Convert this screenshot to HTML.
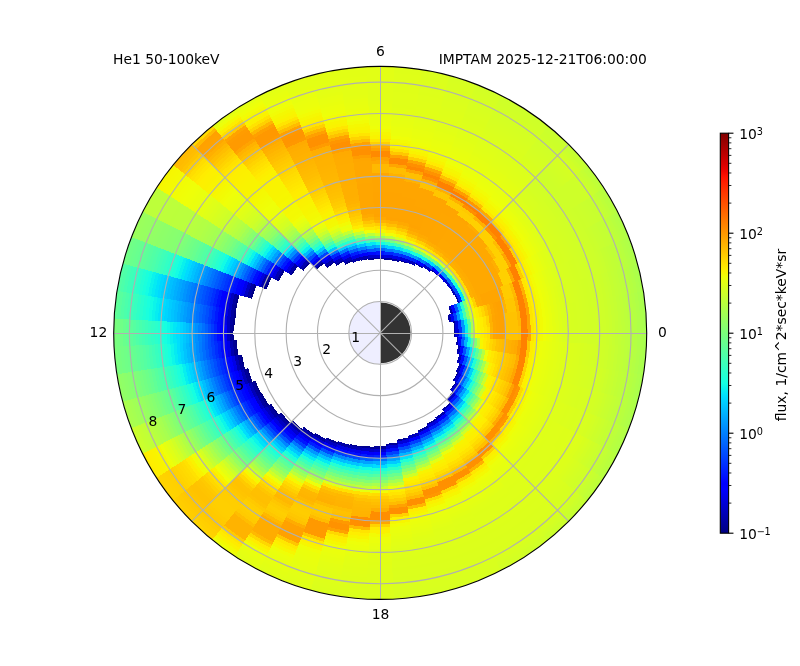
<!DOCTYPE html>
<html><head><meta charset="utf-8"><title>He1 50-100keV</title>
<style>html,body{margin:0;padding:0;background:#fff}svg{display:block}text{font-family:"DejaVu Sans","Liberation Sans",sans-serif;fill:#000}</style></head><body>
<svg width="800" height="666" viewBox="0 0 800 666">
<rect width="800" height="666" fill="#fff"/>
<defs><radialGradient id="g0" gradientUnits="userSpaceOnUse" cx="380.20" cy="332.90" r="266.50"><stop offset="0.2776" stop-color="#000094"/><stop offset="0.2824" stop-color="#000094"/><stop offset="0.2824" stop-color="#0000da"/><stop offset="0.2941" stop-color="#0000da"/><stop offset="0.2941" stop-color="#002fff"/><stop offset="0.3059" stop-color="#002fff"/><stop offset="0.3059" stop-color="#0094ff"/><stop offset="0.3176" stop-color="#0094ff"/><stop offset="0.3176" stop-color="#08efef"/><stop offset="0.3294" stop-color="#08efef"/><stop offset="0.3294" stop-color="#58ff9f"/><stop offset="0.3412" stop-color="#58ff9f"/><stop offset="0.3412" stop-color="#a7ff50"/><stop offset="0.3529" stop-color="#a7ff50"/><stop offset="0.3529" stop-color="#efff08"/><stop offset="0.3647" stop-color="#efff08"/><stop offset="0.3647" stop-color="#f6f701"/><stop offset="0.3765" stop-color="#f6f701"/><stop offset="0.3765" stop-color="#fdee00"/><stop offset="0.3882" stop-color="#fdee00"/><stop offset="0.3882" stop-color="#ffe600"/><stop offset="0.4000" stop-color="#ffe600"/><stop offset="0.4000" stop-color="#ffde00"/><stop offset="0.4118" stop-color="#ffde00"/><stop offset="0.4118" stop-color="#ffb500"/><stop offset="0.4235" stop-color="#ffb500"/><stop offset="0.4235" stop-color="#ffa500"/><stop offset="0.4353" stop-color="#ffa500"/><stop offset="0.4353" stop-color="#ffa200"/><stop offset="0.4471" stop-color="#ffa200"/><stop offset="0.4471" stop-color="#ffa100"/><stop offset="0.4706" stop-color="#ffa100"/><stop offset="0.4706" stop-color="#ffc200"/><stop offset="0.5176" stop-color="#ffc200"/><stop offset="0.5176" stop-color="#ffbe00"/><stop offset="0.5294" stop-color="#ffbe00"/><stop offset="0.5294" stop-color="#ff8000"/><stop offset="0.5529" stop-color="#ff8000"/><stop offset="0.5529" stop-color="#ffa300"/><stop offset="0.5647" stop-color="#ffa300"/><stop offset="0.5647" stop-color="#ffe500"/><stop offset="0.5765" stop-color="#ffe500"/><stop offset="0.5765" stop-color="#ffed00"/><stop offset="0.5882" stop-color="#ffed00"/><stop offset="0.5882" stop-color="#f8f400"/><stop offset="0.6000" stop-color="#f8f400"/><stop offset="0.6000" stop-color="#f2fb04"/><stop offset="0.6118" stop-color="#f2fb04"/><stop offset="0.6118" stop-color="#efff08"/><stop offset="0.6235" stop-color="#efff08"/><stop offset="0.6235" stop-color="#ebff0b"/><stop offset="0.6353" stop-color="#ebff0b"/><stop offset="0.6353" stop-color="#e8ff0f"/><stop offset="0.6471" stop-color="#e8ff0f"/><stop offset="0.6471" stop-color="#e4ff12"/><stop offset="0.6588" stop-color="#e4ff12"/><stop offset="0.6588" stop-color="#e1ff16"/><stop offset="0.6706" stop-color="#e1ff16"/><stop offset="0.6706" stop-color="#deff19"/><stop offset="0.6824" stop-color="#deff19"/><stop offset="0.6824" stop-color="#daff1d"/><stop offset="0.6941" stop-color="#daff1d"/><stop offset="0.6941" stop-color="#d8ff1f"/><stop offset="0.7059" stop-color="#d8ff1f"/><stop offset="0.7059" stop-color="#d7ff20"/><stop offset="0.7176" stop-color="#d7ff20"/><stop offset="0.7176" stop-color="#d6ff20"/><stop offset="0.7294" stop-color="#d6ff20"/><stop offset="0.7294" stop-color="#d5ff21"/><stop offset="0.7412" stop-color="#d5ff21"/><stop offset="0.7412" stop-color="#d5ff22"/><stop offset="0.7529" stop-color="#d5ff22"/><stop offset="0.7529" stop-color="#d4ff23"/><stop offset="0.7647" stop-color="#d4ff23"/><stop offset="0.7647" stop-color="#d3ff24"/><stop offset="0.7765" stop-color="#d3ff24"/><stop offset="0.7765" stop-color="#d2ff25"/><stop offset="0.7882" stop-color="#d2ff25"/><stop offset="0.7882" stop-color="#d1ff25"/><stop offset="0.8000" stop-color="#d1ff25"/><stop offset="0.8000" stop-color="#d1ff26"/><stop offset="0.8118" stop-color="#d1ff26"/><stop offset="0.8118" stop-color="#d0ff27"/><stop offset="0.8235" stop-color="#d0ff27"/><stop offset="0.8235" stop-color="#cfff28"/><stop offset="0.8353" stop-color="#cfff28"/><stop offset="0.8353" stop-color="#ceff29"/><stop offset="0.8471" stop-color="#ceff29"/><stop offset="0.8471" stop-color="#ccff2a"/><stop offset="0.8588" stop-color="#ccff2a"/><stop offset="0.8588" stop-color="#caff2d"/><stop offset="0.8706" stop-color="#caff2d"/><stop offset="0.8706" stop-color="#c7ff30"/><stop offset="0.8824" stop-color="#c7ff30"/><stop offset="0.8824" stop-color="#c4ff32"/><stop offset="0.8941" stop-color="#c4ff32"/><stop offset="0.8941" stop-color="#c2ff35"/><stop offset="0.9059" stop-color="#c2ff35"/><stop offset="0.9059" stop-color="#bfff38"/><stop offset="0.9176" stop-color="#bfff38"/><stop offset="0.9176" stop-color="#bcff3b"/><stop offset="0.9294" stop-color="#bcff3b"/><stop offset="0.9294" stop-color="#baff3d"/><stop offset="0.9412" stop-color="#baff3d"/><stop offset="0.9412" stop-color="#b6ff40"/><stop offset="0.9529" stop-color="#b6ff40"/><stop offset="0.9529" stop-color="#b3ff44"/><stop offset="0.9647" stop-color="#b3ff44"/><stop offset="0.9647" stop-color="#afff48"/><stop offset="0.9765" stop-color="#afff48"/><stop offset="0.9765" stop-color="#acff4b"/><stop offset="0.9882" stop-color="#acff4b"/><stop offset="0.9882" stop-color="#a8ff4f"/><stop offset="1.0000" stop-color="#a8ff4f"/></radialGradient>
<radialGradient id="g1" gradientUnits="userSpaceOnUse" cx="380.20" cy="332.90" r="266.50"><stop offset="0.2776" stop-color="#000094"/><stop offset="0.2824" stop-color="#000094"/><stop offset="0.2824" stop-color="#0000da"/><stop offset="0.2941" stop-color="#0000da"/><stop offset="0.2941" stop-color="#002fff"/><stop offset="0.3059" stop-color="#002fff"/><stop offset="0.3059" stop-color="#0094ff"/><stop offset="0.3176" stop-color="#0094ff"/><stop offset="0.3176" stop-color="#08efef"/><stop offset="0.3294" stop-color="#08efef"/><stop offset="0.3294" stop-color="#58ff9f"/><stop offset="0.3412" stop-color="#58ff9f"/><stop offset="0.3412" stop-color="#a7ff50"/><stop offset="0.3529" stop-color="#a7ff50"/><stop offset="0.3529" stop-color="#efff08"/><stop offset="0.3647" stop-color="#efff08"/><stop offset="0.3647" stop-color="#f6f600"/><stop offset="0.3765" stop-color="#f6f600"/><stop offset="0.3765" stop-color="#feed00"/><stop offset="0.3882" stop-color="#feed00"/><stop offset="0.3882" stop-color="#ffe400"/><stop offset="0.4000" stop-color="#ffe400"/><stop offset="0.4000" stop-color="#ffd400"/><stop offset="0.4118" stop-color="#ffd400"/><stop offset="0.4118" stop-color="#ffb200"/><stop offset="0.4235" stop-color="#ffb200"/><stop offset="0.4235" stop-color="#ffa500"/><stop offset="0.4353" stop-color="#ffa500"/><stop offset="0.4353" stop-color="#ffa200"/><stop offset="0.4471" stop-color="#ffa200"/><stop offset="0.4471" stop-color="#ffa100"/><stop offset="0.4706" stop-color="#ffa100"/><stop offset="0.4706" stop-color="#ffc200"/><stop offset="0.5176" stop-color="#ffc200"/><stop offset="0.5176" stop-color="#ffb600"/><stop offset="0.5294" stop-color="#ffb600"/><stop offset="0.5294" stop-color="#ff8000"/><stop offset="0.5529" stop-color="#ff8000"/><stop offset="0.5529" stop-color="#ffa300"/><stop offset="0.5647" stop-color="#ffa300"/><stop offset="0.5647" stop-color="#ffe500"/><stop offset="0.5765" stop-color="#ffe500"/><stop offset="0.5765" stop-color="#ffed00"/><stop offset="0.5882" stop-color="#ffed00"/><stop offset="0.5882" stop-color="#f8f400"/><stop offset="0.6000" stop-color="#f8f400"/><stop offset="0.6000" stop-color="#f2fb04"/><stop offset="0.6118" stop-color="#f2fb04"/><stop offset="0.6118" stop-color="#efff08"/><stop offset="0.6235" stop-color="#efff08"/><stop offset="0.6235" stop-color="#ebff0b"/><stop offset="0.6353" stop-color="#ebff0b"/><stop offset="0.6353" stop-color="#e8ff0f"/><stop offset="0.6471" stop-color="#e8ff0f"/><stop offset="0.6471" stop-color="#e4ff12"/><stop offset="0.6588" stop-color="#e4ff12"/><stop offset="0.6588" stop-color="#e1ff16"/><stop offset="0.6706" stop-color="#e1ff16"/><stop offset="0.6706" stop-color="#deff19"/><stop offset="0.6824" stop-color="#deff19"/><stop offset="0.6824" stop-color="#daff1d"/><stop offset="0.6941" stop-color="#daff1d"/><stop offset="0.6941" stop-color="#d8ff1f"/><stop offset="0.7059" stop-color="#d8ff1f"/><stop offset="0.7059" stop-color="#d7ff20"/><stop offset="0.7176" stop-color="#d7ff20"/><stop offset="0.7176" stop-color="#d6ff20"/><stop offset="0.7294" stop-color="#d6ff20"/><stop offset="0.7294" stop-color="#d5ff21"/><stop offset="0.7412" stop-color="#d5ff21"/><stop offset="0.7412" stop-color="#d5ff22"/><stop offset="0.7529" stop-color="#d5ff22"/><stop offset="0.7529" stop-color="#d4ff23"/><stop offset="0.7647" stop-color="#d4ff23"/><stop offset="0.7647" stop-color="#d3ff24"/><stop offset="0.7765" stop-color="#d3ff24"/><stop offset="0.7765" stop-color="#d2ff25"/><stop offset="0.7882" stop-color="#d2ff25"/><stop offset="0.7882" stop-color="#d1ff25"/><stop offset="0.8000" stop-color="#d1ff25"/><stop offset="0.8000" stop-color="#d1ff26"/><stop offset="0.8118" stop-color="#d1ff26"/><stop offset="0.8118" stop-color="#d0ff27"/><stop offset="0.8235" stop-color="#d0ff27"/><stop offset="0.8235" stop-color="#cfff28"/><stop offset="0.8353" stop-color="#cfff28"/><stop offset="0.8353" stop-color="#ceff29"/><stop offset="0.8471" stop-color="#ceff29"/><stop offset="0.8471" stop-color="#ccff2a"/><stop offset="0.8588" stop-color="#ccff2a"/><stop offset="0.8588" stop-color="#caff2d"/><stop offset="0.8706" stop-color="#caff2d"/><stop offset="0.8706" stop-color="#c7ff30"/><stop offset="0.8824" stop-color="#c7ff30"/><stop offset="0.8824" stop-color="#c5ff32"/><stop offset="0.8941" stop-color="#c5ff32"/><stop offset="0.8941" stop-color="#c2ff35"/><stop offset="0.9059" stop-color="#c2ff35"/><stop offset="0.9059" stop-color="#c0ff37"/><stop offset="0.9176" stop-color="#c0ff37"/><stop offset="0.9176" stop-color="#bdff3a"/><stop offset="0.9294" stop-color="#bdff3a"/><stop offset="0.9294" stop-color="#baff3c"/><stop offset="0.9412" stop-color="#baff3c"/><stop offset="0.9412" stop-color="#b7ff40"/><stop offset="0.9529" stop-color="#b7ff40"/><stop offset="0.9529" stop-color="#b4ff43"/><stop offset="0.9647" stop-color="#b4ff43"/><stop offset="0.9647" stop-color="#b0ff47"/><stop offset="0.9765" stop-color="#b0ff47"/><stop offset="0.9765" stop-color="#acff4a"/><stop offset="0.9882" stop-color="#acff4a"/><stop offset="0.9882" stop-color="#a9ff4e"/><stop offset="1.0000" stop-color="#a9ff4e"/></radialGradient>
<radialGradient id="g2" gradientUnits="userSpaceOnUse" cx="380.20" cy="332.90" r="266.50"><stop offset="0.2612" stop-color="#0000a3"/><stop offset="0.2706" stop-color="#0000a3"/><stop offset="0.2706" stop-color="#0000f3"/><stop offset="0.2824" stop-color="#0000f3"/><stop offset="0.2824" stop-color="#003dff"/><stop offset="0.2941" stop-color="#003dff"/><stop offset="0.2941" stop-color="#0096ff"/><stop offset="0.3059" stop-color="#0096ff"/><stop offset="0.3059" stop-color="#01e6f6"/><stop offset="0.3176" stop-color="#01e6f6"/><stop offset="0.3176" stop-color="#46ffb0"/><stop offset="0.3294" stop-color="#46ffb0"/><stop offset="0.3294" stop-color="#90ff67"/><stop offset="0.3412" stop-color="#90ff67"/><stop offset="0.3412" stop-color="#cfff28"/><stop offset="0.3529" stop-color="#cfff28"/><stop offset="0.3529" stop-color="#f3f903"/><stop offset="0.3647" stop-color="#f3f903"/><stop offset="0.3647" stop-color="#fdee00"/><stop offset="0.3765" stop-color="#fdee00"/><stop offset="0.3765" stop-color="#ffe300"/><stop offset="0.3882" stop-color="#ffe300"/><stop offset="0.3882" stop-color="#ffd600"/><stop offset="0.4000" stop-color="#ffd600"/><stop offset="0.4000" stop-color="#ffc500"/><stop offset="0.4118" stop-color="#ffc500"/><stop offset="0.4118" stop-color="#ffb400"/><stop offset="0.4235" stop-color="#ffb400"/><stop offset="0.4235" stop-color="#ffa700"/><stop offset="0.4353" stop-color="#ffa700"/><stop offset="0.4353" stop-color="#ffa300"/><stop offset="0.4471" stop-color="#ffa300"/><stop offset="0.4471" stop-color="#ffa100"/><stop offset="0.4706" stop-color="#ffa100"/><stop offset="0.4706" stop-color="#ffb300"/><stop offset="0.4824" stop-color="#ffb300"/><stop offset="0.4824" stop-color="#ffc600"/><stop offset="0.5176" stop-color="#ffc600"/><stop offset="0.5176" stop-color="#ffaf00"/><stop offset="0.5294" stop-color="#ffaf00"/><stop offset="0.5294" stop-color="#ff8000"/><stop offset="0.5529" stop-color="#ff8000"/><stop offset="0.5529" stop-color="#ffa300"/><stop offset="0.5647" stop-color="#ffa300"/><stop offset="0.5647" stop-color="#ffe500"/><stop offset="0.5765" stop-color="#ffe500"/><stop offset="0.5765" stop-color="#ffed00"/><stop offset="0.5882" stop-color="#ffed00"/><stop offset="0.5882" stop-color="#f8f400"/><stop offset="0.6000" stop-color="#f8f400"/><stop offset="0.6000" stop-color="#f2fb04"/><stop offset="0.6118" stop-color="#f2fb04"/><stop offset="0.6118" stop-color="#efff08"/><stop offset="0.6235" stop-color="#efff08"/><stop offset="0.6235" stop-color="#ebff0b"/><stop offset="0.6353" stop-color="#ebff0b"/><stop offset="0.6353" stop-color="#e8ff0f"/><stop offset="0.6471" stop-color="#e8ff0f"/><stop offset="0.6471" stop-color="#e4ff12"/><stop offset="0.6588" stop-color="#e4ff12"/><stop offset="0.6588" stop-color="#e1ff16"/><stop offset="0.6706" stop-color="#e1ff16"/><stop offset="0.6706" stop-color="#deff18"/><stop offset="0.6824" stop-color="#deff18"/><stop offset="0.6824" stop-color="#dbff1b"/><stop offset="0.6941" stop-color="#dbff1b"/><stop offset="0.6941" stop-color="#d8ff1e"/><stop offset="0.7059" stop-color="#d8ff1e"/><stop offset="0.7059" stop-color="#d7ff1f"/><stop offset="0.7176" stop-color="#d7ff1f"/><stop offset="0.7176" stop-color="#d7ff20"/><stop offset="0.7294" stop-color="#d7ff20"/><stop offset="0.7294" stop-color="#d6ff21"/><stop offset="0.7412" stop-color="#d6ff21"/><stop offset="0.7412" stop-color="#d5ff22"/><stop offset="0.7529" stop-color="#d5ff22"/><stop offset="0.7529" stop-color="#d4ff23"/><stop offset="0.7647" stop-color="#d4ff23"/><stop offset="0.7647" stop-color="#d3ff24"/><stop offset="0.7765" stop-color="#d3ff24"/><stop offset="0.7765" stop-color="#d2ff24"/><stop offset="0.7882" stop-color="#d2ff24"/><stop offset="0.7882" stop-color="#d1ff25"/><stop offset="0.8000" stop-color="#d1ff25"/><stop offset="0.8000" stop-color="#d1ff26"/><stop offset="0.8118" stop-color="#d1ff26"/><stop offset="0.8118" stop-color="#d0ff27"/><stop offset="0.8235" stop-color="#d0ff27"/><stop offset="0.8235" stop-color="#cfff28"/><stop offset="0.8353" stop-color="#cfff28"/><stop offset="0.8353" stop-color="#ceff29"/><stop offset="0.8471" stop-color="#ceff29"/><stop offset="0.8471" stop-color="#ccff2a"/><stop offset="0.8588" stop-color="#ccff2a"/><stop offset="0.8588" stop-color="#caff2d"/><stop offset="0.8706" stop-color="#caff2d"/><stop offset="0.8706" stop-color="#c8ff2f"/><stop offset="0.8824" stop-color="#c8ff2f"/><stop offset="0.8824" stop-color="#c5ff31"/><stop offset="0.8941" stop-color="#c5ff31"/><stop offset="0.8941" stop-color="#c3ff34"/><stop offset="0.9059" stop-color="#c3ff34"/><stop offset="0.9059" stop-color="#c1ff36"/><stop offset="0.9176" stop-color="#c1ff36"/><stop offset="0.9176" stop-color="#beff39"/><stop offset="0.9294" stop-color="#beff39"/><stop offset="0.9294" stop-color="#bcff3b"/><stop offset="0.9412" stop-color="#bcff3b"/><stop offset="0.9412" stop-color="#b9ff3e"/><stop offset="0.9529" stop-color="#b9ff3e"/><stop offset="0.9529" stop-color="#b5ff41"/><stop offset="0.9647" stop-color="#b5ff41"/><stop offset="0.9647" stop-color="#b2ff45"/><stop offset="0.9765" stop-color="#b2ff45"/><stop offset="0.9765" stop-color="#aeff49"/><stop offset="0.9882" stop-color="#aeff49"/><stop offset="0.9882" stop-color="#aaff4c"/><stop offset="1.0000" stop-color="#aaff4c"/></radialGradient>
<radialGradient id="g3" gradientUnits="userSpaceOnUse" cx="380.20" cy="332.90" r="266.50"><stop offset="0.2741" stop-color="#0000a4"/><stop offset="0.2824" stop-color="#0000a4"/><stop offset="0.2824" stop-color="#0000fc"/><stop offset="0.2941" stop-color="#0000fc"/><stop offset="0.2941" stop-color="#0054ff"/><stop offset="0.3059" stop-color="#0054ff"/><stop offset="0.3059" stop-color="#00b9ff"/><stop offset="0.3176" stop-color="#00b9ff"/><stop offset="0.3176" stop-color="#28ffcf"/><stop offset="0.3294" stop-color="#28ffcf"/><stop offset="0.3294" stop-color="#7eff79"/><stop offset="0.3412" stop-color="#7eff79"/><stop offset="0.3412" stop-color="#caff2d"/><stop offset="0.3529" stop-color="#caff2d"/><stop offset="0.3529" stop-color="#fbf100"/><stop offset="0.3647" stop-color="#fbf100"/><stop offset="0.3647" stop-color="#ffd300"/><stop offset="0.3765" stop-color="#ffd300"/><stop offset="0.3765" stop-color="#ffad00"/><stop offset="0.3882" stop-color="#ffad00"/><stop offset="0.3882" stop-color="#ffa900"/><stop offset="0.4000" stop-color="#ffa900"/><stop offset="0.4000" stop-color="#ffa500"/><stop offset="0.4824" stop-color="#ffa500"/><stop offset="0.4824" stop-color="#ffcb00"/><stop offset="0.5176" stop-color="#ffcb00"/><stop offset="0.5176" stop-color="#ffba00"/><stop offset="0.5294" stop-color="#ffba00"/><stop offset="0.5294" stop-color="#ff8000"/><stop offset="0.5529" stop-color="#ff8000"/><stop offset="0.5529" stop-color="#ffaf00"/><stop offset="0.5647" stop-color="#ffaf00"/><stop offset="0.5647" stop-color="#ffe600"/><stop offset="0.5765" stop-color="#ffe600"/><stop offset="0.5765" stop-color="#feed00"/><stop offset="0.5882" stop-color="#feed00"/><stop offset="0.5882" stop-color="#f8f400"/><stop offset="0.6000" stop-color="#f8f400"/><stop offset="0.6000" stop-color="#f2fb05"/><stop offset="0.6118" stop-color="#f2fb05"/><stop offset="0.6118" stop-color="#eeff08"/><stop offset="0.6235" stop-color="#eeff08"/><stop offset="0.6235" stop-color="#ebff0c"/><stop offset="0.6353" stop-color="#ebff0c"/><stop offset="0.6353" stop-color="#e8ff0f"/><stop offset="0.6471" stop-color="#e8ff0f"/><stop offset="0.6471" stop-color="#e4ff13"/><stop offset="0.6588" stop-color="#e4ff13"/><stop offset="0.6588" stop-color="#e1ff16"/><stop offset="0.6706" stop-color="#e1ff16"/><stop offset="0.6706" stop-color="#dfff18"/><stop offset="0.6824" stop-color="#dfff18"/><stop offset="0.6824" stop-color="#dcff1b"/><stop offset="0.6941" stop-color="#dcff1b"/><stop offset="0.6941" stop-color="#daff1d"/><stop offset="0.7059" stop-color="#daff1d"/><stop offset="0.7059" stop-color="#d8ff1f"/><stop offset="0.7176" stop-color="#d8ff1f"/><stop offset="0.7176" stop-color="#d7ff20"/><stop offset="0.7294" stop-color="#d7ff20"/><stop offset="0.7294" stop-color="#d6ff21"/><stop offset="0.7412" stop-color="#d6ff21"/><stop offset="0.7412" stop-color="#d5ff22"/><stop offset="0.7529" stop-color="#d5ff22"/><stop offset="0.7529" stop-color="#d4ff22"/><stop offset="0.7647" stop-color="#d4ff22"/><stop offset="0.7647" stop-color="#d3ff23"/><stop offset="0.7765" stop-color="#d3ff23"/><stop offset="0.7765" stop-color="#d3ff24"/><stop offset="0.7882" stop-color="#d3ff24"/><stop offset="0.7882" stop-color="#d2ff25"/><stop offset="0.8000" stop-color="#d2ff25"/><stop offset="0.8000" stop-color="#d1ff26"/><stop offset="0.8118" stop-color="#d1ff26"/><stop offset="0.8118" stop-color="#d0ff27"/><stop offset="0.8235" stop-color="#d0ff27"/><stop offset="0.8235" stop-color="#cfff28"/><stop offset="0.8353" stop-color="#cfff28"/><stop offset="0.8353" stop-color="#ceff29"/><stop offset="0.8471" stop-color="#ceff29"/><stop offset="0.8471" stop-color="#cdff2a"/><stop offset="0.8588" stop-color="#cdff2a"/><stop offset="0.8588" stop-color="#cbff2c"/><stop offset="0.8706" stop-color="#cbff2c"/><stop offset="0.8706" stop-color="#c9ff2e"/><stop offset="0.8824" stop-color="#c9ff2e"/><stop offset="0.8824" stop-color="#c6ff30"/><stop offset="0.8941" stop-color="#c6ff30"/><stop offset="0.8941" stop-color="#c4ff32"/><stop offset="0.9059" stop-color="#c4ff32"/><stop offset="0.9059" stop-color="#c2ff34"/><stop offset="0.9176" stop-color="#c2ff34"/><stop offset="0.9176" stop-color="#c0ff36"/><stop offset="0.9294" stop-color="#c0ff36"/><stop offset="0.9294" stop-color="#beff39"/><stop offset="0.9412" stop-color="#beff39"/><stop offset="0.9412" stop-color="#bbff3b"/><stop offset="0.9529" stop-color="#bbff3b"/><stop offset="0.9529" stop-color="#b8ff3f"/><stop offset="0.9647" stop-color="#b8ff3f"/><stop offset="0.9647" stop-color="#b4ff43"/><stop offset="0.9765" stop-color="#b4ff43"/><stop offset="0.9765" stop-color="#b1ff46"/><stop offset="0.9882" stop-color="#b1ff46"/><stop offset="0.9882" stop-color="#adff4a"/><stop offset="1.0000" stop-color="#adff4a"/></radialGradient>
<radialGradient id="g4" gradientUnits="userSpaceOnUse" cx="380.20" cy="332.90" r="266.50"><stop offset="0.3129" stop-color="#0000a7"/><stop offset="0.3176" stop-color="#0000a7"/><stop offset="0.3176" stop-color="#0023ff"/><stop offset="0.3294" stop-color="#0023ff"/><stop offset="0.3294" stop-color="#00e1fa"/><stop offset="0.3412" stop-color="#00e1fa"/><stop offset="0.3412" stop-color="#9aff5d"/><stop offset="0.3529" stop-color="#9aff5d"/><stop offset="0.3529" stop-color="#ffe500"/><stop offset="0.3647" stop-color="#ffe500"/><stop offset="0.3647" stop-color="#ffb000"/><stop offset="0.3765" stop-color="#ffb000"/><stop offset="0.3765" stop-color="#ffac00"/><stop offset="0.3882" stop-color="#ffac00"/><stop offset="0.3882" stop-color="#ffa800"/><stop offset="0.4941" stop-color="#ffa800"/><stop offset="0.4941" stop-color="#ffd000"/><stop offset="0.5294" stop-color="#ffd000"/><stop offset="0.5294" stop-color="#ffa800"/><stop offset="0.5412" stop-color="#ffa800"/><stop offset="0.5412" stop-color="#ff8000"/><stop offset="0.5647" stop-color="#ff8000"/><stop offset="0.5647" stop-color="#ffcb00"/><stop offset="0.5765" stop-color="#ffcb00"/><stop offset="0.5765" stop-color="#ffe800"/><stop offset="0.5882" stop-color="#ffe800"/><stop offset="0.5882" stop-color="#fcef00"/><stop offset="0.6000" stop-color="#fcef00"/><stop offset="0.6000" stop-color="#f6f701"/><stop offset="0.6118" stop-color="#f6f701"/><stop offset="0.6118" stop-color="#f1fc06"/><stop offset="0.6235" stop-color="#f1fc06"/><stop offset="0.6235" stop-color="#edff09"/><stop offset="0.6353" stop-color="#edff09"/><stop offset="0.6353" stop-color="#eaff0d"/><stop offset="0.6471" stop-color="#eaff0d"/><stop offset="0.6471" stop-color="#e7ff10"/><stop offset="0.6588" stop-color="#e7ff10"/><stop offset="0.6588" stop-color="#e3ff14"/><stop offset="0.6706" stop-color="#e3ff14"/><stop offset="0.6706" stop-color="#e0ff16"/><stop offset="0.6824" stop-color="#e0ff16"/><stop offset="0.6824" stop-color="#deff19"/><stop offset="0.6941" stop-color="#deff19"/><stop offset="0.6941" stop-color="#dbff1c"/><stop offset="0.7059" stop-color="#dbff1c"/><stop offset="0.7059" stop-color="#d8ff1e"/><stop offset="0.7176" stop-color="#d8ff1e"/><stop offset="0.7176" stop-color="#d7ff1f"/><stop offset="0.7294" stop-color="#d7ff1f"/><stop offset="0.7294" stop-color="#d6ff20"/><stop offset="0.7412" stop-color="#d6ff20"/><stop offset="0.7412" stop-color="#d6ff21"/><stop offset="0.7529" stop-color="#d6ff21"/><stop offset="0.7529" stop-color="#d5ff22"/><stop offset="0.7647" stop-color="#d5ff22"/><stop offset="0.7647" stop-color="#d4ff23"/><stop offset="0.7765" stop-color="#d4ff23"/><stop offset="0.7765" stop-color="#d3ff24"/><stop offset="0.7882" stop-color="#d3ff24"/><stop offset="0.7882" stop-color="#d2ff25"/><stop offset="0.8000" stop-color="#d2ff25"/><stop offset="0.8000" stop-color="#d1ff26"/><stop offset="0.8118" stop-color="#d1ff26"/><stop offset="0.8118" stop-color="#d0ff27"/><stop offset="0.8235" stop-color="#d0ff27"/><stop offset="0.8235" stop-color="#cfff28"/><stop offset="0.8353" stop-color="#cfff28"/><stop offset="0.8353" stop-color="#ceff29"/><stop offset="0.8471" stop-color="#ceff29"/><stop offset="0.8471" stop-color="#cdff2a"/><stop offset="0.8588" stop-color="#cdff2a"/><stop offset="0.8588" stop-color="#cbff2b"/><stop offset="0.8706" stop-color="#cbff2b"/><stop offset="0.8706" stop-color="#caff2d"/><stop offset="0.8824" stop-color="#caff2d"/><stop offset="0.8824" stop-color="#c8ff2f"/><stop offset="0.8941" stop-color="#c8ff2f"/><stop offset="0.8941" stop-color="#c7ff30"/><stop offset="0.9059" stop-color="#c7ff30"/><stop offset="0.9059" stop-color="#c5ff32"/><stop offset="0.9176" stop-color="#c5ff32"/><stop offset="0.9176" stop-color="#c4ff33"/><stop offset="0.9294" stop-color="#c4ff33"/><stop offset="0.9294" stop-color="#c2ff35"/><stop offset="0.9412" stop-color="#c2ff35"/><stop offset="0.9412" stop-color="#bfff37"/><stop offset="0.9529" stop-color="#bfff37"/><stop offset="0.9529" stop-color="#bcff3b"/><stop offset="0.9647" stop-color="#bcff3b"/><stop offset="0.9647" stop-color="#b8ff3f"/><stop offset="0.9765" stop-color="#b8ff3f"/><stop offset="0.9765" stop-color="#b5ff42"/><stop offset="0.9882" stop-color="#b5ff42"/><stop offset="0.9882" stop-color="#b1ff46"/><stop offset="1.0000" stop-color="#b1ff46"/></radialGradient>
<radialGradient id="g5" gradientUnits="userSpaceOnUse" cx="380.20" cy="332.90" r="266.50"><stop offset="0.3106" stop-color="#0000b9"/><stop offset="0.3176" stop-color="#0000b9"/><stop offset="0.3176" stop-color="#0044ff"/><stop offset="0.3294" stop-color="#0044ff"/><stop offset="0.3294" stop-color="#10fae6"/><stop offset="0.3412" stop-color="#10fae6"/><stop offset="0.3412" stop-color="#aaff4d"/><stop offset="0.3529" stop-color="#aaff4d"/><stop offset="0.3529" stop-color="#ffde00"/><stop offset="0.3647" stop-color="#ffde00"/><stop offset="0.3647" stop-color="#ffb000"/><stop offset="0.3765" stop-color="#ffb000"/><stop offset="0.3765" stop-color="#ffac00"/><stop offset="0.3882" stop-color="#ffac00"/><stop offset="0.3882" stop-color="#ffa800"/><stop offset="0.4941" stop-color="#ffa800"/><stop offset="0.4941" stop-color="#ffaf00"/><stop offset="0.5059" stop-color="#ffaf00"/><stop offset="0.5059" stop-color="#ffd000"/><stop offset="0.5412" stop-color="#ffd000"/><stop offset="0.5412" stop-color="#ffa500"/><stop offset="0.5529" stop-color="#ffa500"/><stop offset="0.5529" stop-color="#ff8000"/><stop offset="0.5765" stop-color="#ff8000"/><stop offset="0.5765" stop-color="#ffd000"/><stop offset="0.5882" stop-color="#ffd000"/><stop offset="0.5882" stop-color="#ffe900"/><stop offset="0.6000" stop-color="#ffe900"/><stop offset="0.6000" stop-color="#fbf000"/><stop offset="0.6118" stop-color="#fbf000"/><stop offset="0.6118" stop-color="#f5f702"/><stop offset="0.6235" stop-color="#f5f702"/><stop offset="0.6235" stop-color="#f1fd06"/><stop offset="0.6353" stop-color="#f1fd06"/><stop offset="0.6353" stop-color="#edff0a"/><stop offset="0.6471" stop-color="#edff0a"/><stop offset="0.6471" stop-color="#eaff0d"/><stop offset="0.6588" stop-color="#eaff0d"/><stop offset="0.6588" stop-color="#e6ff11"/><stop offset="0.6706" stop-color="#e6ff11"/><stop offset="0.6706" stop-color="#e3ff14"/><stop offset="0.6824" stop-color="#e3ff14"/><stop offset="0.6824" stop-color="#e0ff17"/><stop offset="0.6941" stop-color="#e0ff17"/><stop offset="0.6941" stop-color="#ddff1a"/><stop offset="0.7059" stop-color="#ddff1a"/><stop offset="0.7059" stop-color="#daff1d"/><stop offset="0.7176" stop-color="#daff1d"/><stop offset="0.7176" stop-color="#d8ff1f"/><stop offset="0.7294" stop-color="#d8ff1f"/><stop offset="0.7294" stop-color="#d7ff20"/><stop offset="0.7412" stop-color="#d7ff20"/><stop offset="0.7412" stop-color="#d6ff21"/><stop offset="0.7529" stop-color="#d6ff21"/><stop offset="0.7529" stop-color="#d5ff22"/><stop offset="0.7647" stop-color="#d5ff22"/><stop offset="0.7647" stop-color="#d4ff23"/><stop offset="0.7765" stop-color="#d4ff23"/><stop offset="0.7765" stop-color="#d3ff24"/><stop offset="0.7882" stop-color="#d3ff24"/><stop offset="0.7882" stop-color="#d2ff25"/><stop offset="0.8000" stop-color="#d2ff25"/><stop offset="0.8000" stop-color="#d1ff26"/><stop offset="0.8118" stop-color="#d1ff26"/><stop offset="0.8118" stop-color="#d0ff27"/><stop offset="0.8235" stop-color="#d0ff27"/><stop offset="0.8235" stop-color="#cfff28"/><stop offset="0.8353" stop-color="#cfff28"/><stop offset="0.8353" stop-color="#ceff29"/><stop offset="0.8471" stop-color="#ceff29"/><stop offset="0.8471" stop-color="#cdff2a"/><stop offset="0.8588" stop-color="#cdff2a"/><stop offset="0.8588" stop-color="#ccff2a"/><stop offset="0.8706" stop-color="#ccff2a"/><stop offset="0.8706" stop-color="#ccff2b"/><stop offset="0.8824" stop-color="#ccff2b"/><stop offset="0.8824" stop-color="#cbff2c"/><stop offset="0.8941" stop-color="#cbff2c"/><stop offset="0.8941" stop-color="#caff2d"/><stop offset="0.9059" stop-color="#caff2d"/><stop offset="0.9059" stop-color="#c9ff2e"/><stop offset="0.9176" stop-color="#c9ff2e"/><stop offset="0.9176" stop-color="#c8ff2e"/><stop offset="0.9294" stop-color="#c8ff2e"/><stop offset="0.9294" stop-color="#c7ff2f"/><stop offset="0.9412" stop-color="#c7ff2f"/><stop offset="0.9412" stop-color="#c5ff32"/><stop offset="0.9529" stop-color="#c5ff32"/><stop offset="0.9529" stop-color="#c2ff35"/><stop offset="0.9647" stop-color="#c2ff35"/><stop offset="0.9647" stop-color="#beff39"/><stop offset="0.9765" stop-color="#beff39"/><stop offset="0.9765" stop-color="#baff3c"/><stop offset="0.9882" stop-color="#baff3c"/><stop offset="0.9882" stop-color="#b7ff40"/><stop offset="1.0000" stop-color="#b7ff40"/></radialGradient>
<radialGradient id="g6" gradientUnits="userSpaceOnUse" cx="380.20" cy="332.90" r="266.50"><stop offset="0.3082" stop-color="#0000cb"/><stop offset="0.3176" stop-color="#0000cb"/><stop offset="0.3176" stop-color="#0064ff"/><stop offset="0.3294" stop-color="#0064ff"/><stop offset="0.3294" stop-color="#25ffd2"/><stop offset="0.3412" stop-color="#25ffd2"/><stop offset="0.3412" stop-color="#b9ff3e"/><stop offset="0.3529" stop-color="#b9ff3e"/><stop offset="0.3529" stop-color="#ffde00"/><stop offset="0.3647" stop-color="#ffde00"/><stop offset="0.3647" stop-color="#ffb000"/><stop offset="0.3765" stop-color="#ffb000"/><stop offset="0.3765" stop-color="#ffac00"/><stop offset="0.3882" stop-color="#ffac00"/><stop offset="0.3882" stop-color="#ffa800"/><stop offset="0.5059" stop-color="#ffa800"/><stop offset="0.5059" stop-color="#ffbc00"/><stop offset="0.5176" stop-color="#ffbc00"/><stop offset="0.5176" stop-color="#ffd000"/><stop offset="0.5412" stop-color="#ffd000"/><stop offset="0.5412" stop-color="#ffbc00"/><stop offset="0.5529" stop-color="#ffbc00"/><stop offset="0.5529" stop-color="#ff8000"/><stop offset="0.5765" stop-color="#ff8000"/><stop offset="0.5765" stop-color="#ffa300"/><stop offset="0.5882" stop-color="#ffa300"/><stop offset="0.5882" stop-color="#ffe500"/><stop offset="0.6000" stop-color="#ffe500"/><stop offset="0.6000" stop-color="#ffed00"/><stop offset="0.6118" stop-color="#ffed00"/><stop offset="0.6118" stop-color="#f8f400"/><stop offset="0.6235" stop-color="#f8f400"/><stop offset="0.6235" stop-color="#f2fb04"/><stop offset="0.6353" stop-color="#f2fb04"/><stop offset="0.6353" stop-color="#efff08"/><stop offset="0.6471" stop-color="#efff08"/><stop offset="0.6471" stop-color="#ebff0b"/><stop offset="0.6588" stop-color="#ebff0b"/><stop offset="0.6588" stop-color="#e8ff0f"/><stop offset="0.6706" stop-color="#e8ff0f"/><stop offset="0.6706" stop-color="#e4ff12"/><stop offset="0.6824" stop-color="#e4ff12"/><stop offset="0.6824" stop-color="#e1ff15"/><stop offset="0.6941" stop-color="#e1ff15"/><stop offset="0.6941" stop-color="#dfff18"/><stop offset="0.7059" stop-color="#dfff18"/><stop offset="0.7059" stop-color="#dcff1b"/><stop offset="0.7176" stop-color="#dcff1b"/><stop offset="0.7176" stop-color="#daff1d"/><stop offset="0.7294" stop-color="#daff1d"/><stop offset="0.7294" stop-color="#d8ff1f"/><stop offset="0.7412" stop-color="#d8ff1f"/><stop offset="0.7412" stop-color="#d7ff20"/><stop offset="0.7529" stop-color="#d7ff20"/><stop offset="0.7529" stop-color="#d6ff21"/><stop offset="0.7647" stop-color="#d6ff21"/><stop offset="0.7647" stop-color="#d5ff22"/><stop offset="0.7765" stop-color="#d5ff22"/><stop offset="0.7765" stop-color="#d4ff23"/><stop offset="0.7882" stop-color="#d4ff23"/><stop offset="0.7882" stop-color="#d2ff24"/><stop offset="0.8000" stop-color="#d2ff24"/><stop offset="0.8000" stop-color="#d1ff25"/><stop offset="0.8118" stop-color="#d1ff25"/><stop offset="0.8118" stop-color="#d0ff26"/><stop offset="0.8235" stop-color="#d0ff26"/><stop offset="0.8235" stop-color="#cfff28"/><stop offset="0.8353" stop-color="#cfff28"/><stop offset="0.8353" stop-color="#ceff29"/><stop offset="0.9412" stop-color="#ceff29"/><stop offset="0.9412" stop-color="#ccff2b"/><stop offset="0.9529" stop-color="#ccff2b"/><stop offset="0.9529" stop-color="#c8ff2f"/><stop offset="0.9647" stop-color="#c8ff2f"/><stop offset="0.9647" stop-color="#c5ff32"/><stop offset="0.9765" stop-color="#c5ff32"/><stop offset="0.9765" stop-color="#c1ff36"/><stop offset="0.9882" stop-color="#c1ff36"/><stop offset="0.9882" stop-color="#bdff39"/><stop offset="1.0000" stop-color="#bdff39"/></radialGradient>
<radialGradient id="g7" gradientUnits="userSpaceOnUse" cx="380.20" cy="332.90" r="266.50"><stop offset="0.3059" stop-color="#0000ed"/><stop offset="0.3176" stop-color="#0000ed"/><stop offset="0.3176" stop-color="#0094ff"/><stop offset="0.3294" stop-color="#0094ff"/><stop offset="0.3294" stop-color="#49ffae"/><stop offset="0.3412" stop-color="#49ffae"/><stop offset="0.3412" stop-color="#d5ff22"/><stop offset="0.3529" stop-color="#d5ff22"/><stop offset="0.3529" stop-color="#ffde00"/><stop offset="0.3647" stop-color="#ffde00"/><stop offset="0.3647" stop-color="#ffb000"/><stop offset="0.3765" stop-color="#ffb000"/><stop offset="0.3765" stop-color="#ffac00"/><stop offset="0.3882" stop-color="#ffac00"/><stop offset="0.3882" stop-color="#ffa800"/><stop offset="0.5176" stop-color="#ffa800"/><stop offset="0.5176" stop-color="#ffd000"/><stop offset="0.5529" stop-color="#ffd000"/><stop offset="0.5529" stop-color="#ff9200"/><stop offset="0.5647" stop-color="#ff9200"/><stop offset="0.5647" stop-color="#ff8000"/><stop offset="0.5882" stop-color="#ff8000"/><stop offset="0.5882" stop-color="#ffda00"/><stop offset="0.6000" stop-color="#ffda00"/><stop offset="0.6000" stop-color="#ffea00"/><stop offset="0.6118" stop-color="#ffea00"/><stop offset="0.6118" stop-color="#faf200"/><stop offset="0.6235" stop-color="#faf200"/><stop offset="0.6235" stop-color="#f4f903"/><stop offset="0.6353" stop-color="#f4f903"/><stop offset="0.6353" stop-color="#f0fd07"/><stop offset="0.6471" stop-color="#f0fd07"/><stop offset="0.6471" stop-color="#ecff0a"/><stop offset="0.6588" stop-color="#ecff0a"/><stop offset="0.6588" stop-color="#e9ff0e"/><stop offset="0.6706" stop-color="#e9ff0e"/><stop offset="0.6706" stop-color="#e5ff11"/><stop offset="0.6824" stop-color="#e5ff11"/><stop offset="0.6824" stop-color="#e2ff14"/><stop offset="0.6941" stop-color="#e2ff14"/><stop offset="0.6941" stop-color="#e0ff17"/><stop offset="0.7059" stop-color="#e0ff17"/><stop offset="0.7059" stop-color="#deff19"/><stop offset="0.7176" stop-color="#deff19"/><stop offset="0.7176" stop-color="#dcff1b"/><stop offset="0.7294" stop-color="#dcff1b"/><stop offset="0.7294" stop-color="#d9ff1d"/><stop offset="0.7412" stop-color="#d9ff1d"/><stop offset="0.7412" stop-color="#d8ff1f"/><stop offset="0.7529" stop-color="#d8ff1f"/><stop offset="0.7529" stop-color="#d7ff20"/><stop offset="0.7647" stop-color="#d7ff20"/><stop offset="0.7647" stop-color="#d5ff21"/><stop offset="0.7765" stop-color="#d5ff21"/><stop offset="0.7765" stop-color="#d4ff23"/><stop offset="0.7882" stop-color="#d4ff23"/><stop offset="0.7882" stop-color="#d3ff24"/><stop offset="0.8000" stop-color="#d3ff24"/><stop offset="0.8000" stop-color="#d2ff25"/><stop offset="0.8118" stop-color="#d2ff25"/><stop offset="0.8118" stop-color="#d1ff26"/><stop offset="0.8235" stop-color="#d1ff26"/><stop offset="0.8235" stop-color="#cfff27"/><stop offset="0.8353" stop-color="#cfff27"/><stop offset="0.8353" stop-color="#ceff29"/><stop offset="0.8588" stop-color="#ceff29"/><stop offset="0.8588" stop-color="#cfff28"/><stop offset="0.8706" stop-color="#cfff28"/><stop offset="0.8706" stop-color="#d0ff27"/><stop offset="0.8824" stop-color="#d0ff27"/><stop offset="0.8824" stop-color="#d1ff26"/><stop offset="0.8941" stop-color="#d1ff26"/><stop offset="0.8941" stop-color="#d2ff25"/><stop offset="0.9059" stop-color="#d2ff25"/><stop offset="0.9059" stop-color="#d3ff24"/><stop offset="0.9176" stop-color="#d3ff24"/><stop offset="0.9176" stop-color="#d4ff23"/><stop offset="0.9294" stop-color="#d4ff23"/><stop offset="0.9294" stop-color="#d5ff22"/><stop offset="0.9412" stop-color="#d5ff22"/><stop offset="0.9412" stop-color="#d3ff24"/><stop offset="0.9529" stop-color="#d3ff24"/><stop offset="0.9529" stop-color="#d0ff27"/><stop offset="0.9647" stop-color="#d0ff27"/><stop offset="0.9647" stop-color="#ccff2b"/><stop offset="0.9765" stop-color="#ccff2b"/><stop offset="0.9765" stop-color="#c8ff2e"/><stop offset="0.9882" stop-color="#c8ff2e"/><stop offset="0.9882" stop-color="#c5ff32"/><stop offset="1.0000" stop-color="#c5ff32"/></radialGradient>
<radialGradient id="g8" gradientUnits="userSpaceOnUse" cx="380.20" cy="332.90" r="266.50"><stop offset="0.3024" stop-color="#00009a"/><stop offset="0.3059" stop-color="#00009a"/><stop offset="0.3059" stop-color="#0000ff"/><stop offset="0.3176" stop-color="#0000ff"/><stop offset="0.3176" stop-color="#00a8ff"/><stop offset="0.3294" stop-color="#00a8ff"/><stop offset="0.3294" stop-color="#52ffa5"/><stop offset="0.3412" stop-color="#52ffa5"/><stop offset="0.3412" stop-color="#d6ff21"/><stop offset="0.3529" stop-color="#d6ff21"/><stop offset="0.3529" stop-color="#ffde00"/><stop offset="0.3647" stop-color="#ffde00"/><stop offset="0.3647" stop-color="#ffb200"/><stop offset="0.3765" stop-color="#ffb200"/><stop offset="0.3765" stop-color="#ffab00"/><stop offset="0.3882" stop-color="#ffab00"/><stop offset="0.3882" stop-color="#ffa800"/><stop offset="0.4118" stop-color="#ffa800"/><stop offset="0.4118" stop-color="#ffa700"/><stop offset="0.4588" stop-color="#ffa700"/><stop offset="0.4588" stop-color="#ffa600"/><stop offset="0.5176" stop-color="#ffa600"/><stop offset="0.5176" stop-color="#ffac00"/><stop offset="0.5294" stop-color="#ffac00"/><stop offset="0.5294" stop-color="#ffd000"/><stop offset="0.5529" stop-color="#ffd000"/><stop offset="0.5529" stop-color="#ffb000"/><stop offset="0.5647" stop-color="#ffb000"/><stop offset="0.5647" stop-color="#ff7e00"/><stop offset="0.5882" stop-color="#ff7e00"/><stop offset="0.5882" stop-color="#ffab00"/><stop offset="0.6000" stop-color="#ffab00"/><stop offset="0.6000" stop-color="#ffe600"/><stop offset="0.6118" stop-color="#ffe600"/><stop offset="0.6118" stop-color="#f9f300"/><stop offset="0.6235" stop-color="#f9f300"/><stop offset="0.6235" stop-color="#f5f702"/><stop offset="0.6353" stop-color="#f5f702"/><stop offset="0.6353" stop-color="#f2fc05"/><stop offset="0.6471" stop-color="#f2fc05"/><stop offset="0.6471" stop-color="#eeff09"/><stop offset="0.6588" stop-color="#eeff09"/><stop offset="0.6588" stop-color="#ebff0c"/><stop offset="0.6706" stop-color="#ebff0c"/><stop offset="0.6706" stop-color="#eaff0d"/><stop offset="0.6824" stop-color="#eaff0d"/><stop offset="0.6824" stop-color="#e8ff0f"/><stop offset="0.6941" stop-color="#e8ff0f"/><stop offset="0.6941" stop-color="#e7ff10"/><stop offset="0.7059" stop-color="#e7ff10"/><stop offset="0.7059" stop-color="#e6ff11"/><stop offset="0.7176" stop-color="#e6ff11"/><stop offset="0.7176" stop-color="#e4ff13"/><stop offset="0.7294" stop-color="#e4ff13"/><stop offset="0.7294" stop-color="#e3ff14"/><stop offset="0.7412" stop-color="#e3ff14"/><stop offset="0.7412" stop-color="#e2ff15"/><stop offset="0.7529" stop-color="#e2ff15"/><stop offset="0.7529" stop-color="#e0ff17"/><stop offset="0.7647" stop-color="#e0ff17"/><stop offset="0.7647" stop-color="#dfff18"/><stop offset="0.7765" stop-color="#dfff18"/><stop offset="0.7765" stop-color="#deff19"/><stop offset="0.7882" stop-color="#deff19"/><stop offset="0.7882" stop-color="#ddff1a"/><stop offset="0.8000" stop-color="#ddff1a"/><stop offset="0.8000" stop-color="#dcff1b"/><stop offset="0.8118" stop-color="#dcff1b"/><stop offset="0.8118" stop-color="#dbff1c"/><stop offset="0.8235" stop-color="#dbff1c"/><stop offset="0.8235" stop-color="#daff1d"/><stop offset="0.8353" stop-color="#daff1d"/><stop offset="0.8353" stop-color="#d8ff1e"/><stop offset="0.8471" stop-color="#d8ff1e"/><stop offset="0.8471" stop-color="#d7ff1f"/><stop offset="0.8588" stop-color="#d7ff1f"/><stop offset="0.8588" stop-color="#d6ff21"/><stop offset="0.8706" stop-color="#d6ff21"/><stop offset="0.8706" stop-color="#d5ff22"/><stop offset="0.8824" stop-color="#d5ff22"/><stop offset="0.8824" stop-color="#d4ff23"/><stop offset="0.8941" stop-color="#d4ff23"/><stop offset="0.8941" stop-color="#d3ff24"/><stop offset="0.9059" stop-color="#d3ff24"/><stop offset="0.9059" stop-color="#d2ff25"/><stop offset="0.9176" stop-color="#d2ff25"/><stop offset="0.9176" stop-color="#d1ff26"/><stop offset="0.9294" stop-color="#d1ff26"/><stop offset="0.9294" stop-color="#d0ff27"/><stop offset="0.9412" stop-color="#d0ff27"/><stop offset="0.9412" stop-color="#cfff28"/><stop offset="0.9529" stop-color="#cfff28"/><stop offset="0.9529" stop-color="#cdff29"/><stop offset="0.9647" stop-color="#cdff29"/><stop offset="0.9647" stop-color="#ccff2a"/><stop offset="0.9765" stop-color="#ccff2a"/><stop offset="0.9765" stop-color="#cbff2c"/><stop offset="0.9882" stop-color="#cbff2c"/><stop offset="0.9882" stop-color="#caff2d"/><stop offset="1.0000" stop-color="#caff2d"/></radialGradient>
<radialGradient id="g9" gradientUnits="userSpaceOnUse" cx="380.20" cy="332.90" r="266.50"><stop offset="0.2953" stop-color="#0000c5"/><stop offset="0.3059" stop-color="#0000c5"/><stop offset="0.3059" stop-color="#0048ff"/><stop offset="0.3176" stop-color="#0048ff"/><stop offset="0.3176" stop-color="#00dbff"/><stop offset="0.3294" stop-color="#00dbff"/><stop offset="0.3294" stop-color="#72ff85"/><stop offset="0.3412" stop-color="#72ff85"/><stop offset="0.3412" stop-color="#e4ff13"/><stop offset="0.3529" stop-color="#e4ff13"/><stop offset="0.3529" stop-color="#ffde00"/><stop offset="0.3647" stop-color="#ffde00"/><stop offset="0.3647" stop-color="#ffb900"/><stop offset="0.3765" stop-color="#ffb900"/><stop offset="0.3765" stop-color="#ffac00"/><stop offset="0.3882" stop-color="#ffac00"/><stop offset="0.3882" stop-color="#ffa800"/><stop offset="0.4235" stop-color="#ffa800"/><stop offset="0.4235" stop-color="#ffa700"/><stop offset="0.4706" stop-color="#ffa700"/><stop offset="0.4706" stop-color="#ffa600"/><stop offset="0.5176" stop-color="#ffa600"/><stop offset="0.5176" stop-color="#ffa500"/><stop offset="0.5294" stop-color="#ffa500"/><stop offset="0.5294" stop-color="#ffce00"/><stop offset="0.5529" stop-color="#ffce00"/><stop offset="0.5529" stop-color="#ffc800"/><stop offset="0.5647" stop-color="#ffc800"/><stop offset="0.5647" stop-color="#ff8e00"/><stop offset="0.5765" stop-color="#ff8e00"/><stop offset="0.5765" stop-color="#ff7e00"/><stop offset="0.5882" stop-color="#ff7e00"/><stop offset="0.5882" stop-color="#ff9600"/><stop offset="0.6000" stop-color="#ff9600"/><stop offset="0.6000" stop-color="#ffc200"/><stop offset="0.6118" stop-color="#ffc200"/><stop offset="0.6118" stop-color="#ffe900"/><stop offset="0.6235" stop-color="#ffe900"/><stop offset="0.6235" stop-color="#f8f400"/><stop offset="0.6353" stop-color="#f8f400"/><stop offset="0.6353" stop-color="#f5f802"/><stop offset="0.6471" stop-color="#f5f802"/><stop offset="0.6471" stop-color="#f1fc06"/><stop offset="0.6588" stop-color="#f1fc06"/><stop offset="0.6588" stop-color="#edff0a"/><stop offset="0.6706" stop-color="#edff0a"/><stop offset="0.6706" stop-color="#ebff0c"/><stop offset="0.6824" stop-color="#ebff0c"/><stop offset="0.6824" stop-color="#e9ff0e"/><stop offset="0.6941" stop-color="#e9ff0e"/><stop offset="0.6941" stop-color="#e8ff0f"/><stop offset="0.7059" stop-color="#e8ff0f"/><stop offset="0.7059" stop-color="#e7ff10"/><stop offset="0.7176" stop-color="#e7ff10"/><stop offset="0.7176" stop-color="#e5ff12"/><stop offset="0.7294" stop-color="#e5ff12"/><stop offset="0.7294" stop-color="#e4ff13"/><stop offset="0.7412" stop-color="#e4ff13"/><stop offset="0.7412" stop-color="#e3ff14"/><stop offset="0.7529" stop-color="#e3ff14"/><stop offset="0.7529" stop-color="#e1ff16"/><stop offset="0.7647" stop-color="#e1ff16"/><stop offset="0.7647" stop-color="#e0ff17"/><stop offset="0.7765" stop-color="#e0ff17"/><stop offset="0.7765" stop-color="#dfff18"/><stop offset="0.7882" stop-color="#dfff18"/><stop offset="0.7882" stop-color="#deff19"/><stop offset="0.8000" stop-color="#deff19"/><stop offset="0.8000" stop-color="#ddff1a"/><stop offset="0.8118" stop-color="#ddff1a"/><stop offset="0.8118" stop-color="#dcff1a"/><stop offset="0.8235" stop-color="#dcff1a"/><stop offset="0.8235" stop-color="#dbff1b"/><stop offset="0.8353" stop-color="#dbff1b"/><stop offset="0.8353" stop-color="#daff1c"/><stop offset="0.8471" stop-color="#daff1c"/><stop offset="0.8471" stop-color="#d9ff1d"/><stop offset="0.8588" stop-color="#d9ff1d"/><stop offset="0.8588" stop-color="#d9ff1e"/><stop offset="0.8706" stop-color="#d9ff1e"/><stop offset="0.8706" stop-color="#d8ff1f"/><stop offset="0.8824" stop-color="#d8ff1f"/><stop offset="0.8824" stop-color="#d7ff20"/><stop offset="0.8941" stop-color="#d7ff20"/><stop offset="0.8941" stop-color="#d6ff21"/><stop offset="0.9059" stop-color="#d6ff21"/><stop offset="0.9059" stop-color="#d5ff22"/><stop offset="0.9176" stop-color="#d5ff22"/><stop offset="0.9176" stop-color="#d4ff23"/><stop offset="0.9294" stop-color="#d4ff23"/><stop offset="0.9294" stop-color="#d3ff24"/><stop offset="0.9412" stop-color="#d3ff24"/><stop offset="0.9412" stop-color="#d2ff25"/><stop offset="0.9529" stop-color="#d2ff25"/><stop offset="0.9529" stop-color="#d1ff26"/><stop offset="0.9647" stop-color="#d1ff26"/><stop offset="0.9647" stop-color="#d0ff27"/><stop offset="0.9765" stop-color="#d0ff27"/><stop offset="0.9765" stop-color="#cfff28"/><stop offset="0.9882" stop-color="#cfff28"/><stop offset="0.9882" stop-color="#ceff29"/><stop offset="1.0000" stop-color="#ceff29"/></radialGradient>
<radialGradient id="g10" gradientUnits="userSpaceOnUse" cx="380.20" cy="332.90" r="266.50"><stop offset="0.2894" stop-color="#00009b"/><stop offset="0.2941" stop-color="#00009b"/><stop offset="0.2941" stop-color="#0000fd"/><stop offset="0.3059" stop-color="#0000fd"/><stop offset="0.3059" stop-color="#0078ff"/><stop offset="0.3176" stop-color="#0078ff"/><stop offset="0.3176" stop-color="#0ff8e8"/><stop offset="0.3294" stop-color="#0ff8e8"/><stop offset="0.3294" stop-color="#80ff76"/><stop offset="0.3412" stop-color="#80ff76"/><stop offset="0.3412" stop-color="#e5ff12"/><stop offset="0.3529" stop-color="#e5ff12"/><stop offset="0.3529" stop-color="#ffe400"/><stop offset="0.3647" stop-color="#ffe400"/><stop offset="0.3647" stop-color="#ffc300"/><stop offset="0.3765" stop-color="#ffc300"/><stop offset="0.3765" stop-color="#ffae00"/><stop offset="0.3882" stop-color="#ffae00"/><stop offset="0.3882" stop-color="#ffa600"/><stop offset="0.5059" stop-color="#ffa600"/><stop offset="0.5059" stop-color="#ffa500"/><stop offset="0.5412" stop-color="#ffa500"/><stop offset="0.5412" stop-color="#ffcb00"/><stop offset="0.5647" stop-color="#ffcb00"/><stop offset="0.5647" stop-color="#ffb000"/><stop offset="0.5765" stop-color="#ffb000"/><stop offset="0.5765" stop-color="#ff8000"/><stop offset="0.6000" stop-color="#ff8000"/><stop offset="0.6000" stop-color="#ff9e00"/><stop offset="0.6118" stop-color="#ff9e00"/><stop offset="0.6118" stop-color="#ffce00"/><stop offset="0.6235" stop-color="#ffce00"/><stop offset="0.6235" stop-color="#ffed00"/><stop offset="0.6353" stop-color="#ffed00"/><stop offset="0.6353" stop-color="#f7f500"/><stop offset="0.6471" stop-color="#f7f500"/><stop offset="0.6471" stop-color="#f4f903"/><stop offset="0.6588" stop-color="#f4f903"/><stop offset="0.6588" stop-color="#f0fd07"/><stop offset="0.6706" stop-color="#f0fd07"/><stop offset="0.6706" stop-color="#ecff0a"/><stop offset="0.6824" stop-color="#ecff0a"/><stop offset="0.6824" stop-color="#eaff0c"/><stop offset="0.6941" stop-color="#eaff0c"/><stop offset="0.6941" stop-color="#e9ff0e"/><stop offset="0.7059" stop-color="#e9ff0e"/><stop offset="0.7059" stop-color="#e8ff0f"/><stop offset="0.7176" stop-color="#e8ff0f"/><stop offset="0.7176" stop-color="#e6ff10"/><stop offset="0.7294" stop-color="#e6ff10"/><stop offset="0.7294" stop-color="#e5ff12"/><stop offset="0.7412" stop-color="#e5ff12"/><stop offset="0.7412" stop-color="#e4ff13"/><stop offset="0.7529" stop-color="#e4ff13"/><stop offset="0.7529" stop-color="#e2ff14"/><stop offset="0.7647" stop-color="#e2ff14"/><stop offset="0.7647" stop-color="#e1ff16"/><stop offset="0.7765" stop-color="#e1ff16"/><stop offset="0.7765" stop-color="#e0ff17"/><stop offset="0.7882" stop-color="#e0ff17"/><stop offset="0.7882" stop-color="#dfff18"/><stop offset="0.8000" stop-color="#dfff18"/><stop offset="0.8000" stop-color="#deff19"/><stop offset="0.8118" stop-color="#deff19"/><stop offset="0.8118" stop-color="#ddff1a"/><stop offset="0.8235" stop-color="#ddff1a"/><stop offset="0.8235" stop-color="#dcff1b"/><stop offset="0.8353" stop-color="#dcff1b"/><stop offset="0.8353" stop-color="#dbff1c"/><stop offset="0.8471" stop-color="#dbff1c"/><stop offset="0.8471" stop-color="#daff1d"/><stop offset="0.8588" stop-color="#daff1d"/><stop offset="0.8588" stop-color="#d9ff1e"/><stop offset="0.8706" stop-color="#d9ff1e"/><stop offset="0.8706" stop-color="#d8ff1f"/><stop offset="0.8824" stop-color="#d8ff1f"/><stop offset="0.8824" stop-color="#d7ff20"/><stop offset="0.8941" stop-color="#d7ff20"/><stop offset="0.8941" stop-color="#d6ff21"/><stop offset="0.9059" stop-color="#d6ff21"/><stop offset="0.9059" stop-color="#d5ff22"/><stop offset="0.9176" stop-color="#d5ff22"/><stop offset="0.9176" stop-color="#d4ff23"/><stop offset="0.9294" stop-color="#d4ff23"/><stop offset="0.9294" stop-color="#d3ff24"/><stop offset="0.9412" stop-color="#d3ff24"/><stop offset="0.9412" stop-color="#d2ff25"/><stop offset="0.9529" stop-color="#d2ff25"/><stop offset="0.9529" stop-color="#d1ff26"/><stop offset="0.9647" stop-color="#d1ff26"/><stop offset="0.9647" stop-color="#d0ff27"/><stop offset="0.9765" stop-color="#d0ff27"/><stop offset="0.9765" stop-color="#cfff28"/><stop offset="0.9882" stop-color="#cfff28"/><stop offset="0.9882" stop-color="#ceff29"/><stop offset="1.0000" stop-color="#ceff29"/></radialGradient>
<radialGradient id="g11" gradientUnits="userSpaceOnUse" cx="380.20" cy="332.90" r="266.50"><stop offset="0.2824" stop-color="#0000bb"/><stop offset="0.2941" stop-color="#0000bb"/><stop offset="0.2941" stop-color="#0024ff"/><stop offset="0.3059" stop-color="#0024ff"/><stop offset="0.3059" stop-color="#009bff"/><stop offset="0.3176" stop-color="#009bff"/><stop offset="0.3176" stop-color="#1bffdc"/><stop offset="0.3294" stop-color="#1bffdc"/><stop offset="0.3294" stop-color="#7eff79"/><stop offset="0.3412" stop-color="#7eff79"/><stop offset="0.3412" stop-color="#d5ff22"/><stop offset="0.3529" stop-color="#d5ff22"/><stop offset="0.3529" stop-color="#ffec00"/><stop offset="0.3647" stop-color="#ffec00"/><stop offset="0.3647" stop-color="#ffd000"/><stop offset="0.3765" stop-color="#ffd000"/><stop offset="0.3765" stop-color="#ffb300"/><stop offset="0.3882" stop-color="#ffb300"/><stop offset="0.3882" stop-color="#ffaa00"/><stop offset="0.4000" stop-color="#ffaa00"/><stop offset="0.4000" stop-color="#ffa500"/><stop offset="0.5529" stop-color="#ffa500"/><stop offset="0.5529" stop-color="#ffc600"/><stop offset="0.5765" stop-color="#ffc600"/><stop offset="0.5765" stop-color="#ffaf00"/><stop offset="0.5882" stop-color="#ffaf00"/><stop offset="0.5882" stop-color="#ff8100"/><stop offset="0.6118" stop-color="#ff8100"/><stop offset="0.6118" stop-color="#ff9d00"/><stop offset="0.6235" stop-color="#ff9d00"/><stop offset="0.6235" stop-color="#ffc200"/><stop offset="0.6353" stop-color="#ffc200"/><stop offset="0.6353" stop-color="#ffe600"/><stop offset="0.6471" stop-color="#ffe600"/><stop offset="0.6471" stop-color="#f9f300"/><stop offset="0.6588" stop-color="#f9f300"/><stop offset="0.6588" stop-color="#f5f702"/><stop offset="0.6706" stop-color="#f5f702"/><stop offset="0.6706" stop-color="#f2fc05"/><stop offset="0.6824" stop-color="#f2fc05"/><stop offset="0.6824" stop-color="#eeff09"/><stop offset="0.6941" stop-color="#eeff09"/><stop offset="0.6941" stop-color="#ebff0c"/><stop offset="0.7059" stop-color="#ebff0c"/><stop offset="0.7059" stop-color="#eaff0d"/><stop offset="0.7176" stop-color="#eaff0d"/><stop offset="0.7176" stop-color="#e8ff0f"/><stop offset="0.7294" stop-color="#e8ff0f"/><stop offset="0.7294" stop-color="#e7ff10"/><stop offset="0.7412" stop-color="#e7ff10"/><stop offset="0.7412" stop-color="#e6ff11"/><stop offset="0.7529" stop-color="#e6ff11"/><stop offset="0.7529" stop-color="#e4ff13"/><stop offset="0.7647" stop-color="#e4ff13"/><stop offset="0.7647" stop-color="#e3ff14"/><stop offset="0.7765" stop-color="#e3ff14"/><stop offset="0.7765" stop-color="#e2ff15"/><stop offset="0.7882" stop-color="#e2ff15"/><stop offset="0.7882" stop-color="#e0ff16"/><stop offset="0.8000" stop-color="#e0ff16"/><stop offset="0.8000" stop-color="#dfff17"/><stop offset="0.8118" stop-color="#dfff17"/><stop offset="0.8118" stop-color="#dfff18"/><stop offset="0.8235" stop-color="#dfff18"/><stop offset="0.8235" stop-color="#deff19"/><stop offset="0.8353" stop-color="#deff19"/><stop offset="0.8353" stop-color="#ddff1a"/><stop offset="0.8471" stop-color="#ddff1a"/><stop offset="0.8471" stop-color="#dcff1b"/><stop offset="0.8588" stop-color="#dcff1b"/><stop offset="0.8588" stop-color="#dbff1b"/><stop offset="0.8706" stop-color="#dbff1b"/><stop offset="0.8706" stop-color="#daff1c"/><stop offset="0.8824" stop-color="#daff1c"/><stop offset="0.8824" stop-color="#daff1d"/><stop offset="0.8941" stop-color="#daff1d"/><stop offset="0.8941" stop-color="#d9ff1e"/><stop offset="0.9059" stop-color="#d9ff1e"/><stop offset="0.9059" stop-color="#d8ff1f"/><stop offset="0.9176" stop-color="#d8ff1f"/><stop offset="0.9176" stop-color="#d7ff20"/><stop offset="0.9294" stop-color="#d7ff20"/><stop offset="0.9294" stop-color="#d6ff20"/><stop offset="0.9412" stop-color="#d6ff20"/><stop offset="0.9412" stop-color="#d6ff21"/><stop offset="0.9529" stop-color="#d6ff21"/><stop offset="0.9529" stop-color="#d5ff22"/><stop offset="0.9647" stop-color="#d5ff22"/><stop offset="0.9647" stop-color="#d4ff23"/><stop offset="0.9765" stop-color="#d4ff23"/><stop offset="0.9765" stop-color="#d3ff24"/><stop offset="0.9882" stop-color="#d3ff24"/><stop offset="0.9882" stop-color="#d2ff25"/><stop offset="1.0000" stop-color="#d2ff25"/></radialGradient>
<radialGradient id="g12" gradientUnits="userSpaceOnUse" cx="380.20" cy="332.90" r="266.50"><stop offset="0.2788" stop-color="#00008f"/><stop offset="0.2824" stop-color="#00008f"/><stop offset="0.2824" stop-color="#0000d4"/><stop offset="0.2941" stop-color="#0000d4"/><stop offset="0.2941" stop-color="#002dff"/><stop offset="0.3059" stop-color="#002dff"/><stop offset="0.3059" stop-color="#0096ff"/><stop offset="0.3176" stop-color="#0096ff"/><stop offset="0.3176" stop-color="#0df5ea"/><stop offset="0.3294" stop-color="#0df5ea"/><stop offset="0.3294" stop-color="#62ff95"/><stop offset="0.3412" stop-color="#62ff95"/><stop offset="0.3412" stop-color="#b3ff44"/><stop offset="0.3529" stop-color="#b3ff44"/><stop offset="0.3529" stop-color="#f3f903"/><stop offset="0.3647" stop-color="#f3f903"/><stop offset="0.3647" stop-color="#ffde00"/><stop offset="0.3765" stop-color="#ffde00"/><stop offset="0.3765" stop-color="#ffc200"/><stop offset="0.3882" stop-color="#ffc200"/><stop offset="0.3882" stop-color="#ffaf00"/><stop offset="0.4000" stop-color="#ffaf00"/><stop offset="0.4000" stop-color="#ffa700"/><stop offset="0.4118" stop-color="#ffa700"/><stop offset="0.4118" stop-color="#ffa300"/><stop offset="0.4235" stop-color="#ffa300"/><stop offset="0.4235" stop-color="#ffa400"/><stop offset="0.4941" stop-color="#ffa400"/><stop offset="0.4941" stop-color="#ffa500"/><stop offset="0.5647" stop-color="#ffa500"/><stop offset="0.5647" stop-color="#ffc200"/><stop offset="0.5882" stop-color="#ffc200"/><stop offset="0.5882" stop-color="#ffae00"/><stop offset="0.6000" stop-color="#ffae00"/><stop offset="0.6000" stop-color="#ff9100"/><stop offset="0.6118" stop-color="#ff9100"/><stop offset="0.6118" stop-color="#ff8400"/><stop offset="0.6235" stop-color="#ff8400"/><stop offset="0.6235" stop-color="#ff9200"/><stop offset="0.6353" stop-color="#ff9200"/><stop offset="0.6353" stop-color="#ffa500"/><stop offset="0.6471" stop-color="#ffa500"/><stop offset="0.6471" stop-color="#ffd300"/><stop offset="0.6588" stop-color="#ffd300"/><stop offset="0.6588" stop-color="#ffeb00"/><stop offset="0.6706" stop-color="#ffeb00"/><stop offset="0.6706" stop-color="#f8f400"/><stop offset="0.6824" stop-color="#f8f400"/><stop offset="0.6824" stop-color="#f4f903"/><stop offset="0.6941" stop-color="#f4f903"/><stop offset="0.6941" stop-color="#f0fd06"/><stop offset="0.7059" stop-color="#f0fd06"/><stop offset="0.7059" stop-color="#edff0a"/><stop offset="0.7176" stop-color="#edff0a"/><stop offset="0.7176" stop-color="#eaff0c"/><stop offset="0.7294" stop-color="#eaff0c"/><stop offset="0.7294" stop-color="#e9ff0e"/><stop offset="0.7412" stop-color="#e9ff0e"/><stop offset="0.7412" stop-color="#e8ff0f"/><stop offset="0.7529" stop-color="#e8ff0f"/><stop offset="0.7529" stop-color="#e6ff10"/><stop offset="0.7647" stop-color="#e6ff10"/><stop offset="0.7647" stop-color="#e5ff12"/><stop offset="0.7765" stop-color="#e5ff12"/><stop offset="0.7765" stop-color="#e4ff13"/><stop offset="0.7882" stop-color="#e4ff13"/><stop offset="0.7882" stop-color="#e2ff14"/><stop offset="0.8000" stop-color="#e2ff14"/><stop offset="0.8000" stop-color="#e1ff16"/><stop offset="0.8118" stop-color="#e1ff16"/><stop offset="0.8118" stop-color="#e0ff17"/><stop offset="0.8353" stop-color="#e0ff17"/><stop offset="0.8353" stop-color="#dfff18"/><stop offset="0.8471" stop-color="#dfff18"/><stop offset="0.8471" stop-color="#deff19"/><stop offset="0.8706" stop-color="#deff19"/><stop offset="0.8706" stop-color="#ddff1a"/><stop offset="0.8824" stop-color="#ddff1a"/><stop offset="0.8824" stop-color="#dcff1b"/><stop offset="0.9059" stop-color="#dcff1b"/><stop offset="0.9059" stop-color="#dbff1c"/><stop offset="0.9176" stop-color="#dbff1c"/><stop offset="0.9176" stop-color="#daff1d"/><stop offset="0.9412" stop-color="#daff1d"/><stop offset="0.9412" stop-color="#d9ff1e"/><stop offset="0.9529" stop-color="#d9ff1e"/><stop offset="0.9529" stop-color="#d8ff1f"/><stop offset="0.9765" stop-color="#d8ff1f"/><stop offset="0.9765" stop-color="#d7ff20"/><stop offset="0.9882" stop-color="#d7ff20"/><stop offset="0.9882" stop-color="#d6ff21"/><stop offset="1.0000" stop-color="#d6ff21"/></radialGradient>
<radialGradient id="g13" gradientUnits="userSpaceOnUse" cx="380.20" cy="332.90" r="266.50"><stop offset="0.2753" stop-color="#00009b"/><stop offset="0.2824" stop-color="#00009b"/><stop offset="0.2824" stop-color="#0000e6"/><stop offset="0.2941" stop-color="#0000e6"/><stop offset="0.2941" stop-color="#0032ff"/><stop offset="0.3059" stop-color="#0032ff"/><stop offset="0.3059" stop-color="#008fff"/><stop offset="0.3176" stop-color="#008fff"/><stop offset="0.3176" stop-color="#00e3f8"/><stop offset="0.3294" stop-color="#00e3f8"/><stop offset="0.3294" stop-color="#47ffb0"/><stop offset="0.3412" stop-color="#47ffb0"/><stop offset="0.3412" stop-color="#92ff64"/><stop offset="0.3529" stop-color="#92ff64"/><stop offset="0.3529" stop-color="#d4ff23"/><stop offset="0.3647" stop-color="#d4ff23"/><stop offset="0.3647" stop-color="#f9f300"/><stop offset="0.3765" stop-color="#f9f300"/><stop offset="0.3765" stop-color="#ffde00"/><stop offset="0.3882" stop-color="#ffde00"/><stop offset="0.3882" stop-color="#ffc900"/><stop offset="0.4000" stop-color="#ffc900"/><stop offset="0.4000" stop-color="#ffb300"/><stop offset="0.4118" stop-color="#ffb300"/><stop offset="0.4118" stop-color="#ffa900"/><stop offset="0.4235" stop-color="#ffa900"/><stop offset="0.4235" stop-color="#ffa300"/><stop offset="0.4353" stop-color="#ffa300"/><stop offset="0.4353" stop-color="#ffa400"/><stop offset="0.5176" stop-color="#ffa400"/><stop offset="0.5176" stop-color="#ffa500"/><stop offset="0.5765" stop-color="#ffa500"/><stop offset="0.5765" stop-color="#ffb200"/><stop offset="0.5882" stop-color="#ffb200"/><stop offset="0.5882" stop-color="#ffbf00"/><stop offset="0.6118" stop-color="#ffbf00"/><stop offset="0.6118" stop-color="#ffa200"/><stop offset="0.6235" stop-color="#ffa200"/><stop offset="0.6235" stop-color="#ff8600"/><stop offset="0.6353" stop-color="#ff8600"/><stop offset="0.6353" stop-color="#ff8f00"/><stop offset="0.6471" stop-color="#ff8f00"/><stop offset="0.6471" stop-color="#ffa300"/><stop offset="0.6588" stop-color="#ffa300"/><stop offset="0.6588" stop-color="#ffcc00"/><stop offset="0.6706" stop-color="#ffcc00"/><stop offset="0.6706" stop-color="#ffe800"/><stop offset="0.6824" stop-color="#ffe800"/><stop offset="0.6824" stop-color="#f9f300"/><stop offset="0.6941" stop-color="#f9f300"/><stop offset="0.6941" stop-color="#f5f802"/><stop offset="0.7059" stop-color="#f5f802"/><stop offset="0.7059" stop-color="#f1fc06"/><stop offset="0.7176" stop-color="#f1fc06"/><stop offset="0.7176" stop-color="#edff09"/><stop offset="0.7294" stop-color="#edff09"/><stop offset="0.7294" stop-color="#ebff0c"/><stop offset="0.7412" stop-color="#ebff0c"/><stop offset="0.7412" stop-color="#e9ff0d"/><stop offset="0.7529" stop-color="#e9ff0d"/><stop offset="0.7529" stop-color="#e8ff0f"/><stop offset="0.7647" stop-color="#e8ff0f"/><stop offset="0.7647" stop-color="#e7ff10"/><stop offset="0.7765" stop-color="#e7ff10"/><stop offset="0.7765" stop-color="#e5ff11"/><stop offset="0.7882" stop-color="#e5ff11"/><stop offset="0.7882" stop-color="#e4ff13"/><stop offset="0.8000" stop-color="#e4ff13"/><stop offset="0.8000" stop-color="#e3ff14"/><stop offset="0.8118" stop-color="#e3ff14"/><stop offset="0.8118" stop-color="#e1ff15"/><stop offset="0.8235" stop-color="#e1ff15"/><stop offset="0.8235" stop-color="#e0ff16"/><stop offset="0.8353" stop-color="#e0ff16"/><stop offset="0.8353" stop-color="#e0ff17"/><stop offset="0.8588" stop-color="#e0ff17"/><stop offset="0.8588" stop-color="#dfff18"/><stop offset="0.8824" stop-color="#dfff18"/><stop offset="0.8824" stop-color="#deff19"/><stop offset="0.9059" stop-color="#deff19"/><stop offset="0.9059" stop-color="#ddff19"/><stop offset="0.9176" stop-color="#ddff19"/><stop offset="0.9176" stop-color="#ddff1a"/><stop offset="0.9294" stop-color="#ddff1a"/><stop offset="0.9294" stop-color="#dcff1a"/><stop offset="0.9412" stop-color="#dcff1a"/><stop offset="0.9412" stop-color="#dcff1b"/><stop offset="0.9647" stop-color="#dcff1b"/><stop offset="0.9647" stop-color="#dbff1c"/><stop offset="0.9882" stop-color="#dbff1c"/><stop offset="0.9882" stop-color="#daff1d"/><stop offset="1.0000" stop-color="#daff1d"/></radialGradient>
<radialGradient id="g14" gradientUnits="userSpaceOnUse" cx="380.20" cy="332.90" r="266.50"><stop offset="0.2753" stop-color="#00009a"/><stop offset="0.2824" stop-color="#00009a"/><stop offset="0.2824" stop-color="#0000df"/><stop offset="0.2941" stop-color="#0000df"/><stop offset="0.2941" stop-color="#0026ff"/><stop offset="0.3059" stop-color="#0026ff"/><stop offset="0.3059" stop-color="#007dff"/><stop offset="0.3176" stop-color="#007dff"/><stop offset="0.3176" stop-color="#00cfff"/><stop offset="0.3294" stop-color="#00cfff"/><stop offset="0.3294" stop-color="#2effc9"/><stop offset="0.3412" stop-color="#2effc9"/><stop offset="0.3412" stop-color="#76ff81"/><stop offset="0.3529" stop-color="#76ff81"/><stop offset="0.3529" stop-color="#b7ff40"/><stop offset="0.3647" stop-color="#b7ff40"/><stop offset="0.3647" stop-color="#f0fd07"/><stop offset="0.3765" stop-color="#f0fd07"/><stop offset="0.3765" stop-color="#ffeb00"/><stop offset="0.3882" stop-color="#ffeb00"/><stop offset="0.3882" stop-color="#ffd700"/><stop offset="0.4000" stop-color="#ffd700"/><stop offset="0.4000" stop-color="#ffbf00"/><stop offset="0.4118" stop-color="#ffbf00"/><stop offset="0.4118" stop-color="#ffae00"/><stop offset="0.4235" stop-color="#ffae00"/><stop offset="0.4235" stop-color="#ffa300"/><stop offset="0.4353" stop-color="#ffa300"/><stop offset="0.4353" stop-color="#ffa400"/><stop offset="0.5294" stop-color="#ffa400"/><stop offset="0.5294" stop-color="#ffa500"/><stop offset="0.5882" stop-color="#ffa500"/><stop offset="0.5882" stop-color="#ffb100"/><stop offset="0.6000" stop-color="#ffb100"/><stop offset="0.6000" stop-color="#ffbd00"/><stop offset="0.6235" stop-color="#ffbd00"/><stop offset="0.6235" stop-color="#ffa500"/><stop offset="0.6353" stop-color="#ffa500"/><stop offset="0.6353" stop-color="#ff8800"/><stop offset="0.6588" stop-color="#ff8800"/><stop offset="0.6588" stop-color="#ffa100"/><stop offset="0.6706" stop-color="#ffa100"/><stop offset="0.6706" stop-color="#ffc700"/><stop offset="0.6824" stop-color="#ffc700"/><stop offset="0.6824" stop-color="#ffe100"/><stop offset="0.6941" stop-color="#ffe100"/><stop offset="0.6941" stop-color="#faf200"/><stop offset="0.7059" stop-color="#faf200"/><stop offset="0.7059" stop-color="#f6f600"/><stop offset="0.7176" stop-color="#f6f600"/><stop offset="0.7176" stop-color="#f3fa04"/><stop offset="0.7294" stop-color="#f3fa04"/><stop offset="0.7294" stop-color="#efff08"/><stop offset="0.7412" stop-color="#efff08"/><stop offset="0.7412" stop-color="#ebff0c"/><stop offset="0.7529" stop-color="#ebff0c"/><stop offset="0.7529" stop-color="#eaff0d"/><stop offset="0.7647" stop-color="#eaff0d"/><stop offset="0.7647" stop-color="#e9ff0e"/><stop offset="0.7765" stop-color="#e9ff0e"/><stop offset="0.7765" stop-color="#e7ff10"/><stop offset="0.7882" stop-color="#e7ff10"/><stop offset="0.7882" stop-color="#e6ff11"/><stop offset="0.8000" stop-color="#e6ff11"/><stop offset="0.8000" stop-color="#e5ff12"/><stop offset="0.8118" stop-color="#e5ff12"/><stop offset="0.8118" stop-color="#e3ff14"/><stop offset="0.8235" stop-color="#e3ff14"/><stop offset="0.8235" stop-color="#e2ff15"/><stop offset="0.8353" stop-color="#e2ff15"/><stop offset="0.8353" stop-color="#e1ff16"/><stop offset="0.8471" stop-color="#e1ff16"/><stop offset="0.8471" stop-color="#e0ff16"/><stop offset="0.8588" stop-color="#e0ff16"/><stop offset="0.8588" stop-color="#e0ff17"/><stop offset="0.9059" stop-color="#e0ff17"/><stop offset="0.9059" stop-color="#dfff17"/><stop offset="0.9294" stop-color="#dfff17"/><stop offset="0.9294" stop-color="#dfff18"/><stop offset="0.9765" stop-color="#dfff18"/><stop offset="0.9765" stop-color="#deff18"/><stop offset="0.9882" stop-color="#deff18"/><stop offset="0.9882" stop-color="#deff19"/><stop offset="1.0000" stop-color="#deff19"/></radialGradient>
<radialGradient id="g15" gradientUnits="userSpaceOnUse" cx="380.20" cy="332.90" r="266.50"><stop offset="0.2765" stop-color="#000094"/><stop offset="0.2824" stop-color="#000094"/><stop offset="0.2824" stop-color="#0000d1"/><stop offset="0.2941" stop-color="#0000d1"/><stop offset="0.2941" stop-color="#0013ff"/><stop offset="0.3059" stop-color="#0013ff"/><stop offset="0.3059" stop-color="#0065ff"/><stop offset="0.3176" stop-color="#0065ff"/><stop offset="0.3176" stop-color="#00b5ff"/><stop offset="0.3294" stop-color="#00b5ff"/><stop offset="0.3294" stop-color="#13fde4"/><stop offset="0.3412" stop-color="#13fde4"/><stop offset="0.3412" stop-color="#56ffa1"/><stop offset="0.3529" stop-color="#56ffa1"/><stop offset="0.3529" stop-color="#97ff5f"/><stop offset="0.3647" stop-color="#97ff5f"/><stop offset="0.3647" stop-color="#d2ff25"/><stop offset="0.3765" stop-color="#d2ff25"/><stop offset="0.3765" stop-color="#f7f600"/><stop offset="0.3882" stop-color="#f7f600"/><stop offset="0.3882" stop-color="#ffe300"/><stop offset="0.4000" stop-color="#ffe300"/><stop offset="0.4000" stop-color="#ffcc00"/><stop offset="0.4118" stop-color="#ffcc00"/><stop offset="0.4118" stop-color="#ffb300"/><stop offset="0.4235" stop-color="#ffb300"/><stop offset="0.4235" stop-color="#ffa900"/><stop offset="0.4353" stop-color="#ffa900"/><stop offset="0.4353" stop-color="#ffa300"/><stop offset="0.4471" stop-color="#ffa300"/><stop offset="0.4471" stop-color="#ffa400"/><stop offset="0.5294" stop-color="#ffa400"/><stop offset="0.5294" stop-color="#ffa500"/><stop offset="0.6000" stop-color="#ffa500"/><stop offset="0.6000" stop-color="#ffb600"/><stop offset="0.6118" stop-color="#ffb600"/><stop offset="0.6118" stop-color="#ffb900"/><stop offset="0.6353" stop-color="#ffb900"/><stop offset="0.6353" stop-color="#ffa700"/><stop offset="0.6471" stop-color="#ffa700"/><stop offset="0.6471" stop-color="#ff9f00"/><stop offset="0.6588" stop-color="#ff9f00"/><stop offset="0.6588" stop-color="#ff8a00"/><stop offset="0.6824" stop-color="#ff8a00"/><stop offset="0.6824" stop-color="#ff9f00"/><stop offset="0.6941" stop-color="#ff9f00"/><stop offset="0.6941" stop-color="#ffab00"/><stop offset="0.7059" stop-color="#ffab00"/><stop offset="0.7059" stop-color="#ffd000"/><stop offset="0.7176" stop-color="#ffd000"/><stop offset="0.7176" stop-color="#ffe600"/><stop offset="0.7294" stop-color="#ffe600"/><stop offset="0.7294" stop-color="#f9f300"/><stop offset="0.7412" stop-color="#f9f300"/><stop offset="0.7412" stop-color="#f5f702"/><stop offset="0.7529" stop-color="#f5f702"/><stop offset="0.7529" stop-color="#f2fc05"/><stop offset="0.7647" stop-color="#f2fc05"/><stop offset="0.7647" stop-color="#eeff09"/><stop offset="0.7765" stop-color="#eeff09"/><stop offset="0.7765" stop-color="#ebff0c"/><stop offset="0.7882" stop-color="#ebff0c"/><stop offset="0.7882" stop-color="#eaff0d"/><stop offset="0.8000" stop-color="#eaff0d"/><stop offset="0.8000" stop-color="#e8ff0f"/><stop offset="0.8118" stop-color="#e8ff0f"/><stop offset="0.8118" stop-color="#e7ff10"/><stop offset="0.8235" stop-color="#e7ff10"/><stop offset="0.8235" stop-color="#e6ff11"/><stop offset="0.8353" stop-color="#e6ff11"/><stop offset="0.8353" stop-color="#e4ff13"/><stop offset="0.8471" stop-color="#e4ff13"/><stop offset="0.8471" stop-color="#e3ff14"/><stop offset="0.8588" stop-color="#e3ff14"/><stop offset="0.8588" stop-color="#e2ff15"/><stop offset="0.8706" stop-color="#e2ff15"/><stop offset="0.8706" stop-color="#e1ff16"/><stop offset="0.9294" stop-color="#e1ff16"/><stop offset="0.9294" stop-color="#e1ff15"/><stop offset="0.9412" stop-color="#e1ff15"/><stop offset="0.9412" stop-color="#e2ff15"/><stop offset="1.0000" stop-color="#e2ff15"/></radialGradient>
<radialGradient id="g16" gradientUnits="userSpaceOnUse" cx="380.20" cy="332.90" r="266.50"><stop offset="0.2765" stop-color="#000093"/><stop offset="0.2824" stop-color="#000093"/><stop offset="0.2824" stop-color="#0000cd"/><stop offset="0.2941" stop-color="#0000cd"/><stop offset="0.2941" stop-color="#000aff"/><stop offset="0.3059" stop-color="#000aff"/><stop offset="0.3059" stop-color="#0057ff"/><stop offset="0.3176" stop-color="#0057ff"/><stop offset="0.3176" stop-color="#00a4ff"/><stop offset="0.3294" stop-color="#00a4ff"/><stop offset="0.3294" stop-color="#03e9f4"/><stop offset="0.3412" stop-color="#03e9f4"/><stop offset="0.3412" stop-color="#3fffb8"/><stop offset="0.3529" stop-color="#3fffb8"/><stop offset="0.3529" stop-color="#7fff78"/><stop offset="0.3647" stop-color="#7fff78"/><stop offset="0.3647" stop-color="#b8ff3f"/><stop offset="0.3765" stop-color="#b8ff3f"/><stop offset="0.3765" stop-color="#efff08"/><stop offset="0.3882" stop-color="#efff08"/><stop offset="0.3882" stop-color="#ffe900"/><stop offset="0.4000" stop-color="#ffe900"/><stop offset="0.4000" stop-color="#ffd500"/><stop offset="0.4118" stop-color="#ffd500"/><stop offset="0.4118" stop-color="#ffc400"/><stop offset="0.4235" stop-color="#ffc400"/><stop offset="0.4235" stop-color="#ffb300"/><stop offset="0.4353" stop-color="#ffb300"/><stop offset="0.4353" stop-color="#ffaa00"/><stop offset="0.4471" stop-color="#ffaa00"/><stop offset="0.4471" stop-color="#ffa500"/><stop offset="0.4706" stop-color="#ffa500"/><stop offset="0.4706" stop-color="#ffa600"/><stop offset="0.5647" stop-color="#ffa600"/><stop offset="0.5647" stop-color="#ffa700"/><stop offset="0.6471" stop-color="#ffa700"/><stop offset="0.6471" stop-color="#ffa600"/><stop offset="0.6588" stop-color="#ffa600"/><stop offset="0.6588" stop-color="#ff9d00"/><stop offset="0.6706" stop-color="#ff9d00"/><stop offset="0.6706" stop-color="#ff9000"/><stop offset="0.6941" stop-color="#ff9000"/><stop offset="0.6941" stop-color="#ff9300"/><stop offset="0.7059" stop-color="#ff9300"/><stop offset="0.7059" stop-color="#ffa100"/><stop offset="0.7176" stop-color="#ffa100"/><stop offset="0.7176" stop-color="#ffbc00"/><stop offset="0.7294" stop-color="#ffbc00"/><stop offset="0.7294" stop-color="#ffd300"/><stop offset="0.7412" stop-color="#ffd300"/><stop offset="0.7412" stop-color="#ffe500"/><stop offset="0.7529" stop-color="#ffe500"/><stop offset="0.7529" stop-color="#fbf100"/><stop offset="0.7647" stop-color="#fbf100"/><stop offset="0.7647" stop-color="#f7f500"/><stop offset="0.7765" stop-color="#f7f500"/><stop offset="0.7765" stop-color="#f4f802"/><stop offset="0.7882" stop-color="#f4f802"/><stop offset="0.7882" stop-color="#f1fc06"/><stop offset="0.8000" stop-color="#f1fc06"/><stop offset="0.8000" stop-color="#eeff09"/><stop offset="0.8118" stop-color="#eeff09"/><stop offset="0.8118" stop-color="#ecff0b"/><stop offset="0.8235" stop-color="#ecff0b"/><stop offset="0.8235" stop-color="#ebff0c"/><stop offset="0.8353" stop-color="#ebff0c"/><stop offset="0.8353" stop-color="#e9ff0d"/><stop offset="0.8471" stop-color="#e9ff0d"/><stop offset="0.8471" stop-color="#e8ff0f"/><stop offset="0.8588" stop-color="#e8ff0f"/><stop offset="0.8588" stop-color="#e7ff10"/><stop offset="0.8706" stop-color="#e7ff10"/><stop offset="0.8706" stop-color="#e6ff11"/><stop offset="0.8824" stop-color="#e6ff11"/><stop offset="0.8824" stop-color="#e4ff13"/><stop offset="0.8941" stop-color="#e4ff13"/><stop offset="0.8941" stop-color="#e3ff14"/><stop offset="0.9647" stop-color="#e3ff14"/><stop offset="0.9647" stop-color="#e2ff14"/><stop offset="0.9882" stop-color="#e2ff14"/><stop offset="0.9882" stop-color="#e2ff15"/><stop offset="1.0000" stop-color="#e2ff15"/></radialGradient>
<radialGradient id="g17" gradientUnits="userSpaceOnUse" cx="380.20" cy="332.90" r="266.50"><stop offset="0.2800" stop-color="#000087"/><stop offset="0.2824" stop-color="#000087"/><stop offset="0.2824" stop-color="#0000b3"/><stop offset="0.2941" stop-color="#0000b3"/><stop offset="0.2941" stop-color="#0000fc"/><stop offset="0.3059" stop-color="#0000fc"/><stop offset="0.3059" stop-color="#0035ff"/><stop offset="0.3176" stop-color="#0035ff"/><stop offset="0.3176" stop-color="#007eff"/><stop offset="0.3294" stop-color="#007eff"/><stop offset="0.3294" stop-color="#00c4ff"/><stop offset="0.3412" stop-color="#00c4ff"/><stop offset="0.3412" stop-color="#19ffde"/><stop offset="0.3529" stop-color="#19ffde"/><stop offset="0.3529" stop-color="#55ffa1"/><stop offset="0.3647" stop-color="#55ffa1"/><stop offset="0.3647" stop-color="#91ff66"/><stop offset="0.3765" stop-color="#91ff66"/><stop offset="0.3765" stop-color="#c5ff32"/><stop offset="0.3882" stop-color="#c5ff32"/><stop offset="0.3882" stop-color="#f1fc05"/><stop offset="0.4000" stop-color="#f1fc05"/><stop offset="0.4000" stop-color="#ffeb00"/><stop offset="0.4118" stop-color="#ffeb00"/><stop offset="0.4118" stop-color="#ffdf00"/><stop offset="0.4235" stop-color="#ffdf00"/><stop offset="0.4235" stop-color="#ffd600"/><stop offset="0.4353" stop-color="#ffd600"/><stop offset="0.4353" stop-color="#ffce00"/><stop offset="0.4471" stop-color="#ffce00"/><stop offset="0.4471" stop-color="#ffc600"/><stop offset="0.4588" stop-color="#ffc600"/><stop offset="0.4588" stop-color="#ffbf00"/><stop offset="0.4706" stop-color="#ffbf00"/><stop offset="0.4706" stop-color="#ffbb00"/><stop offset="0.4824" stop-color="#ffbb00"/><stop offset="0.4824" stop-color="#ffb600"/><stop offset="0.4941" stop-color="#ffb600"/><stop offset="0.4941" stop-color="#ffb200"/><stop offset="0.5059" stop-color="#ffb200"/><stop offset="0.5059" stop-color="#ffb000"/><stop offset="0.5176" stop-color="#ffb000"/><stop offset="0.5176" stop-color="#ffaf00"/><stop offset="0.5647" stop-color="#ffaf00"/><stop offset="0.5647" stop-color="#ffae00"/><stop offset="0.6118" stop-color="#ffae00"/><stop offset="0.6118" stop-color="#ffad00"/><stop offset="0.6471" stop-color="#ffad00"/><stop offset="0.6471" stop-color="#ffac00"/><stop offset="0.6706" stop-color="#ffac00"/><stop offset="0.6706" stop-color="#ffab00"/><stop offset="0.6824" stop-color="#ffab00"/><stop offset="0.6824" stop-color="#ffaa00"/><stop offset="0.6941" stop-color="#ffaa00"/><stop offset="0.6941" stop-color="#ffa000"/><stop offset="0.7059" stop-color="#ffa000"/><stop offset="0.7059" stop-color="#ff9000"/><stop offset="0.7294" stop-color="#ff9000"/><stop offset="0.7294" stop-color="#ff9600"/><stop offset="0.7412" stop-color="#ff9600"/><stop offset="0.7412" stop-color="#ffa200"/><stop offset="0.7529" stop-color="#ffa200"/><stop offset="0.7529" stop-color="#ffc200"/><stop offset="0.7647" stop-color="#ffc200"/><stop offset="0.7647" stop-color="#ffd500"/><stop offset="0.7765" stop-color="#ffd500"/><stop offset="0.7765" stop-color="#ffe600"/><stop offset="0.7882" stop-color="#ffe600"/><stop offset="0.7882" stop-color="#faf200"/><stop offset="0.8000" stop-color="#faf200"/><stop offset="0.8000" stop-color="#f7f500"/><stop offset="0.8118" stop-color="#f7f500"/><stop offset="0.8118" stop-color="#f4f903"/><stop offset="0.8235" stop-color="#f4f903"/><stop offset="0.8235" stop-color="#f1fc06"/><stop offset="0.8353" stop-color="#f1fc06"/><stop offset="0.8353" stop-color="#eeff09"/><stop offset="0.8471" stop-color="#eeff09"/><stop offset="0.8471" stop-color="#ecff0b"/><stop offset="0.8588" stop-color="#ecff0b"/><stop offset="0.8588" stop-color="#ebff0c"/><stop offset="0.8706" stop-color="#ebff0c"/><stop offset="0.8706" stop-color="#e9ff0d"/><stop offset="0.8824" stop-color="#e9ff0d"/><stop offset="0.8824" stop-color="#e8ff0f"/><stop offset="0.8941" stop-color="#e8ff0f"/><stop offset="0.8941" stop-color="#e7ff10"/><stop offset="0.9059" stop-color="#e7ff10"/><stop offset="0.9059" stop-color="#e5ff11"/><stop offset="0.9176" stop-color="#e5ff11"/><stop offset="0.9176" stop-color="#e4ff13"/><stop offset="0.9294" stop-color="#e4ff13"/><stop offset="0.9294" stop-color="#e3ff14"/><stop offset="0.9765" stop-color="#e3ff14"/><stop offset="0.9765" stop-color="#e2ff14"/><stop offset="1.0000" stop-color="#e2ff14"/></radialGradient>
<radialGradient id="g18" gradientUnits="userSpaceOnUse" cx="380.20" cy="332.90" r="266.50"><stop offset="0.2824" stop-color="#0000a7"/><stop offset="0.2941" stop-color="#0000a7"/><stop offset="0.2941" stop-color="#0000e9"/><stop offset="0.3059" stop-color="#0000e9"/><stop offset="0.3059" stop-color="#001cff"/><stop offset="0.3176" stop-color="#001cff"/><stop offset="0.3176" stop-color="#005eff"/><stop offset="0.3294" stop-color="#005eff"/><stop offset="0.3294" stop-color="#00a0ff"/><stop offset="0.3412" stop-color="#00a0ff"/><stop offset="0.3412" stop-color="#00dbff"/><stop offset="0.3529" stop-color="#00dbff"/><stop offset="0.3529" stop-color="#29ffce"/><stop offset="0.3647" stop-color="#29ffce"/><stop offset="0.3647" stop-color="#60ff97"/><stop offset="0.3765" stop-color="#60ff97"/><stop offset="0.3765" stop-color="#95ff62"/><stop offset="0.3882" stop-color="#95ff62"/><stop offset="0.3882" stop-color="#c4ff33"/><stop offset="0.4000" stop-color="#c4ff33"/><stop offset="0.4000" stop-color="#edff0a"/><stop offset="0.4118" stop-color="#edff0a"/><stop offset="0.4118" stop-color="#eaff0c"/><stop offset="0.4235" stop-color="#eaff0c"/><stop offset="0.4235" stop-color="#f3fa04"/><stop offset="0.4353" stop-color="#f3fa04"/><stop offset="0.4353" stop-color="#faf200"/><stop offset="0.4471" stop-color="#faf200"/><stop offset="0.4471" stop-color="#ffec00"/><stop offset="0.4588" stop-color="#ffec00"/><stop offset="0.4588" stop-color="#ffe600"/><stop offset="0.4706" stop-color="#ffe600"/><stop offset="0.4706" stop-color="#ffde00"/><stop offset="0.4824" stop-color="#ffde00"/><stop offset="0.4824" stop-color="#ffd500"/><stop offset="0.4941" stop-color="#ffd500"/><stop offset="0.4941" stop-color="#ffce00"/><stop offset="0.5059" stop-color="#ffce00"/><stop offset="0.5059" stop-color="#ffca00"/><stop offset="0.5176" stop-color="#ffca00"/><stop offset="0.5176" stop-color="#ffc600"/><stop offset="0.5294" stop-color="#ffc600"/><stop offset="0.5294" stop-color="#ffc200"/><stop offset="0.5412" stop-color="#ffc200"/><stop offset="0.5412" stop-color="#ffc000"/><stop offset="0.5529" stop-color="#ffc000"/><stop offset="0.5529" stop-color="#ffbe00"/><stop offset="0.5647" stop-color="#ffbe00"/><stop offset="0.5647" stop-color="#ffbc00"/><stop offset="0.5765" stop-color="#ffbc00"/><stop offset="0.5765" stop-color="#ffba00"/><stop offset="0.5882" stop-color="#ffba00"/><stop offset="0.5882" stop-color="#ffb900"/><stop offset="0.6000" stop-color="#ffb900"/><stop offset="0.6000" stop-color="#ffb700"/><stop offset="0.6118" stop-color="#ffb700"/><stop offset="0.6118" stop-color="#ffb600"/><stop offset="0.6235" stop-color="#ffb600"/><stop offset="0.6235" stop-color="#ffb500"/><stop offset="0.6353" stop-color="#ffb500"/><stop offset="0.6353" stop-color="#ffb400"/><stop offset="0.6471" stop-color="#ffb400"/><stop offset="0.6471" stop-color="#ffb300"/><stop offset="0.6588" stop-color="#ffb300"/><stop offset="0.6588" stop-color="#ffb200"/><stop offset="0.6824" stop-color="#ffb200"/><stop offset="0.6824" stop-color="#ffb100"/><stop offset="0.6941" stop-color="#ffb100"/><stop offset="0.6941" stop-color="#ffb000"/><stop offset="0.7059" stop-color="#ffb000"/><stop offset="0.7059" stop-color="#ffaf00"/><stop offset="0.7176" stop-color="#ffaf00"/><stop offset="0.7176" stop-color="#ffad00"/><stop offset="0.7294" stop-color="#ffad00"/><stop offset="0.7294" stop-color="#ff9b00"/><stop offset="0.7412" stop-color="#ff9b00"/><stop offset="0.7412" stop-color="#ff9000"/><stop offset="0.7647" stop-color="#ff9000"/><stop offset="0.7647" stop-color="#ff9100"/><stop offset="0.7765" stop-color="#ff9100"/><stop offset="0.7765" stop-color="#ffa000"/><stop offset="0.7882" stop-color="#ffa000"/><stop offset="0.7882" stop-color="#ffb600"/><stop offset="0.8000" stop-color="#ffb600"/><stop offset="0.8000" stop-color="#ffd100"/><stop offset="0.8118" stop-color="#ffd100"/><stop offset="0.8118" stop-color="#ffe300"/><stop offset="0.8235" stop-color="#ffe300"/><stop offset="0.8235" stop-color="#fbf100"/><stop offset="0.8353" stop-color="#fbf100"/><stop offset="0.8353" stop-color="#f8f400"/><stop offset="0.8471" stop-color="#f8f400"/><stop offset="0.8471" stop-color="#f5f802"/><stop offset="0.8588" stop-color="#f5f802"/><stop offset="0.8588" stop-color="#f2fc05"/><stop offset="0.8706" stop-color="#f2fc05"/><stop offset="0.8706" stop-color="#eeff08"/><stop offset="0.8824" stop-color="#eeff08"/><stop offset="0.8824" stop-color="#ecff0b"/><stop offset="0.8941" stop-color="#ecff0b"/><stop offset="0.8941" stop-color="#ebff0c"/><stop offset="0.9059" stop-color="#ebff0c"/><stop offset="0.9059" stop-color="#eaff0d"/><stop offset="0.9176" stop-color="#eaff0d"/><stop offset="0.9176" stop-color="#e8ff0e"/><stop offset="0.9294" stop-color="#e8ff0e"/><stop offset="0.9294" stop-color="#e7ff10"/><stop offset="0.9412" stop-color="#e7ff10"/><stop offset="0.9412" stop-color="#e6ff11"/><stop offset="0.9529" stop-color="#e6ff11"/><stop offset="0.9529" stop-color="#e4ff12"/><stop offset="0.9647" stop-color="#e4ff12"/><stop offset="0.9647" stop-color="#e3ff14"/><stop offset="0.9882" stop-color="#e3ff14"/><stop offset="0.9882" stop-color="#e2ff14"/><stop offset="1.0000" stop-color="#e2ff14"/></radialGradient>
<radialGradient id="g19" gradientUnits="userSpaceOnUse" cx="380.20" cy="332.90" r="266.50"><stop offset="0.2871" stop-color="#000090"/><stop offset="0.2941" stop-color="#000090"/><stop offset="0.2941" stop-color="#0000ba"/><stop offset="0.3059" stop-color="#0000ba"/><stop offset="0.3059" stop-color="#0000f0"/><stop offset="0.3176" stop-color="#0000f0"/><stop offset="0.3176" stop-color="#0024ff"/><stop offset="0.3294" stop-color="#0024ff"/><stop offset="0.3294" stop-color="#0075ff"/><stop offset="0.3412" stop-color="#0075ff"/><stop offset="0.3412" stop-color="#00c7ff"/><stop offset="0.3529" stop-color="#00c7ff"/><stop offset="0.3529" stop-color="#23ffd4"/><stop offset="0.3647" stop-color="#23ffd4"/><stop offset="0.3647" stop-color="#57ffa0"/><stop offset="0.3765" stop-color="#57ffa0"/><stop offset="0.3765" stop-color="#8cff6b"/><stop offset="0.3882" stop-color="#8cff6b"/><stop offset="0.3882" stop-color="#a9ff4d"/><stop offset="0.4000" stop-color="#a9ff4d"/><stop offset="0.4000" stop-color="#c7ff30"/><stop offset="0.4118" stop-color="#c7ff30"/><stop offset="0.4118" stop-color="#ddff1a"/><stop offset="0.4235" stop-color="#ddff1a"/><stop offset="0.4235" stop-color="#ebff0b"/><stop offset="0.4353" stop-color="#ebff0b"/><stop offset="0.4353" stop-color="#f3f903"/><stop offset="0.4471" stop-color="#f3f903"/><stop offset="0.4471" stop-color="#f5f702"/><stop offset="0.4588" stop-color="#f5f702"/><stop offset="0.4588" stop-color="#f7f600"/><stop offset="0.4706" stop-color="#f7f600"/><stop offset="0.4706" stop-color="#f8f400"/><stop offset="0.4824" stop-color="#f8f400"/><stop offset="0.4824" stop-color="#faf200"/><stop offset="0.4941" stop-color="#faf200"/><stop offset="0.4941" stop-color="#fdee00"/><stop offset="0.5059" stop-color="#fdee00"/><stop offset="0.5059" stop-color="#ffea00"/><stop offset="0.5176" stop-color="#ffea00"/><stop offset="0.5176" stop-color="#ffe500"/><stop offset="0.5294" stop-color="#ffe500"/><stop offset="0.5294" stop-color="#ffe000"/><stop offset="0.5412" stop-color="#ffe000"/><stop offset="0.5412" stop-color="#ffdc00"/><stop offset="0.5529" stop-color="#ffdc00"/><stop offset="0.5529" stop-color="#ffd700"/><stop offset="0.5647" stop-color="#ffd700"/><stop offset="0.5647" stop-color="#ffd200"/><stop offset="0.5765" stop-color="#ffd200"/><stop offset="0.5765" stop-color="#ffcd00"/><stop offset="0.5882" stop-color="#ffcd00"/><stop offset="0.5882" stop-color="#ffca00"/><stop offset="0.6000" stop-color="#ffca00"/><stop offset="0.6000" stop-color="#ffc700"/><stop offset="0.6118" stop-color="#ffc700"/><stop offset="0.6118" stop-color="#ffc400"/><stop offset="0.6235" stop-color="#ffc400"/><stop offset="0.6235" stop-color="#ffc100"/><stop offset="0.6353" stop-color="#ffc100"/><stop offset="0.6353" stop-color="#ffbe00"/><stop offset="0.6471" stop-color="#ffbe00"/><stop offset="0.6471" stop-color="#ffbc00"/><stop offset="0.6588" stop-color="#ffbc00"/><stop offset="0.6588" stop-color="#ffba00"/><stop offset="0.6706" stop-color="#ffba00"/><stop offset="0.6706" stop-color="#ffb800"/><stop offset="0.6824" stop-color="#ffb800"/><stop offset="0.6824" stop-color="#ffb600"/><stop offset="0.6941" stop-color="#ffb600"/><stop offset="0.6941" stop-color="#ffb400"/><stop offset="0.7059" stop-color="#ffb400"/><stop offset="0.7059" stop-color="#ffb300"/><stop offset="0.7176" stop-color="#ffb300"/><stop offset="0.7176" stop-color="#ffb200"/><stop offset="0.7294" stop-color="#ffb200"/><stop offset="0.7294" stop-color="#ffb000"/><stop offset="0.7412" stop-color="#ffb000"/><stop offset="0.7412" stop-color="#ffaf00"/><stop offset="0.7529" stop-color="#ffaf00"/><stop offset="0.7529" stop-color="#ffad00"/><stop offset="0.7647" stop-color="#ffad00"/><stop offset="0.7647" stop-color="#ffaa00"/><stop offset="0.7765" stop-color="#ffaa00"/><stop offset="0.7765" stop-color="#ff9700"/><stop offset="0.7882" stop-color="#ff9700"/><stop offset="0.7882" stop-color="#ff9500"/><stop offset="0.8118" stop-color="#ff9500"/><stop offset="0.8118" stop-color="#ff9700"/><stop offset="0.8235" stop-color="#ff9700"/><stop offset="0.8235" stop-color="#ffa100"/><stop offset="0.8353" stop-color="#ffa100"/><stop offset="0.8353" stop-color="#ffbc00"/><stop offset="0.8471" stop-color="#ffbc00"/><stop offset="0.8471" stop-color="#ffd300"/><stop offset="0.8588" stop-color="#ffd300"/><stop offset="0.8588" stop-color="#ffe500"/><stop offset="0.8706" stop-color="#ffe500"/><stop offset="0.8706" stop-color="#fbf100"/><stop offset="0.8824" stop-color="#fbf100"/><stop offset="0.8824" stop-color="#f7f500"/><stop offset="0.8941" stop-color="#f7f500"/><stop offset="0.8941" stop-color="#f4f802"/><stop offset="0.9059" stop-color="#f4f802"/><stop offset="0.9059" stop-color="#f1fc06"/><stop offset="0.9176" stop-color="#f1fc06"/><stop offset="0.9176" stop-color="#eeff09"/><stop offset="0.9294" stop-color="#eeff09"/><stop offset="0.9294" stop-color="#ecff0b"/><stop offset="0.9412" stop-color="#ecff0b"/><stop offset="0.9412" stop-color="#eaff0d"/><stop offset="0.9529" stop-color="#eaff0d"/><stop offset="0.9529" stop-color="#e8ff0e"/><stop offset="0.9647" stop-color="#e8ff0e"/><stop offset="0.9647" stop-color="#e7ff10"/><stop offset="0.9765" stop-color="#e7ff10"/><stop offset="0.9765" stop-color="#e5ff12"/><stop offset="0.9882" stop-color="#e5ff12"/><stop offset="0.9882" stop-color="#e3ff14"/><stop offset="1.0000" stop-color="#e3ff14"/></radialGradient>
<radialGradient id="g20" gradientUnits="userSpaceOnUse" cx="380.20" cy="332.90" r="266.50"><stop offset="0.3000" stop-color="#00008d"/><stop offset="0.3059" stop-color="#00008d"/><stop offset="0.3059" stop-color="#0000b7"/><stop offset="0.3176" stop-color="#0000b7"/><stop offset="0.3176" stop-color="#0000ef"/><stop offset="0.3294" stop-color="#0000ef"/><stop offset="0.3294" stop-color="#0024ff"/><stop offset="0.3412" stop-color="#0024ff"/><stop offset="0.3412" stop-color="#0075ff"/><stop offset="0.3529" stop-color="#0075ff"/><stop offset="0.3529" stop-color="#00c7ff"/><stop offset="0.3647" stop-color="#00c7ff"/><stop offset="0.3647" stop-color="#1effd9"/><stop offset="0.3765" stop-color="#1effd9"/><stop offset="0.3765" stop-color="#4affad"/><stop offset="0.3882" stop-color="#4affad"/><stop offset="0.3882" stop-color="#76ff81"/><stop offset="0.4000" stop-color="#76ff81"/><stop offset="0.4000" stop-color="#98ff5f"/><stop offset="0.4118" stop-color="#98ff5f"/><stop offset="0.4118" stop-color="#b1ff46"/><stop offset="0.4235" stop-color="#b1ff46"/><stop offset="0.4235" stop-color="#caff2d"/><stop offset="0.4353" stop-color="#caff2d"/><stop offset="0.4353" stop-color="#dcff1b"/><stop offset="0.4471" stop-color="#dcff1b"/><stop offset="0.4471" stop-color="#e8ff0e"/><stop offset="0.4588" stop-color="#e8ff0e"/><stop offset="0.4588" stop-color="#effe08"/><stop offset="0.4706" stop-color="#effe08"/><stop offset="0.4706" stop-color="#f1fd06"/><stop offset="0.4824" stop-color="#f1fd06"/><stop offset="0.4824" stop-color="#f2fb05"/><stop offset="0.4941" stop-color="#f2fb05"/><stop offset="0.4941" stop-color="#f3f903"/><stop offset="0.5059" stop-color="#f3f903"/><stop offset="0.5059" stop-color="#f5f802"/><stop offset="0.5176" stop-color="#f5f802"/><stop offset="0.5176" stop-color="#f6f601"/><stop offset="0.5294" stop-color="#f6f601"/><stop offset="0.5294" stop-color="#f7f500"/><stop offset="0.5412" stop-color="#f7f500"/><stop offset="0.5412" stop-color="#f9f400"/><stop offset="0.5529" stop-color="#f9f400"/><stop offset="0.5529" stop-color="#faf200"/><stop offset="0.5647" stop-color="#faf200"/><stop offset="0.5647" stop-color="#fbf100"/><stop offset="0.5765" stop-color="#fbf100"/><stop offset="0.5765" stop-color="#fcef00"/><stop offset="0.5882" stop-color="#fcef00"/><stop offset="0.5882" stop-color="#fdee00"/><stop offset="0.6000" stop-color="#fdee00"/><stop offset="0.6000" stop-color="#feed00"/><stop offset="0.6118" stop-color="#feed00"/><stop offset="0.6118" stop-color="#ffeb00"/><stop offset="0.6235" stop-color="#ffeb00"/><stop offset="0.6235" stop-color="#ffe800"/><stop offset="0.6353" stop-color="#ffe800"/><stop offset="0.6353" stop-color="#ffe500"/><stop offset="0.6471" stop-color="#ffe500"/><stop offset="0.6471" stop-color="#ffe200"/><stop offset="0.6588" stop-color="#ffe200"/><stop offset="0.6588" stop-color="#ffdf00"/><stop offset="0.6706" stop-color="#ffdf00"/><stop offset="0.6706" stop-color="#ffdc00"/><stop offset="0.6824" stop-color="#ffdc00"/><stop offset="0.6824" stop-color="#ffd800"/><stop offset="0.6941" stop-color="#ffd800"/><stop offset="0.6941" stop-color="#ffd400"/><stop offset="0.7059" stop-color="#ffd400"/><stop offset="0.7059" stop-color="#ffd100"/><stop offset="0.7176" stop-color="#ffd100"/><stop offset="0.7176" stop-color="#ffcd00"/><stop offset="0.7294" stop-color="#ffcd00"/><stop offset="0.7294" stop-color="#ffc900"/><stop offset="0.7412" stop-color="#ffc900"/><stop offset="0.7412" stop-color="#ffc500"/><stop offset="0.7529" stop-color="#ffc500"/><stop offset="0.7529" stop-color="#ffc000"/><stop offset="0.7647" stop-color="#ffc000"/><stop offset="0.7647" stop-color="#ffbc00"/><stop offset="0.7765" stop-color="#ffbc00"/><stop offset="0.7765" stop-color="#ffb800"/><stop offset="0.7882" stop-color="#ffb800"/><stop offset="0.7882" stop-color="#ffb300"/><stop offset="0.8000" stop-color="#ffb300"/><stop offset="0.8000" stop-color="#ffaf00"/><stop offset="0.8118" stop-color="#ffaf00"/><stop offset="0.8118" stop-color="#ffa900"/><stop offset="0.8235" stop-color="#ffa900"/><stop offset="0.8235" stop-color="#ff9b00"/><stop offset="0.8353" stop-color="#ff9b00"/><stop offset="0.8353" stop-color="#ff9800"/><stop offset="0.8706" stop-color="#ff9800"/><stop offset="0.8706" stop-color="#ffa000"/><stop offset="0.8824" stop-color="#ffa000"/><stop offset="0.8824" stop-color="#ffb600"/><stop offset="0.8941" stop-color="#ffb600"/><stop offset="0.8941" stop-color="#ffd100"/><stop offset="0.9059" stop-color="#ffd100"/><stop offset="0.9059" stop-color="#ffe300"/><stop offset="0.9176" stop-color="#ffe300"/><stop offset="0.9176" stop-color="#fbf100"/><stop offset="0.9294" stop-color="#fbf100"/><stop offset="0.9294" stop-color="#f8f400"/><stop offset="0.9412" stop-color="#f8f400"/><stop offset="0.9412" stop-color="#f5f802"/><stop offset="0.9529" stop-color="#f5f802"/><stop offset="0.9529" stop-color="#f2fc05"/><stop offset="0.9647" stop-color="#f2fc05"/><stop offset="0.9647" stop-color="#eeff08"/><stop offset="0.9765" stop-color="#eeff08"/><stop offset="0.9765" stop-color="#eaff0d"/><stop offset="0.9882" stop-color="#eaff0d"/><stop offset="0.9882" stop-color="#e3ff14"/><stop offset="1.0000" stop-color="#e3ff14"/></radialGradient>
<radialGradient id="g21" gradientUnits="userSpaceOnUse" cx="380.20" cy="332.90" r="266.50"><stop offset="0.3141" stop-color="#000087"/><stop offset="0.3176" stop-color="#000087"/><stop offset="0.3176" stop-color="#0000a7"/><stop offset="0.3294" stop-color="#0000a7"/><stop offset="0.3294" stop-color="#0000d9"/><stop offset="0.3412" stop-color="#0000d9"/><stop offset="0.3412" stop-color="#0000ff"/><stop offset="0.3529" stop-color="#0000ff"/><stop offset="0.3529" stop-color="#0041ff"/><stop offset="0.3647" stop-color="#0041ff"/><stop offset="0.3647" stop-color="#0087ff"/><stop offset="0.3765" stop-color="#0087ff"/><stop offset="0.3765" stop-color="#00cdff"/><stop offset="0.3882" stop-color="#00cdff"/><stop offset="0.3882" stop-color="#19ffde"/><stop offset="0.4000" stop-color="#19ffde"/><stop offset="0.4000" stop-color="#3affbd"/><stop offset="0.4118" stop-color="#3affbd"/><stop offset="0.4118" stop-color="#5aff9c"/><stop offset="0.4235" stop-color="#5aff9c"/><stop offset="0.4235" stop-color="#7bff7b"/><stop offset="0.4353" stop-color="#7bff7b"/><stop offset="0.4353" stop-color="#95ff62"/><stop offset="0.4471" stop-color="#95ff62"/><stop offset="0.4471" stop-color="#a8ff4f"/><stop offset="0.4588" stop-color="#a8ff4f"/><stop offset="0.4588" stop-color="#baff3d"/><stop offset="0.4706" stop-color="#baff3d"/><stop offset="0.4706" stop-color="#cdff2a"/><stop offset="0.4824" stop-color="#cdff2a"/><stop offset="0.4824" stop-color="#d9ff1d"/><stop offset="0.4941" stop-color="#d9ff1d"/><stop offset="0.4941" stop-color="#e1ff16"/><stop offset="0.5059" stop-color="#e1ff16"/><stop offset="0.5059" stop-color="#e8ff0f"/><stop offset="0.5176" stop-color="#e8ff0f"/><stop offset="0.5176" stop-color="#effe08"/><stop offset="0.5294" stop-color="#effe08"/><stop offset="0.5294" stop-color="#f3fa04"/><stop offset="0.5412" stop-color="#f3fa04"/><stop offset="0.5412" stop-color="#f3f903"/><stop offset="0.5529" stop-color="#f3f903"/><stop offset="0.5529" stop-color="#f4f903"/><stop offset="0.5647" stop-color="#f4f903"/><stop offset="0.5647" stop-color="#f4f802"/><stop offset="0.5765" stop-color="#f4f802"/><stop offset="0.5765" stop-color="#f5f802"/><stop offset="0.5882" stop-color="#f5f802"/><stop offset="0.5882" stop-color="#f5f701"/><stop offset="0.6000" stop-color="#f5f701"/><stop offset="0.6000" stop-color="#f6f701"/><stop offset="0.6118" stop-color="#f6f701"/><stop offset="0.6118" stop-color="#f6f600"/><stop offset="0.6235" stop-color="#f6f600"/><stop offset="0.6235" stop-color="#f7f600"/><stop offset="0.6353" stop-color="#f7f600"/><stop offset="0.6353" stop-color="#f7f500"/><stop offset="0.6471" stop-color="#f7f500"/><stop offset="0.6471" stop-color="#f8f400"/><stop offset="0.6706" stop-color="#f8f400"/><stop offset="0.6706" stop-color="#f9f300"/><stop offset="0.6941" stop-color="#f9f300"/><stop offset="0.6941" stop-color="#faf200"/><stop offset="0.7176" stop-color="#faf200"/><stop offset="0.7176" stop-color="#fbf100"/><stop offset="0.7294" stop-color="#fbf100"/><stop offset="0.7294" stop-color="#fdee00"/><stop offset="0.7412" stop-color="#fdee00"/><stop offset="0.7412" stop-color="#ffea00"/><stop offset="0.7529" stop-color="#ffea00"/><stop offset="0.7529" stop-color="#ffe500"/><stop offset="0.7647" stop-color="#ffe500"/><stop offset="0.7647" stop-color="#ffe000"/><stop offset="0.7765" stop-color="#ffe000"/><stop offset="0.7765" stop-color="#ffdb00"/><stop offset="0.7882" stop-color="#ffdb00"/><stop offset="0.7882" stop-color="#ffd400"/><stop offset="0.8000" stop-color="#ffd400"/><stop offset="0.8000" stop-color="#ffcd00"/><stop offset="0.8118" stop-color="#ffcd00"/><stop offset="0.8118" stop-color="#ffc700"/><stop offset="0.8235" stop-color="#ffc700"/><stop offset="0.8235" stop-color="#ffc000"/><stop offset="0.8353" stop-color="#ffc000"/><stop offset="0.8353" stop-color="#ffb900"/><stop offset="0.8471" stop-color="#ffb900"/><stop offset="0.8471" stop-color="#ffb200"/><stop offset="0.8588" stop-color="#ffb200"/><stop offset="0.8588" stop-color="#ffa400"/><stop offset="0.8706" stop-color="#ffa400"/><stop offset="0.8706" stop-color="#ff9a00"/><stop offset="0.9059" stop-color="#ff9a00"/><stop offset="0.9059" stop-color="#ff9c00"/><stop offset="0.9176" stop-color="#ff9c00"/><stop offset="0.9176" stop-color="#ffa300"/><stop offset="0.9294" stop-color="#ffa300"/><stop offset="0.9294" stop-color="#ffc900"/><stop offset="0.9412" stop-color="#ffc900"/><stop offset="0.9412" stop-color="#ffde00"/><stop offset="0.9529" stop-color="#ffde00"/><stop offset="0.9529" stop-color="#fdee00"/><stop offset="0.9647" stop-color="#fdee00"/><stop offset="0.9647" stop-color="#f4f903"/><stop offset="0.9765" stop-color="#f4f903"/><stop offset="0.9765" stop-color="#ecff0b"/><stop offset="0.9882" stop-color="#ecff0b"/><stop offset="0.9882" stop-color="#e3ff14"/><stop offset="1.0000" stop-color="#e3ff14"/></radialGradient>
<radialGradient id="g22" gradientUnits="userSpaceOnUse" cx="380.20" cy="332.90" r="266.50"><stop offset="0.3353" stop-color="#00008d"/><stop offset="0.3412" stop-color="#00008d"/><stop offset="0.3412" stop-color="#0000b7"/><stop offset="0.3529" stop-color="#0000b7"/><stop offset="0.3529" stop-color="#0000ef"/><stop offset="0.3647" stop-color="#0000ef"/><stop offset="0.3647" stop-color="#0016ff"/><stop offset="0.3765" stop-color="#0016ff"/><stop offset="0.3765" stop-color="#004dff"/><stop offset="0.3882" stop-color="#004dff"/><stop offset="0.3882" stop-color="#0083ff"/><stop offset="0.4000" stop-color="#0083ff"/><stop offset="0.4000" stop-color="#00b9ff"/><stop offset="0.4118" stop-color="#00b9ff"/><stop offset="0.4118" stop-color="#08f0ef"/><stop offset="0.4235" stop-color="#08f0ef"/><stop offset="0.4235" stop-color="#25ffd1"/><stop offset="0.4353" stop-color="#25ffd1"/><stop offset="0.4353" stop-color="#43ffb4"/><stop offset="0.4471" stop-color="#43ffb4"/><stop offset="0.4471" stop-color="#60ff97"/><stop offset="0.4588" stop-color="#60ff97"/><stop offset="0.4588" stop-color="#7dff7a"/><stop offset="0.4706" stop-color="#7dff7a"/><stop offset="0.4706" stop-color="#92ff64"/><stop offset="0.4824" stop-color="#92ff64"/><stop offset="0.4824" stop-color="#a0ff57"/><stop offset="0.4941" stop-color="#a0ff57"/><stop offset="0.4941" stop-color="#adff4a"/><stop offset="0.5059" stop-color="#adff4a"/><stop offset="0.5059" stop-color="#baff3d"/><stop offset="0.5176" stop-color="#baff3d"/><stop offset="0.5176" stop-color="#c7ff30"/><stop offset="0.5294" stop-color="#c7ff30"/><stop offset="0.5294" stop-color="#d1ff26"/><stop offset="0.5412" stop-color="#d1ff26"/><stop offset="0.5412" stop-color="#d6ff20"/><stop offset="0.5529" stop-color="#d6ff20"/><stop offset="0.5529" stop-color="#dcff1b"/><stop offset="0.5647" stop-color="#dcff1b"/><stop offset="0.5647" stop-color="#e2ff15"/><stop offset="0.5765" stop-color="#e2ff15"/><stop offset="0.5765" stop-color="#e8ff0f"/><stop offset="0.5882" stop-color="#e8ff0f"/><stop offset="0.5882" stop-color="#ebff0c"/><stop offset="0.6000" stop-color="#ebff0c"/><stop offset="0.6000" stop-color="#ecff0a"/><stop offset="0.6118" stop-color="#ecff0a"/><stop offset="0.6118" stop-color="#eeff09"/><stop offset="0.6235" stop-color="#eeff09"/><stop offset="0.6235" stop-color="#efff08"/><stop offset="0.6353" stop-color="#efff08"/><stop offset="0.6353" stop-color="#f0fd07"/><stop offset="0.6471" stop-color="#f0fd07"/><stop offset="0.6471" stop-color="#f1fc06"/><stop offset="0.6588" stop-color="#f1fc06"/><stop offset="0.6588" stop-color="#f2fb04"/><stop offset="0.6706" stop-color="#f2fb04"/><stop offset="0.6706" stop-color="#f4f903"/><stop offset="0.6824" stop-color="#f4f903"/><stop offset="0.6824" stop-color="#f5f802"/><stop offset="0.6941" stop-color="#f5f802"/><stop offset="0.6941" stop-color="#f6f601"/><stop offset="0.7059" stop-color="#f6f601"/><stop offset="0.7059" stop-color="#f7f500"/><stop offset="0.7176" stop-color="#f7f500"/><stop offset="0.7176" stop-color="#f8f400"/><stop offset="0.7294" stop-color="#f8f400"/><stop offset="0.7294" stop-color="#f9f300"/><stop offset="0.7529" stop-color="#f9f300"/><stop offset="0.7529" stop-color="#faf200"/><stop offset="0.7647" stop-color="#faf200"/><stop offset="0.7647" stop-color="#fbf100"/><stop offset="0.7765" stop-color="#fbf100"/><stop offset="0.7765" stop-color="#fcf000"/><stop offset="0.7882" stop-color="#fcf000"/><stop offset="0.7882" stop-color="#fcef00"/><stop offset="0.8000" stop-color="#fcef00"/><stop offset="0.8000" stop-color="#fdee00"/><stop offset="0.8118" stop-color="#fdee00"/><stop offset="0.8118" stop-color="#ffeb00"/><stop offset="0.8235" stop-color="#ffeb00"/><stop offset="0.8235" stop-color="#ffe600"/><stop offset="0.8353" stop-color="#ffe600"/><stop offset="0.8353" stop-color="#ffe100"/><stop offset="0.8471" stop-color="#ffe100"/><stop offset="0.8471" stop-color="#ffda00"/><stop offset="0.8588" stop-color="#ffda00"/><stop offset="0.8588" stop-color="#ffd300"/><stop offset="0.8706" stop-color="#ffd300"/><stop offset="0.8706" stop-color="#ffcc00"/><stop offset="0.8824" stop-color="#ffcc00"/><stop offset="0.8824" stop-color="#ffc500"/><stop offset="0.8941" stop-color="#ffc500"/><stop offset="0.8941" stop-color="#ffbe00"/><stop offset="0.9059" stop-color="#ffbe00"/><stop offset="0.9059" stop-color="#ffb700"/><stop offset="0.9176" stop-color="#ffb700"/><stop offset="0.9176" stop-color="#ffaf00"/><stop offset="0.9294" stop-color="#ffaf00"/><stop offset="0.9294" stop-color="#ffa700"/><stop offset="0.9412" stop-color="#ffa700"/><stop offset="0.9412" stop-color="#ffa300"/><stop offset="0.9529" stop-color="#ffa300"/><stop offset="0.9529" stop-color="#ffa200"/><stop offset="0.9647" stop-color="#ffa200"/><stop offset="0.9647" stop-color="#ffa100"/><stop offset="0.9765" stop-color="#ffa100"/><stop offset="0.9765" stop-color="#ffba00"/><stop offset="0.9882" stop-color="#ffba00"/><stop offset="0.9882" stop-color="#ffd900"/><stop offset="1.0000" stop-color="#ffd900"/></radialGradient>
<radialGradient id="g23" gradientUnits="userSpaceOnUse" cx="380.20" cy="332.90" r="266.50"><stop offset="0.3706" stop-color="#00008b"/><stop offset="0.3765" stop-color="#00008b"/><stop offset="0.3765" stop-color="#0000ae"/><stop offset="0.3882" stop-color="#0000ae"/><stop offset="0.3882" stop-color="#0000dc"/><stop offset="0.4000" stop-color="#0000dc"/><stop offset="0.4000" stop-color="#0000ff"/><stop offset="0.4118" stop-color="#0000ff"/><stop offset="0.4118" stop-color="#002bff"/><stop offset="0.4235" stop-color="#002bff"/><stop offset="0.4235" stop-color="#005bff"/><stop offset="0.4353" stop-color="#005bff"/><stop offset="0.4353" stop-color="#008cff"/><stop offset="0.4471" stop-color="#008cff"/><stop offset="0.4471" stop-color="#00bcff"/><stop offset="0.4588" stop-color="#00bcff"/><stop offset="0.4588" stop-color="#05ecf2"/><stop offset="0.4706" stop-color="#05ecf2"/><stop offset="0.4706" stop-color="#22ffd4"/><stop offset="0.4824" stop-color="#22ffd4"/><stop offset="0.4824" stop-color="#35ffc1"/><stop offset="0.4941" stop-color="#35ffc1"/><stop offset="0.4941" stop-color="#49ffae"/><stop offset="0.5059" stop-color="#49ffae"/><stop offset="0.5059" stop-color="#5cff9b"/><stop offset="0.5176" stop-color="#5cff9b"/><stop offset="0.5176" stop-color="#6fff88"/><stop offset="0.5294" stop-color="#6fff88"/><stop offset="0.5294" stop-color="#82ff75"/><stop offset="0.5412" stop-color="#82ff75"/><stop offset="0.5412" stop-color="#91ff66"/><stop offset="0.5529" stop-color="#91ff66"/><stop offset="0.5529" stop-color="#9aff5d"/><stop offset="0.5647" stop-color="#9aff5d"/><stop offset="0.5647" stop-color="#a3ff53"/><stop offset="0.5765" stop-color="#a3ff53"/><stop offset="0.5765" stop-color="#adff4a"/><stop offset="0.5882" stop-color="#adff4a"/><stop offset="0.5882" stop-color="#b6ff41"/><stop offset="0.6000" stop-color="#b6ff41"/><stop offset="0.6000" stop-color="#c0ff37"/><stop offset="0.6118" stop-color="#c0ff37"/><stop offset="0.6118" stop-color="#c9ff2e"/><stop offset="0.6235" stop-color="#c9ff2e"/><stop offset="0.6235" stop-color="#cfff27"/><stop offset="0.6353" stop-color="#cfff27"/><stop offset="0.6353" stop-color="#d3ff24"/><stop offset="0.6471" stop-color="#d3ff24"/><stop offset="0.6471" stop-color="#d6ff20"/><stop offset="0.6588" stop-color="#d6ff20"/><stop offset="0.6588" stop-color="#daff1d"/><stop offset="0.6706" stop-color="#daff1d"/><stop offset="0.6706" stop-color="#deff19"/><stop offset="0.6824" stop-color="#deff19"/><stop offset="0.6824" stop-color="#e1ff16"/><stop offset="0.6941" stop-color="#e1ff16"/><stop offset="0.6941" stop-color="#e5ff12"/><stop offset="0.7059" stop-color="#e5ff12"/><stop offset="0.7059" stop-color="#e7ff10"/><stop offset="0.7176" stop-color="#e7ff10"/><stop offset="0.7176" stop-color="#e9ff0e"/><stop offset="0.7294" stop-color="#e9ff0e"/><stop offset="0.7294" stop-color="#ebff0c"/><stop offset="0.7412" stop-color="#ebff0c"/><stop offset="0.7412" stop-color="#edff0a"/><stop offset="0.7529" stop-color="#edff0a"/><stop offset="0.7529" stop-color="#efff08"/><stop offset="0.7647" stop-color="#efff08"/><stop offset="0.7647" stop-color="#f1fd06"/><stop offset="0.7765" stop-color="#f1fd06"/><stop offset="0.7765" stop-color="#f2fb04"/><stop offset="0.7882" stop-color="#f2fb04"/><stop offset="0.7882" stop-color="#f4f903"/><stop offset="0.8000" stop-color="#f4f903"/><stop offset="0.8000" stop-color="#f6f701"/><stop offset="0.8118" stop-color="#f6f701"/><stop offset="0.8118" stop-color="#f7f500"/><stop offset="0.8235" stop-color="#f7f500"/><stop offset="0.8235" stop-color="#f8f400"/><stop offset="0.8353" stop-color="#f8f400"/><stop offset="0.8353" stop-color="#f9f300"/><stop offset="0.8471" stop-color="#f9f300"/><stop offset="0.8471" stop-color="#faf100"/><stop offset="0.8588" stop-color="#faf100"/><stop offset="0.8588" stop-color="#fcf000"/><stop offset="0.8706" stop-color="#fcf000"/><stop offset="0.8706" stop-color="#fdef00"/><stop offset="0.8824" stop-color="#fdef00"/><stop offset="0.8824" stop-color="#ffec00"/><stop offset="0.8941" stop-color="#ffec00"/><stop offset="0.8941" stop-color="#ffe700"/><stop offset="0.9059" stop-color="#ffe700"/><stop offset="0.9059" stop-color="#ffe300"/><stop offset="0.9176" stop-color="#ffe300"/><stop offset="0.9176" stop-color="#ffdd00"/><stop offset="0.9294" stop-color="#ffdd00"/><stop offset="0.9294" stop-color="#ffd400"/><stop offset="0.9412" stop-color="#ffd400"/><stop offset="0.9412" stop-color="#ffcc00"/><stop offset="0.9529" stop-color="#ffcc00"/><stop offset="0.9529" stop-color="#ffc300"/><stop offset="0.9647" stop-color="#ffc300"/><stop offset="0.9647" stop-color="#ffbe00"/><stop offset="0.9765" stop-color="#ffbe00"/><stop offset="0.9765" stop-color="#ffbb00"/><stop offset="0.9882" stop-color="#ffbb00"/><stop offset="0.9882" stop-color="#ffb900"/><stop offset="1.0000" stop-color="#ffb900"/></radialGradient>
<radialGradient id="g24" gradientUnits="userSpaceOnUse" cx="380.20" cy="332.90" r="266.50"><stop offset="0.3965" stop-color="#000087"/><stop offset="0.4000" stop-color="#000087"/><stop offset="0.4000" stop-color="#0000a8"/><stop offset="0.4118" stop-color="#0000a8"/><stop offset="0.4118" stop-color="#0000da"/><stop offset="0.4235" stop-color="#0000da"/><stop offset="0.4235" stop-color="#0000ff"/><stop offset="0.4353" stop-color="#0000ff"/><stop offset="0.4353" stop-color="#001aff"/><stop offset="0.4471" stop-color="#001aff"/><stop offset="0.4471" stop-color="#003cff"/><stop offset="0.4588" stop-color="#003cff"/><stop offset="0.4588" stop-color="#005eff"/><stop offset="0.4706" stop-color="#005eff"/><stop offset="0.4706" stop-color="#0080ff"/><stop offset="0.4824" stop-color="#0080ff"/><stop offset="0.4824" stop-color="#00a2ff"/><stop offset="0.4941" stop-color="#00a2ff"/><stop offset="0.4941" stop-color="#00c0ff"/><stop offset="0.5059" stop-color="#00c0ff"/><stop offset="0.5059" stop-color="#00dbff"/><stop offset="0.5176" stop-color="#00dbff"/><stop offset="0.5176" stop-color="#0ef7e9"/><stop offset="0.5294" stop-color="#0ef7e9"/><stop offset="0.5294" stop-color="#23ffd4"/><stop offset="0.5412" stop-color="#23ffd4"/><stop offset="0.5412" stop-color="#36ffc0"/><stop offset="0.5529" stop-color="#36ffc0"/><stop offset="0.5529" stop-color="#4affad"/><stop offset="0.5647" stop-color="#4affad"/><stop offset="0.5647" stop-color="#5eff99"/><stop offset="0.5765" stop-color="#5eff99"/><stop offset="0.5765" stop-color="#72ff85"/><stop offset="0.5882" stop-color="#72ff85"/><stop offset="0.5882" stop-color="#81ff76"/><stop offset="0.6000" stop-color="#81ff76"/><stop offset="0.6000" stop-color="#8bff6b"/><stop offset="0.6118" stop-color="#8bff6b"/><stop offset="0.6118" stop-color="#96ff61"/><stop offset="0.6235" stop-color="#96ff61"/><stop offset="0.6235" stop-color="#a1ff56"/><stop offset="0.6353" stop-color="#a1ff56"/><stop offset="0.6353" stop-color="#acff4b"/><stop offset="0.6471" stop-color="#acff4b"/><stop offset="0.6471" stop-color="#b3ff43"/><stop offset="0.6588" stop-color="#b3ff43"/><stop offset="0.6588" stop-color="#b8ff3f"/><stop offset="0.6706" stop-color="#b8ff3f"/><stop offset="0.6706" stop-color="#bdff3a"/><stop offset="0.6824" stop-color="#bdff3a"/><stop offset="0.6824" stop-color="#c2ff35"/><stop offset="0.6941" stop-color="#c2ff35"/><stop offset="0.6941" stop-color="#c7ff30"/><stop offset="0.7059" stop-color="#c7ff30"/><stop offset="0.7059" stop-color="#cbff2c"/><stop offset="0.7176" stop-color="#cbff2c"/><stop offset="0.7176" stop-color="#ceff28"/><stop offset="0.7294" stop-color="#ceff28"/><stop offset="0.7294" stop-color="#d2ff25"/><stop offset="0.7412" stop-color="#d2ff25"/><stop offset="0.7412" stop-color="#d5ff22"/><stop offset="0.7529" stop-color="#d5ff22"/><stop offset="0.7529" stop-color="#d8ff1e"/><stop offset="0.7647" stop-color="#d8ff1e"/><stop offset="0.7647" stop-color="#dbff1c"/><stop offset="0.7765" stop-color="#dbff1c"/><stop offset="0.7765" stop-color="#deff19"/><stop offset="0.7882" stop-color="#deff19"/><stop offset="0.7882" stop-color="#e0ff17"/><stop offset="0.8000" stop-color="#e0ff17"/><stop offset="0.8000" stop-color="#e3ff14"/><stop offset="0.8118" stop-color="#e3ff14"/><stop offset="0.8118" stop-color="#e5ff12"/><stop offset="0.8235" stop-color="#e5ff12"/><stop offset="0.8235" stop-color="#e7ff10"/><stop offset="0.8353" stop-color="#e7ff10"/><stop offset="0.8353" stop-color="#e9ff0e"/><stop offset="0.8471" stop-color="#e9ff0e"/><stop offset="0.8471" stop-color="#eaff0c"/><stop offset="0.8588" stop-color="#eaff0c"/><stop offset="0.8588" stop-color="#ecff0b"/><stop offset="0.8706" stop-color="#ecff0b"/><stop offset="0.8706" stop-color="#eeff09"/><stop offset="0.8824" stop-color="#eeff09"/><stop offset="0.8824" stop-color="#efff08"/><stop offset="0.8941" stop-color="#efff08"/><stop offset="0.8941" stop-color="#f0fe07"/><stop offset="0.9059" stop-color="#f0fe07"/><stop offset="0.9059" stop-color="#f1fd06"/><stop offset="0.9176" stop-color="#f1fd06"/><stop offset="0.9176" stop-color="#f1fc05"/><stop offset="0.9294" stop-color="#f1fc05"/><stop offset="0.9294" stop-color="#f2fb05"/><stop offset="0.9412" stop-color="#f2fb05"/><stop offset="0.9412" stop-color="#f3fa04"/><stop offset="0.9529" stop-color="#f3fa04"/><stop offset="0.9529" stop-color="#f4f903"/><stop offset="0.9647" stop-color="#f4f903"/><stop offset="0.9647" stop-color="#f5f802"/><stop offset="0.9765" stop-color="#f5f802"/><stop offset="0.9765" stop-color="#f6f701"/><stop offset="0.9882" stop-color="#f6f701"/><stop offset="0.9882" stop-color="#f6f600"/><stop offset="1.0000" stop-color="#f6f600"/></radialGradient>
<radialGradient id="g25" gradientUnits="userSpaceOnUse" cx="380.20" cy="332.90" r="266.50"><stop offset="0.4271" stop-color="#00008f"/><stop offset="0.4353" stop-color="#00008f"/><stop offset="0.4353" stop-color="#0000b3"/><stop offset="0.4471" stop-color="#0000b3"/><stop offset="0.4471" stop-color="#0000de"/><stop offset="0.4588" stop-color="#0000de"/><stop offset="0.4588" stop-color="#0000ff"/><stop offset="0.4706" stop-color="#0000ff"/><stop offset="0.4706" stop-color="#001aff"/><stop offset="0.4824" stop-color="#001aff"/><stop offset="0.4824" stop-color="#003cff"/><stop offset="0.4941" stop-color="#003cff"/><stop offset="0.4941" stop-color="#005dff"/><stop offset="0.5059" stop-color="#005dff"/><stop offset="0.5059" stop-color="#007fff"/><stop offset="0.5176" stop-color="#007fff"/><stop offset="0.5176" stop-color="#00a2ff"/><stop offset="0.5294" stop-color="#00a2ff"/><stop offset="0.5294" stop-color="#00c0ff"/><stop offset="0.5412" stop-color="#00c0ff"/><stop offset="0.5412" stop-color="#00daff"/><stop offset="0.5529" stop-color="#00daff"/><stop offset="0.5529" stop-color="#0cf5ea"/><stop offset="0.5647" stop-color="#0cf5ea"/><stop offset="0.5647" stop-color="#22ffd5"/><stop offset="0.5765" stop-color="#22ffd5"/><stop offset="0.5765" stop-color="#37ffc0"/><stop offset="0.5882" stop-color="#37ffc0"/><stop offset="0.5882" stop-color="#48ffaf"/><stop offset="0.6000" stop-color="#48ffaf"/><stop offset="0.6000" stop-color="#53ffa4"/><stop offset="0.6118" stop-color="#53ffa4"/><stop offset="0.6118" stop-color="#5fff98"/><stop offset="0.6235" stop-color="#5fff98"/><stop offset="0.6235" stop-color="#6aff8d"/><stop offset="0.6353" stop-color="#6aff8d"/><stop offset="0.6353" stop-color="#76ff81"/><stop offset="0.6471" stop-color="#76ff81"/><stop offset="0.6471" stop-color="#7fff78"/><stop offset="0.6588" stop-color="#7fff78"/><stop offset="0.6588" stop-color="#86ff70"/><stop offset="0.6706" stop-color="#86ff70"/><stop offset="0.6706" stop-color="#8eff69"/><stop offset="0.6824" stop-color="#8eff69"/><stop offset="0.6824" stop-color="#95ff61"/><stop offset="0.6941" stop-color="#95ff61"/><stop offset="0.6941" stop-color="#9dff5a"/><stop offset="0.7059" stop-color="#9dff5a"/><stop offset="0.7059" stop-color="#a2ff55"/><stop offset="0.7176" stop-color="#a2ff55"/><stop offset="0.7176" stop-color="#a5ff51"/><stop offset="0.7294" stop-color="#a5ff51"/><stop offset="0.7294" stop-color="#a9ff4e"/><stop offset="0.7412" stop-color="#a9ff4e"/><stop offset="0.7412" stop-color="#acff4b"/><stop offset="0.7529" stop-color="#acff4b"/><stop offset="0.7529" stop-color="#afff48"/><stop offset="0.7647" stop-color="#afff48"/><stop offset="0.7647" stop-color="#b2ff45"/><stop offset="0.7765" stop-color="#b2ff45"/><stop offset="0.7765" stop-color="#b3ff43"/><stop offset="0.7882" stop-color="#b3ff43"/><stop offset="0.7882" stop-color="#b5ff42"/><stop offset="0.8000" stop-color="#b5ff42"/><stop offset="0.8000" stop-color="#b7ff40"/><stop offset="0.8118" stop-color="#b7ff40"/><stop offset="0.8118" stop-color="#b8ff3f"/><stop offset="0.8235" stop-color="#b8ff3f"/><stop offset="0.8235" stop-color="#b9ff3d"/><stop offset="0.8353" stop-color="#b9ff3d"/><stop offset="0.8353" stop-color="#baff3d"/><stop offset="0.8588" stop-color="#baff3d"/><stop offset="0.8588" stop-color="#bbff3c"/><stop offset="0.8824" stop-color="#bbff3c"/><stop offset="0.8824" stop-color="#bbff3b"/><stop offset="0.8941" stop-color="#bbff3b"/><stop offset="0.8941" stop-color="#bcff3b"/><stop offset="0.9176" stop-color="#bcff3b"/><stop offset="0.9176" stop-color="#bdff3a"/><stop offset="1.0000" stop-color="#bdff3a"/></radialGradient>
<radialGradient id="g26" gradientUnits="userSpaceOnUse" cx="380.20" cy="332.90" r="266.50"><stop offset="0.4565" stop-color="#000082"/><stop offset="0.4588" stop-color="#000082"/><stop offset="0.4588" stop-color="#000093"/><stop offset="0.4706" stop-color="#000093"/><stop offset="0.4706" stop-color="#0000ae"/><stop offset="0.4824" stop-color="#0000ae"/><stop offset="0.4824" stop-color="#0000dc"/><stop offset="0.4941" stop-color="#0000dc"/><stop offset="0.4941" stop-color="#0000ff"/><stop offset="0.5059" stop-color="#0000ff"/><stop offset="0.5059" stop-color="#000fff"/><stop offset="0.5176" stop-color="#000fff"/><stop offset="0.5176" stop-color="#002bff"/><stop offset="0.5294" stop-color="#002bff"/><stop offset="0.5294" stop-color="#0044ff"/><stop offset="0.5412" stop-color="#0044ff"/><stop offset="0.5412" stop-color="#005dff"/><stop offset="0.5529" stop-color="#005dff"/><stop offset="0.5529" stop-color="#0075ff"/><stop offset="0.5647" stop-color="#0075ff"/><stop offset="0.5647" stop-color="#008eff"/><stop offset="0.5765" stop-color="#008eff"/><stop offset="0.5765" stop-color="#00a6ff"/><stop offset="0.5882" stop-color="#00a6ff"/><stop offset="0.5882" stop-color="#00bbff"/><stop offset="0.6000" stop-color="#00bbff"/><stop offset="0.6000" stop-color="#00cbff"/><stop offset="0.6118" stop-color="#00cbff"/><stop offset="0.6118" stop-color="#00dbff"/><stop offset="0.6235" stop-color="#00dbff"/><stop offset="0.6235" stop-color="#05ecf2"/><stop offset="0.6353" stop-color="#05ecf2"/><stop offset="0.6353" stop-color="#12fce5"/><stop offset="0.6471" stop-color="#12fce5"/><stop offset="0.6471" stop-color="#1effd9"/><stop offset="0.6588" stop-color="#1effd9"/><stop offset="0.6588" stop-color="#27ffcf"/><stop offset="0.6706" stop-color="#27ffcf"/><stop offset="0.6706" stop-color="#31ffc5"/><stop offset="0.6824" stop-color="#31ffc5"/><stop offset="0.6824" stop-color="#3bffbc"/><stop offset="0.6941" stop-color="#3bffbc"/><stop offset="0.6941" stop-color="#45ffb2"/><stop offset="0.7059" stop-color="#45ffb2"/><stop offset="0.7059" stop-color="#4dffa9"/><stop offset="0.7176" stop-color="#4dffa9"/><stop offset="0.7176" stop-color="#54ffa3"/><stop offset="0.7294" stop-color="#54ffa3"/><stop offset="0.7294" stop-color="#5aff9c"/><stop offset="0.7412" stop-color="#5aff9c"/><stop offset="0.7412" stop-color="#61ff96"/><stop offset="0.7529" stop-color="#61ff96"/><stop offset="0.7529" stop-color="#68ff8f"/><stop offset="0.7647" stop-color="#68ff8f"/><stop offset="0.7647" stop-color="#6dff89"/><stop offset="0.7765" stop-color="#6dff89"/><stop offset="0.7765" stop-color="#72ff84"/><stop offset="0.7882" stop-color="#72ff84"/><stop offset="0.7882" stop-color="#77ff80"/><stop offset="0.8000" stop-color="#77ff80"/><stop offset="0.8000" stop-color="#7cff7b"/><stop offset="0.8118" stop-color="#7cff7b"/><stop offset="0.8118" stop-color="#81ff76"/><stop offset="0.8235" stop-color="#81ff76"/><stop offset="0.8235" stop-color="#84ff72"/><stop offset="0.8353" stop-color="#84ff72"/><stop offset="0.8353" stop-color="#86ff71"/><stop offset="0.8471" stop-color="#86ff71"/><stop offset="0.8471" stop-color="#88ff6f"/><stop offset="0.8588" stop-color="#88ff6f"/><stop offset="0.8588" stop-color="#89ff6d"/><stop offset="0.8706" stop-color="#89ff6d"/><stop offset="0.8706" stop-color="#8bff6c"/><stop offset="0.8824" stop-color="#8bff6c"/><stop offset="0.8824" stop-color="#8dff6a"/><stop offset="0.8941" stop-color="#8dff6a"/><stop offset="0.8941" stop-color="#8eff68"/><stop offset="0.9059" stop-color="#8eff68"/><stop offset="0.9059" stop-color="#90ff67"/><stop offset="0.9176" stop-color="#90ff67"/><stop offset="0.9176" stop-color="#92ff65"/><stop offset="0.9294" stop-color="#92ff65"/><stop offset="0.9294" stop-color="#93ff64"/><stop offset="0.9412" stop-color="#93ff64"/><stop offset="0.9412" stop-color="#95ff62"/><stop offset="0.9529" stop-color="#95ff62"/><stop offset="0.9529" stop-color="#97ff60"/><stop offset="0.9647" stop-color="#97ff60"/><stop offset="0.9647" stop-color="#98ff5f"/><stop offset="0.9765" stop-color="#98ff5f"/><stop offset="0.9765" stop-color="#9aff5d"/><stop offset="0.9882" stop-color="#9aff5d"/><stop offset="0.9882" stop-color="#9bff5b"/><stop offset="1.0000" stop-color="#9bff5b"/></radialGradient>
<radialGradient id="g27" gradientUnits="userSpaceOnUse" cx="380.20" cy="332.90" r="266.50"><stop offset="0.4976" stop-color="#000089"/><stop offset="0.5059" stop-color="#000089"/><stop offset="0.5059" stop-color="#0000a0"/><stop offset="0.5176" stop-color="#0000a0"/><stop offset="0.5176" stop-color="#0000c2"/><stop offset="0.5294" stop-color="#0000c2"/><stop offset="0.5294" stop-color="#0000eb"/><stop offset="0.5412" stop-color="#0000eb"/><stop offset="0.5412" stop-color="#0000ff"/><stop offset="0.5529" stop-color="#0000ff"/><stop offset="0.5529" stop-color="#0004ff"/><stop offset="0.5647" stop-color="#0004ff"/><stop offset="0.5647" stop-color="#0011ff"/><stop offset="0.5765" stop-color="#0011ff"/><stop offset="0.5765" stop-color="#001dff"/><stop offset="0.5882" stop-color="#001dff"/><stop offset="0.5882" stop-color="#002aff"/><stop offset="0.6000" stop-color="#002aff"/><stop offset="0.6000" stop-color="#0036ff"/><stop offset="0.6118" stop-color="#0036ff"/><stop offset="0.6118" stop-color="#0042ff"/><stop offset="0.6235" stop-color="#0042ff"/><stop offset="0.6235" stop-color="#004fff"/><stop offset="0.6353" stop-color="#004fff"/><stop offset="0.6353" stop-color="#005bff"/><stop offset="0.6471" stop-color="#005bff"/><stop offset="0.6471" stop-color="#0068ff"/><stop offset="0.6588" stop-color="#0068ff"/><stop offset="0.6588" stop-color="#0075ff"/><stop offset="0.6706" stop-color="#0075ff"/><stop offset="0.6706" stop-color="#0082ff"/><stop offset="0.6824" stop-color="#0082ff"/><stop offset="0.6824" stop-color="#008fff"/><stop offset="0.6941" stop-color="#008fff"/><stop offset="0.6941" stop-color="#009dff"/><stop offset="0.7059" stop-color="#009dff"/><stop offset="0.7059" stop-color="#00a9ff"/><stop offset="0.7176" stop-color="#00a9ff"/><stop offset="0.7176" stop-color="#00b6ff"/><stop offset="0.7294" stop-color="#00b6ff"/><stop offset="0.7294" stop-color="#00c2ff"/><stop offset="0.7412" stop-color="#00c2ff"/><stop offset="0.7412" stop-color="#00ceff"/><stop offset="0.7529" stop-color="#00ceff"/><stop offset="0.7529" stop-color="#00daff"/><stop offset="0.7647" stop-color="#00daff"/><stop offset="0.7647" stop-color="#00e6f6"/><stop offset="0.7765" stop-color="#00e6f6"/><stop offset="0.7765" stop-color="#09f1ed"/><stop offset="0.7882" stop-color="#09f1ed"/><stop offset="0.7882" stop-color="#13fce4"/><stop offset="0.8000" stop-color="#13fce4"/><stop offset="0.8000" stop-color="#1cffdb"/><stop offset="0.8118" stop-color="#1cffdb"/><stop offset="0.8118" stop-color="#25ffd2"/><stop offset="0.8235" stop-color="#25ffd2"/><stop offset="0.8235" stop-color="#2cffca"/><stop offset="0.8353" stop-color="#2cffca"/><stop offset="0.8353" stop-color="#33ffc4"/><stop offset="0.8471" stop-color="#33ffc4"/><stop offset="0.8471" stop-color="#3affbd"/><stop offset="0.8588" stop-color="#3affbd"/><stop offset="0.8588" stop-color="#40ffb7"/><stop offset="0.8706" stop-color="#40ffb7"/><stop offset="0.8706" stop-color="#47ffb0"/><stop offset="0.8824" stop-color="#47ffb0"/><stop offset="0.8824" stop-color="#4dffaa"/><stop offset="0.8941" stop-color="#4dffaa"/><stop offset="0.8941" stop-color="#51ffa5"/><stop offset="0.9059" stop-color="#51ffa5"/><stop offset="0.9059" stop-color="#56ffa0"/><stop offset="0.9176" stop-color="#56ffa0"/><stop offset="0.9176" stop-color="#5bff9b"/><stop offset="0.9294" stop-color="#5bff9b"/><stop offset="0.9294" stop-color="#60ff97"/><stop offset="0.9412" stop-color="#60ff97"/><stop offset="0.9412" stop-color="#64ff92"/><stop offset="0.9529" stop-color="#64ff92"/><stop offset="0.9529" stop-color="#68ff8f"/><stop offset="0.9647" stop-color="#68ff8f"/><stop offset="0.9647" stop-color="#6bff8c"/><stop offset="0.9765" stop-color="#6bff8c"/><stop offset="0.9765" stop-color="#6eff89"/><stop offset="0.9882" stop-color="#6eff89"/><stop offset="0.9882" stop-color="#72ff85"/><stop offset="1.0000" stop-color="#72ff85"/></radialGradient>
<radialGradient id="g28" gradientUnits="userSpaceOnUse" cx="380.20" cy="332.90" r="266.50"><stop offset="0.5471" stop-color="#000087"/><stop offset="0.5529" stop-color="#000087"/><stop offset="0.5529" stop-color="#00009e"/><stop offset="0.5647" stop-color="#00009e"/><stop offset="0.5647" stop-color="#0000bf"/><stop offset="0.5765" stop-color="#0000bf"/><stop offset="0.5765" stop-color="#0000e2"/><stop offset="0.5882" stop-color="#0000e2"/><stop offset="0.5882" stop-color="#0000fd"/><stop offset="0.6000" stop-color="#0000fd"/><stop offset="0.6000" stop-color="#0000ff"/><stop offset="0.6118" stop-color="#0000ff"/><stop offset="0.6118" stop-color="#000fff"/><stop offset="0.6235" stop-color="#000fff"/><stop offset="0.6235" stop-color="#0020ff"/><stop offset="0.6353" stop-color="#0020ff"/><stop offset="0.6353" stop-color="#0030ff"/><stop offset="0.6471" stop-color="#0030ff"/><stop offset="0.6471" stop-color="#003eff"/><stop offset="0.6588" stop-color="#003eff"/><stop offset="0.6588" stop-color="#0049ff"/><stop offset="0.6706" stop-color="#0049ff"/><stop offset="0.6706" stop-color="#0054ff"/><stop offset="0.6824" stop-color="#0054ff"/><stop offset="0.6824" stop-color="#005fff"/><stop offset="0.6941" stop-color="#005fff"/><stop offset="0.6941" stop-color="#006bff"/><stop offset="0.7059" stop-color="#006bff"/><stop offset="0.7059" stop-color="#0075ff"/><stop offset="0.7176" stop-color="#0075ff"/><stop offset="0.7176" stop-color="#0080ff"/><stop offset="0.7294" stop-color="#0080ff"/><stop offset="0.7294" stop-color="#008aff"/><stop offset="0.7412" stop-color="#008aff"/><stop offset="0.7412" stop-color="#0094ff"/><stop offset="0.7529" stop-color="#0094ff"/><stop offset="0.7529" stop-color="#009eff"/><stop offset="0.7647" stop-color="#009eff"/><stop offset="0.7647" stop-color="#00a7ff"/><stop offset="0.7765" stop-color="#00a7ff"/><stop offset="0.7765" stop-color="#00afff"/><stop offset="0.7882" stop-color="#00afff"/><stop offset="0.7882" stop-color="#00b8ff"/><stop offset="0.8000" stop-color="#00b8ff"/><stop offset="0.8000" stop-color="#00c0ff"/><stop offset="0.8118" stop-color="#00c0ff"/><stop offset="0.8118" stop-color="#00c8ff"/><stop offset="0.8235" stop-color="#00c8ff"/><stop offset="0.8235" stop-color="#00d0ff"/><stop offset="0.8353" stop-color="#00d0ff"/><stop offset="0.8353" stop-color="#00d9ff"/><stop offset="0.8471" stop-color="#00d9ff"/><stop offset="0.8471" stop-color="#00e2fa"/><stop offset="0.8588" stop-color="#00e2fa"/><stop offset="0.8588" stop-color="#04ebf3"/><stop offset="0.8706" stop-color="#04ebf3"/><stop offset="0.8706" stop-color="#0bf3ec"/><stop offset="0.8824" stop-color="#0bf3ec"/><stop offset="0.8824" stop-color="#13fde4"/><stop offset="0.8941" stop-color="#13fde4"/><stop offset="0.8941" stop-color="#1affdc"/><stop offset="0.9059" stop-color="#1affdc"/><stop offset="0.9059" stop-color="#22ffd5"/><stop offset="0.9176" stop-color="#22ffd5"/><stop offset="0.9176" stop-color="#2affcd"/><stop offset="0.9294" stop-color="#2affcd"/><stop offset="0.9294" stop-color="#32ffc5"/><stop offset="0.9412" stop-color="#32ffc5"/><stop offset="0.9412" stop-color="#39ffbe"/><stop offset="0.9529" stop-color="#39ffbe"/><stop offset="0.9529" stop-color="#3fffb7"/><stop offset="0.9647" stop-color="#3fffb7"/><stop offset="0.9647" stop-color="#46ffb1"/><stop offset="0.9765" stop-color="#46ffb1"/><stop offset="0.9765" stop-color="#4dffaa"/><stop offset="0.9882" stop-color="#4dffaa"/><stop offset="0.9882" stop-color="#53ffa4"/><stop offset="1.0000" stop-color="#53ffa4"/></radialGradient>
<radialGradient id="g29" gradientUnits="userSpaceOnUse" cx="380.20" cy="332.90" r="266.50"><stop offset="0.5459" stop-color="#000088"/><stop offset="0.5529" stop-color="#000088"/><stop offset="0.5529" stop-color="#00009f"/><stop offset="0.5647" stop-color="#00009f"/><stop offset="0.5647" stop-color="#0000c2"/><stop offset="0.5765" stop-color="#0000c2"/><stop offset="0.5765" stop-color="#0000eb"/><stop offset="0.5882" stop-color="#0000eb"/><stop offset="0.5882" stop-color="#0000ff"/><stop offset="0.6000" stop-color="#0000ff"/><stop offset="0.6000" stop-color="#0009ff"/><stop offset="0.6118" stop-color="#0009ff"/><stop offset="0.6118" stop-color="#0019ff"/><stop offset="0.6235" stop-color="#0019ff"/><stop offset="0.6235" stop-color="#002cff"/><stop offset="0.6353" stop-color="#002cff"/><stop offset="0.6353" stop-color="#003eff"/><stop offset="0.6471" stop-color="#003eff"/><stop offset="0.6471" stop-color="#004eff"/><stop offset="0.6588" stop-color="#004eff"/><stop offset="0.6588" stop-color="#005aff"/><stop offset="0.6706" stop-color="#005aff"/><stop offset="0.6706" stop-color="#0066ff"/><stop offset="0.6824" stop-color="#0066ff"/><stop offset="0.6824" stop-color="#0072ff"/><stop offset="0.6941" stop-color="#0072ff"/><stop offset="0.6941" stop-color="#007eff"/><stop offset="0.7059" stop-color="#007eff"/><stop offset="0.7059" stop-color="#008aff"/><stop offset="0.7176" stop-color="#008aff"/><stop offset="0.7176" stop-color="#0094ff"/><stop offset="0.7294" stop-color="#0094ff"/><stop offset="0.7294" stop-color="#009eff"/><stop offset="0.7412" stop-color="#009eff"/><stop offset="0.7412" stop-color="#00a8ff"/><stop offset="0.7529" stop-color="#00a8ff"/><stop offset="0.7529" stop-color="#00b2ff"/><stop offset="0.7647" stop-color="#00b2ff"/><stop offset="0.7647" stop-color="#00bcff"/><stop offset="0.7765" stop-color="#00bcff"/><stop offset="0.7765" stop-color="#00c4ff"/><stop offset="0.7882" stop-color="#00c4ff"/><stop offset="0.7882" stop-color="#00ccff"/><stop offset="0.8000" stop-color="#00ccff"/><stop offset="0.8000" stop-color="#00d4ff"/><stop offset="0.8118" stop-color="#00d4ff"/><stop offset="0.8118" stop-color="#00dcfe"/><stop offset="0.8235" stop-color="#00dcfe"/><stop offset="0.8235" stop-color="#00e4f8"/><stop offset="0.8353" stop-color="#00e4f8"/><stop offset="0.8353" stop-color="#06edf1"/><stop offset="0.8471" stop-color="#06edf1"/><stop offset="0.8471" stop-color="#0cf5ea"/><stop offset="0.8588" stop-color="#0cf5ea"/><stop offset="0.8588" stop-color="#13fde4"/><stop offset="0.8706" stop-color="#13fde4"/><stop offset="0.8706" stop-color="#1affdd"/><stop offset="0.8824" stop-color="#1affdd"/><stop offset="0.8824" stop-color="#20ffd6"/><stop offset="0.8941" stop-color="#20ffd6"/><stop offset="0.8941" stop-color="#28ffcf"/><stop offset="0.9059" stop-color="#28ffcf"/><stop offset="0.9059" stop-color="#2fffc7"/><stop offset="0.9176" stop-color="#2fffc7"/><stop offset="0.9176" stop-color="#37ffc0"/><stop offset="0.9294" stop-color="#37ffc0"/><stop offset="0.9294" stop-color="#3effb9"/><stop offset="0.9412" stop-color="#3effb9"/><stop offset="0.9412" stop-color="#45ffb2"/><stop offset="0.9529" stop-color="#45ffb2"/><stop offset="0.9529" stop-color="#4cffab"/><stop offset="0.9647" stop-color="#4cffab"/><stop offset="0.9647" stop-color="#52ffa5"/><stop offset="0.9765" stop-color="#52ffa5"/><stop offset="0.9765" stop-color="#59ff9e"/><stop offset="0.9882" stop-color="#59ff9e"/><stop offset="0.9882" stop-color="#5fff97"/><stop offset="1.0000" stop-color="#5fff97"/></radialGradient>
<radialGradient id="g30" gradientUnits="userSpaceOnUse" cx="380.20" cy="332.90" r="266.50"><stop offset="0.5506" stop-color="#000082"/><stop offset="0.5529" stop-color="#000082"/><stop offset="0.5529" stop-color="#000094"/><stop offset="0.5647" stop-color="#000094"/><stop offset="0.5647" stop-color="#0000c1"/><stop offset="0.5765" stop-color="#0000c1"/><stop offset="0.5765" stop-color="#0000ff"/><stop offset="0.6000" stop-color="#0000ff"/><stop offset="0.6000" stop-color="#000cff"/><stop offset="0.6118" stop-color="#000cff"/><stop offset="0.6118" stop-color="#0024ff"/><stop offset="0.6235" stop-color="#0024ff"/><stop offset="0.6235" stop-color="#003aff"/><stop offset="0.6353" stop-color="#003aff"/><stop offset="0.6353" stop-color="#004dff"/><stop offset="0.6471" stop-color="#004dff"/><stop offset="0.6471" stop-color="#0060ff"/><stop offset="0.6588" stop-color="#0060ff"/><stop offset="0.6588" stop-color="#0070ff"/><stop offset="0.6706" stop-color="#0070ff"/><stop offset="0.6706" stop-color="#0080ff"/><stop offset="0.6824" stop-color="#0080ff"/><stop offset="0.6824" stop-color="#0090ff"/><stop offset="0.6941" stop-color="#0090ff"/><stop offset="0.6941" stop-color="#00a0ff"/><stop offset="0.7059" stop-color="#00a0ff"/><stop offset="0.7059" stop-color="#00b0ff"/><stop offset="0.7176" stop-color="#00b0ff"/><stop offset="0.7176" stop-color="#00bdff"/><stop offset="0.7294" stop-color="#00bdff"/><stop offset="0.7294" stop-color="#00c8ff"/><stop offset="0.7412" stop-color="#00c8ff"/><stop offset="0.7412" stop-color="#00d3ff"/><stop offset="0.7529" stop-color="#00d3ff"/><stop offset="0.7529" stop-color="#00ddfe"/><stop offset="0.7647" stop-color="#00ddfe"/><stop offset="0.7647" stop-color="#01e7f6"/><stop offset="0.7765" stop-color="#01e7f6"/><stop offset="0.7765" stop-color="#09f0ee"/><stop offset="0.7882" stop-color="#09f0ee"/><stop offset="0.7882" stop-color="#10fae6"/><stop offset="0.8000" stop-color="#10fae6"/><stop offset="0.8000" stop-color="#17ffe0"/><stop offset="0.8118" stop-color="#17ffe0"/><stop offset="0.8118" stop-color="#1effd9"/><stop offset="0.8235" stop-color="#1effd9"/><stop offset="0.8235" stop-color="#24ffd3"/><stop offset="0.8353" stop-color="#24ffd3"/><stop offset="0.8353" stop-color="#2bffcc"/><stop offset="0.8471" stop-color="#2bffcc"/><stop offset="0.8471" stop-color="#31ffc5"/><stop offset="0.8588" stop-color="#31ffc5"/><stop offset="0.8588" stop-color="#37ffbf"/><stop offset="0.8706" stop-color="#37ffbf"/><stop offset="0.8706" stop-color="#3dffb9"/><stop offset="0.8824" stop-color="#3dffb9"/><stop offset="0.8824" stop-color="#43ffb3"/><stop offset="0.8941" stop-color="#43ffb3"/><stop offset="0.8941" stop-color="#49ffad"/><stop offset="0.9059" stop-color="#49ffad"/><stop offset="0.9059" stop-color="#4fffa8"/><stop offset="0.9176" stop-color="#4fffa8"/><stop offset="0.9176" stop-color="#56ffa1"/><stop offset="0.9294" stop-color="#56ffa1"/><stop offset="0.9294" stop-color="#5cff9b"/><stop offset="0.9412" stop-color="#5cff9b"/><stop offset="0.9412" stop-color="#63ff94"/><stop offset="0.9529" stop-color="#63ff94"/><stop offset="0.9529" stop-color="#69ff8d"/><stop offset="0.9647" stop-color="#69ff8d"/><stop offset="0.9647" stop-color="#70ff87"/><stop offset="0.9765" stop-color="#70ff87"/><stop offset="0.9765" stop-color="#75ff82"/><stop offset="0.9882" stop-color="#75ff82"/><stop offset="0.9882" stop-color="#79ff7d"/><stop offset="1.0000" stop-color="#79ff7d"/></radialGradient>
<radialGradient id="g31" gradientUnits="userSpaceOnUse" cx="380.20" cy="332.90" r="266.50"><stop offset="0.5388" stop-color="#000082"/><stop offset="0.5412" stop-color="#000082"/><stop offset="0.5412" stop-color="#000093"/><stop offset="0.5529" stop-color="#000093"/><stop offset="0.5529" stop-color="#0000ae"/><stop offset="0.5647" stop-color="#0000ae"/><stop offset="0.5647" stop-color="#0000e4"/><stop offset="0.5765" stop-color="#0000e4"/><stop offset="0.5765" stop-color="#0000ff"/><stop offset="0.5882" stop-color="#0000ff"/><stop offset="0.5882" stop-color="#000bff"/><stop offset="0.6000" stop-color="#000bff"/><stop offset="0.6000" stop-color="#001dff"/><stop offset="0.6118" stop-color="#001dff"/><stop offset="0.6118" stop-color="#002dff"/><stop offset="0.6235" stop-color="#002dff"/><stop offset="0.6235" stop-color="#003eff"/><stop offset="0.6353" stop-color="#003eff"/><stop offset="0.6353" stop-color="#004eff"/><stop offset="0.6471" stop-color="#004eff"/><stop offset="0.6471" stop-color="#005eff"/><stop offset="0.6588" stop-color="#005eff"/><stop offset="0.6588" stop-color="#006eff"/><stop offset="0.6706" stop-color="#006eff"/><stop offset="0.6706" stop-color="#007dff"/><stop offset="0.6824" stop-color="#007dff"/><stop offset="0.6824" stop-color="#008cff"/><stop offset="0.6941" stop-color="#008cff"/><stop offset="0.6941" stop-color="#009cff"/><stop offset="0.7059" stop-color="#009cff"/><stop offset="0.7059" stop-color="#00aaff"/><stop offset="0.7176" stop-color="#00aaff"/><stop offset="0.7176" stop-color="#00b7ff"/><stop offset="0.7294" stop-color="#00b7ff"/><stop offset="0.7294" stop-color="#00c4ff"/><stop offset="0.7412" stop-color="#00c4ff"/><stop offset="0.7412" stop-color="#00d2ff"/><stop offset="0.7529" stop-color="#00d2ff"/><stop offset="0.7529" stop-color="#00dffc"/><stop offset="0.7647" stop-color="#00dffc"/><stop offset="0.7647" stop-color="#05ebf2"/><stop offset="0.7765" stop-color="#05ebf2"/><stop offset="0.7765" stop-color="#0ef6e9"/><stop offset="0.7882" stop-color="#0ef6e9"/><stop offset="0.7882" stop-color="#17ffe0"/><stop offset="0.8000" stop-color="#17ffe0"/><stop offset="0.8000" stop-color="#20ffd7"/><stop offset="0.8118" stop-color="#20ffd7"/><stop offset="0.8118" stop-color="#29ffce"/><stop offset="0.8235" stop-color="#29ffce"/><stop offset="0.8235" stop-color="#31ffc6"/><stop offset="0.8353" stop-color="#31ffc6"/><stop offset="0.8353" stop-color="#38ffbe"/><stop offset="0.8471" stop-color="#38ffbe"/><stop offset="0.8471" stop-color="#40ffb7"/><stop offset="0.8588" stop-color="#40ffb7"/><stop offset="0.8588" stop-color="#47ffb0"/><stop offset="0.8706" stop-color="#47ffb0"/><stop offset="0.8706" stop-color="#4fffa8"/><stop offset="0.8824" stop-color="#4fffa8"/><stop offset="0.8824" stop-color="#55ffa2"/><stop offset="0.8941" stop-color="#55ffa2"/><stop offset="0.8941" stop-color="#5aff9d"/><stop offset="0.9059" stop-color="#5aff9d"/><stop offset="0.9059" stop-color="#5fff98"/><stop offset="0.9176" stop-color="#5fff98"/><stop offset="0.9176" stop-color="#64ff93"/><stop offset="0.9294" stop-color="#64ff93"/><stop offset="0.9294" stop-color="#68ff8e"/><stop offset="0.9412" stop-color="#68ff8e"/><stop offset="0.9412" stop-color="#6dff8a"/><stop offset="0.9529" stop-color="#6dff8a"/><stop offset="0.9529" stop-color="#70ff87"/><stop offset="0.9647" stop-color="#70ff87"/><stop offset="0.9647" stop-color="#73ff84"/><stop offset="0.9765" stop-color="#73ff84"/><stop offset="0.9765" stop-color="#76ff80"/><stop offset="0.9882" stop-color="#76ff80"/><stop offset="0.9882" stop-color="#7aff7d"/><stop offset="1.0000" stop-color="#7aff7d"/></radialGradient>
<radialGradient id="g32" gradientUnits="userSpaceOnUse" cx="380.20" cy="332.90" r="266.50"><stop offset="0.5247" stop-color="#000085"/><stop offset="0.5294" stop-color="#000085"/><stop offset="0.5294" stop-color="#000098"/><stop offset="0.5412" stop-color="#000098"/><stop offset="0.5412" stop-color="#0000b7"/><stop offset="0.5529" stop-color="#0000b7"/><stop offset="0.5529" stop-color="#0000e7"/><stop offset="0.5647" stop-color="#0000e7"/><stop offset="0.5647" stop-color="#0000ff"/><stop offset="0.5765" stop-color="#0000ff"/><stop offset="0.5765" stop-color="#000bff"/><stop offset="0.5882" stop-color="#000bff"/><stop offset="0.5882" stop-color="#001dff"/><stop offset="0.6000" stop-color="#001dff"/><stop offset="0.6000" stop-color="#002dff"/><stop offset="0.6118" stop-color="#002dff"/><stop offset="0.6118" stop-color="#003dff"/><stop offset="0.6235" stop-color="#003dff"/><stop offset="0.6235" stop-color="#004eff"/><stop offset="0.6353" stop-color="#004eff"/><stop offset="0.6353" stop-color="#005eff"/><stop offset="0.6471" stop-color="#005eff"/><stop offset="0.6471" stop-color="#006fff"/><stop offset="0.6588" stop-color="#006fff"/><stop offset="0.6588" stop-color="#0080ff"/><stop offset="0.6706" stop-color="#0080ff"/><stop offset="0.6706" stop-color="#0091ff"/><stop offset="0.6824" stop-color="#0091ff"/><stop offset="0.6824" stop-color="#00a3ff"/><stop offset="0.6941" stop-color="#00a3ff"/><stop offset="0.6941" stop-color="#00b4ff"/><stop offset="0.7059" stop-color="#00b4ff"/><stop offset="0.7059" stop-color="#00c4ff"/><stop offset="0.7176" stop-color="#00c4ff"/><stop offset="0.7176" stop-color="#00d2ff"/><stop offset="0.7294" stop-color="#00d2ff"/><stop offset="0.7294" stop-color="#00e0fb"/><stop offset="0.7412" stop-color="#00e0fb"/><stop offset="0.7412" stop-color="#07efef"/><stop offset="0.7529" stop-color="#07efef"/><stop offset="0.7529" stop-color="#13fde4"/><stop offset="0.7647" stop-color="#13fde4"/><stop offset="0.7647" stop-color="#1dffda"/><stop offset="0.7765" stop-color="#1dffda"/><stop offset="0.7765" stop-color="#26ffd1"/><stop offset="0.7882" stop-color="#26ffd1"/><stop offset="0.7882" stop-color="#2fffc7"/><stop offset="0.8000" stop-color="#2fffc7"/><stop offset="0.8000" stop-color="#38ffbe"/><stop offset="0.8118" stop-color="#38ffbe"/><stop offset="0.8118" stop-color="#41ffb5"/><stop offset="0.8235" stop-color="#41ffb5"/><stop offset="0.8235" stop-color="#4affad"/><stop offset="0.8353" stop-color="#4affad"/><stop offset="0.8353" stop-color="#51ffa6"/><stop offset="0.8471" stop-color="#51ffa6"/><stop offset="0.8471" stop-color="#58ff9e"/><stop offset="0.8588" stop-color="#58ff9e"/><stop offset="0.8588" stop-color="#60ff97"/><stop offset="0.8706" stop-color="#60ff97"/><stop offset="0.8706" stop-color="#67ff90"/><stop offset="0.8824" stop-color="#67ff90"/><stop offset="0.8824" stop-color="#6dff89"/><stop offset="0.8941" stop-color="#6dff89"/><stop offset="0.8941" stop-color="#72ff84"/><stop offset="0.9059" stop-color="#72ff84"/><stop offset="0.9059" stop-color="#77ff80"/><stop offset="0.9176" stop-color="#77ff80"/><stop offset="0.9176" stop-color="#7cff7b"/><stop offset="0.9294" stop-color="#7cff7b"/><stop offset="0.9294" stop-color="#81ff76"/><stop offset="0.9412" stop-color="#81ff76"/><stop offset="0.9412" stop-color="#85ff72"/><stop offset="0.9529" stop-color="#85ff72"/><stop offset="0.9529" stop-color="#89ff6e"/><stop offset="0.9647" stop-color="#89ff6e"/><stop offset="0.9647" stop-color="#8cff6b"/><stop offset="0.9765" stop-color="#8cff6b"/><stop offset="0.9765" stop-color="#8fff68"/><stop offset="0.9882" stop-color="#8fff68"/><stop offset="0.9882" stop-color="#92ff64"/><stop offset="1.0000" stop-color="#92ff64"/></radialGradient>
<radialGradient id="g33" gradientUnits="userSpaceOnUse" cx="380.20" cy="332.90" r="266.50"><stop offset="0.5129" stop-color="#000085"/><stop offset="0.5176" stop-color="#000085"/><stop offset="0.5176" stop-color="#000098"/><stop offset="0.5294" stop-color="#000098"/><stop offset="0.5294" stop-color="#0000b7"/><stop offset="0.5412" stop-color="#0000b7"/><stop offset="0.5412" stop-color="#0000e7"/><stop offset="0.5529" stop-color="#0000e7"/><stop offset="0.5529" stop-color="#0000ff"/><stop offset="0.5647" stop-color="#0000ff"/><stop offset="0.5647" stop-color="#0008ff"/><stop offset="0.5765" stop-color="#0008ff"/><stop offset="0.5765" stop-color="#0017ff"/><stop offset="0.5882" stop-color="#0017ff"/><stop offset="0.5882" stop-color="#0028ff"/><stop offset="0.6000" stop-color="#0028ff"/><stop offset="0.6000" stop-color="#003aff"/><stop offset="0.6118" stop-color="#003aff"/><stop offset="0.6118" stop-color="#004dff"/><stop offset="0.6235" stop-color="#004dff"/><stop offset="0.6235" stop-color="#005fff"/><stop offset="0.6353" stop-color="#005fff"/><stop offset="0.6353" stop-color="#0071ff"/><stop offset="0.6471" stop-color="#0071ff"/><stop offset="0.6471" stop-color="#0084ff"/><stop offset="0.6588" stop-color="#0084ff"/><stop offset="0.6588" stop-color="#0097ff"/><stop offset="0.6706" stop-color="#0097ff"/><stop offset="0.6706" stop-color="#00abff"/><stop offset="0.6824" stop-color="#00abff"/><stop offset="0.6824" stop-color="#00beff"/><stop offset="0.6941" stop-color="#00beff"/><stop offset="0.6941" stop-color="#00d2ff"/><stop offset="0.7059" stop-color="#00d2ff"/><stop offset="0.7059" stop-color="#00e2f9"/><stop offset="0.7176" stop-color="#00e2f9"/><stop offset="0.7176" stop-color="#09f1ee"/><stop offset="0.7294" stop-color="#09f1ee"/><stop offset="0.7294" stop-color="#15ffe2"/><stop offset="0.7412" stop-color="#15ffe2"/><stop offset="0.7412" stop-color="#20ffd7"/><stop offset="0.7529" stop-color="#20ffd7"/><stop offset="0.7529" stop-color="#2cffcb"/><stop offset="0.7647" stop-color="#2cffcb"/><stop offset="0.7647" stop-color="#36ffc0"/><stop offset="0.7765" stop-color="#36ffc0"/><stop offset="0.7765" stop-color="#40ffb7"/><stop offset="0.7882" stop-color="#40ffb7"/><stop offset="0.7882" stop-color="#4affad"/><stop offset="0.8000" stop-color="#4affad"/><stop offset="0.8000" stop-color="#54ffa3"/><stop offset="0.8118" stop-color="#54ffa3"/><stop offset="0.8118" stop-color="#5eff99"/><stop offset="0.8235" stop-color="#5eff99"/><stop offset="0.8235" stop-color="#66ff91"/><stop offset="0.8353" stop-color="#66ff91"/><stop offset="0.8353" stop-color="#6dff8a"/><stop offset="0.8471" stop-color="#6dff8a"/><stop offset="0.8471" stop-color="#73ff84"/><stop offset="0.8588" stop-color="#73ff84"/><stop offset="0.8588" stop-color="#7aff7d"/><stop offset="0.8706" stop-color="#7aff7d"/><stop offset="0.8706" stop-color="#80ff76"/><stop offset="0.8824" stop-color="#80ff76"/><stop offset="0.8824" stop-color="#86ff71"/><stop offset="0.8941" stop-color="#86ff71"/><stop offset="0.8941" stop-color="#8bff6c"/><stop offset="0.9059" stop-color="#8bff6c"/><stop offset="0.9059" stop-color="#90ff67"/><stop offset="0.9176" stop-color="#90ff67"/><stop offset="0.9176" stop-color="#95ff62"/><stop offset="0.9294" stop-color="#95ff62"/><stop offset="0.9294" stop-color="#9aff5d"/><stop offset="0.9412" stop-color="#9aff5d"/><stop offset="0.9412" stop-color="#9eff59"/><stop offset="0.9529" stop-color="#9eff59"/><stop offset="0.9529" stop-color="#a1ff56"/><stop offset="0.9647" stop-color="#a1ff56"/><stop offset="0.9647" stop-color="#a5ff52"/><stop offset="0.9765" stop-color="#a5ff52"/><stop offset="0.9765" stop-color="#a8ff4f"/><stop offset="0.9882" stop-color="#a8ff4f"/><stop offset="0.9882" stop-color="#abff4c"/><stop offset="1.0000" stop-color="#abff4c"/></radialGradient>
<radialGradient id="g34" gradientUnits="userSpaceOnUse" cx="380.20" cy="332.90" r="266.50"><stop offset="0.5012" stop-color="#000085"/><stop offset="0.5059" stop-color="#000085"/><stop offset="0.5059" stop-color="#000098"/><stop offset="0.5176" stop-color="#000098"/><stop offset="0.5176" stop-color="#0000b7"/><stop offset="0.5294" stop-color="#0000b7"/><stop offset="0.5294" stop-color="#0000e7"/><stop offset="0.5412" stop-color="#0000e7"/><stop offset="0.5412" stop-color="#0000ff"/><stop offset="0.5529" stop-color="#0000ff"/><stop offset="0.5529" stop-color="#0008ff"/><stop offset="0.5647" stop-color="#0008ff"/><stop offset="0.5647" stop-color="#0017ff"/><stop offset="0.5765" stop-color="#0017ff"/><stop offset="0.5765" stop-color="#0026ff"/><stop offset="0.5882" stop-color="#0026ff"/><stop offset="0.5882" stop-color="#003aff"/><stop offset="0.6000" stop-color="#003aff"/><stop offset="0.6000" stop-color="#0051ff"/><stop offset="0.6118" stop-color="#0051ff"/><stop offset="0.6118" stop-color="#0069ff"/><stop offset="0.6235" stop-color="#0069ff"/><stop offset="0.6235" stop-color="#0080ff"/><stop offset="0.6353" stop-color="#0080ff"/><stop offset="0.6353" stop-color="#0097ff"/><stop offset="0.6471" stop-color="#0097ff"/><stop offset="0.6471" stop-color="#00adff"/><stop offset="0.6588" stop-color="#00adff"/><stop offset="0.6588" stop-color="#00c0ff"/><stop offset="0.6706" stop-color="#00c0ff"/><stop offset="0.6706" stop-color="#00d4ff"/><stop offset="0.6824" stop-color="#00d4ff"/><stop offset="0.6824" stop-color="#01e7f6"/><stop offset="0.6941" stop-color="#01e7f6"/><stop offset="0.6941" stop-color="#11fae6"/><stop offset="0.7059" stop-color="#11fae6"/><stop offset="0.7059" stop-color="#1effd8"/><stop offset="0.7176" stop-color="#1effd8"/><stop offset="0.7176" stop-color="#2affcd"/><stop offset="0.7294" stop-color="#2affcd"/><stop offset="0.7294" stop-color="#35ffc1"/><stop offset="0.7412" stop-color="#35ffc1"/><stop offset="0.7412" stop-color="#41ffb6"/><stop offset="0.7529" stop-color="#41ffb6"/><stop offset="0.7529" stop-color="#4dffaa"/><stop offset="0.7647" stop-color="#4dffaa"/><stop offset="0.7647" stop-color="#56ffa0"/><stop offset="0.7765" stop-color="#56ffa0"/><stop offset="0.7765" stop-color="#5fff98"/><stop offset="0.7882" stop-color="#5fff98"/><stop offset="0.7882" stop-color="#67ff90"/><stop offset="0.8000" stop-color="#67ff90"/><stop offset="0.8000" stop-color="#6fff88"/><stop offset="0.8118" stop-color="#6fff88"/><stop offset="0.8118" stop-color="#77ff80"/><stop offset="0.8235" stop-color="#77ff80"/><stop offset="0.8235" stop-color="#80ff77"/><stop offset="0.8353" stop-color="#80ff77"/><stop offset="0.8353" stop-color="#88ff6f"/><stop offset="0.8471" stop-color="#88ff6f"/><stop offset="0.8471" stop-color="#90ff67"/><stop offset="0.8588" stop-color="#90ff67"/><stop offset="0.8588" stop-color="#98ff5f"/><stop offset="0.8706" stop-color="#98ff5f"/><stop offset="0.8706" stop-color="#a0ff56"/><stop offset="0.8824" stop-color="#a0ff56"/><stop offset="0.8824" stop-color="#a7ff50"/><stop offset="0.8941" stop-color="#a7ff50"/><stop offset="0.8941" stop-color="#acff4b"/><stop offset="0.9059" stop-color="#acff4b"/><stop offset="0.9059" stop-color="#b1ff46"/><stop offset="0.9176" stop-color="#b1ff46"/><stop offset="0.9176" stop-color="#b6ff41"/><stop offset="0.9294" stop-color="#b6ff41"/><stop offset="0.9294" stop-color="#bbff3c"/><stop offset="0.9412" stop-color="#bbff3c"/><stop offset="0.9412" stop-color="#bfff38"/><stop offset="0.9529" stop-color="#bfff38"/><stop offset="0.9529" stop-color="#c2ff35"/><stop offset="0.9647" stop-color="#c2ff35"/><stop offset="0.9647" stop-color="#c5ff31"/><stop offset="0.9765" stop-color="#c5ff31"/><stop offset="0.9765" stop-color="#c9ff2e"/><stop offset="0.9882" stop-color="#c9ff2e"/><stop offset="0.9882" stop-color="#ccff2b"/><stop offset="1.0000" stop-color="#ccff2b"/></radialGradient>
<radialGradient id="g35" gradientUnits="userSpaceOnUse" cx="380.20" cy="332.90" r="266.50"><stop offset="0.4976" stop-color="#000089"/><stop offset="0.5059" stop-color="#000089"/><stop offset="0.5059" stop-color="#0000a0"/><stop offset="0.5176" stop-color="#0000a0"/><stop offset="0.5176" stop-color="#0000c9"/><stop offset="0.5294" stop-color="#0000c9"/><stop offset="0.5294" stop-color="#0000ff"/><stop offset="0.5412" stop-color="#0000ff"/><stop offset="0.5412" stop-color="#0005ff"/><stop offset="0.5529" stop-color="#0005ff"/><stop offset="0.5529" stop-color="#001aff"/><stop offset="0.5647" stop-color="#001aff"/><stop offset="0.5647" stop-color="#002eff"/><stop offset="0.5765" stop-color="#002eff"/><stop offset="0.5765" stop-color="#0042ff"/><stop offset="0.5882" stop-color="#0042ff"/><stop offset="0.5882" stop-color="#0059ff"/><stop offset="0.6000" stop-color="#0059ff"/><stop offset="0.6000" stop-color="#0071ff"/><stop offset="0.6118" stop-color="#0071ff"/><stop offset="0.6118" stop-color="#008aff"/><stop offset="0.6235" stop-color="#008aff"/><stop offset="0.6235" stop-color="#00a2ff"/><stop offset="0.6353" stop-color="#00a2ff"/><stop offset="0.6353" stop-color="#00bbff"/><stop offset="0.6471" stop-color="#00bbff"/><stop offset="0.6471" stop-color="#00d0ff"/><stop offset="0.6588" stop-color="#00d0ff"/><stop offset="0.6588" stop-color="#00e2f9"/><stop offset="0.6706" stop-color="#00e2f9"/><stop offset="0.6706" stop-color="#0cf5ea"/><stop offset="0.6824" stop-color="#0cf5ea"/><stop offset="0.6824" stop-color="#1bffdc"/><stop offset="0.6941" stop-color="#1bffdc"/><stop offset="0.6941" stop-color="#2affcd"/><stop offset="0.7059" stop-color="#2affcd"/><stop offset="0.7059" stop-color="#37ffc0"/><stop offset="0.7176" stop-color="#37ffc0"/><stop offset="0.7176" stop-color="#43ffb4"/><stop offset="0.7294" stop-color="#43ffb4"/><stop offset="0.7294" stop-color="#4effa9"/><stop offset="0.7412" stop-color="#4effa9"/><stop offset="0.7412" stop-color="#5aff9d"/><stop offset="0.7529" stop-color="#5aff9d"/><stop offset="0.7529" stop-color="#65ff92"/><stop offset="0.7647" stop-color="#65ff92"/><stop offset="0.7647" stop-color="#71ff86"/><stop offset="0.7765" stop-color="#71ff86"/><stop offset="0.7765" stop-color="#7cff7b"/><stop offset="0.7882" stop-color="#7cff7b"/><stop offset="0.7882" stop-color="#88ff6f"/><stop offset="0.8000" stop-color="#88ff6f"/><stop offset="0.8000" stop-color="#93ff64"/><stop offset="0.8118" stop-color="#93ff64"/><stop offset="0.8118" stop-color="#9fff58"/><stop offset="0.8235" stop-color="#9fff58"/><stop offset="0.8235" stop-color="#a9ff4d"/><stop offset="0.8353" stop-color="#a9ff4d"/><stop offset="0.8353" stop-color="#b3ff43"/><stop offset="0.8471" stop-color="#b3ff43"/><stop offset="0.8471" stop-color="#bdff3a"/><stop offset="0.8588" stop-color="#bdff3a"/><stop offset="0.8588" stop-color="#c7ff30"/><stop offset="0.8706" stop-color="#c7ff30"/><stop offset="0.8706" stop-color="#d1ff26"/><stop offset="0.8824" stop-color="#d1ff26"/><stop offset="0.8824" stop-color="#d9ff1e"/><stop offset="0.8941" stop-color="#d9ff1e"/><stop offset="0.8941" stop-color="#e0ff17"/><stop offset="0.9059" stop-color="#e0ff17"/><stop offset="0.9059" stop-color="#e6ff10"/><stop offset="0.9176" stop-color="#e6ff10"/><stop offset="0.9176" stop-color="#edff0a"/><stop offset="0.9294" stop-color="#edff0a"/><stop offset="0.9294" stop-color="#f3f903"/><stop offset="0.9412" stop-color="#f3f903"/><stop offset="0.9412" stop-color="#f8f500"/><stop offset="0.9529" stop-color="#f8f500"/><stop offset="0.9529" stop-color="#f9f300"/><stop offset="0.9647" stop-color="#f9f300"/><stop offset="0.9647" stop-color="#fbf100"/><stop offset="0.9765" stop-color="#fbf100"/><stop offset="0.9765" stop-color="#fdef00"/><stop offset="0.9882" stop-color="#fdef00"/><stop offset="0.9882" stop-color="#feed00"/><stop offset="1.0000" stop-color="#feed00"/></radialGradient>
<radialGradient id="g36" gradientUnits="userSpaceOnUse" cx="380.20" cy="332.90" r="266.50"><stop offset="0.4882" stop-color="#000088"/><stop offset="0.4941" stop-color="#000088"/><stop offset="0.4941" stop-color="#0000a1"/><stop offset="0.5059" stop-color="#0000a1"/><stop offset="0.5059" stop-color="#0000c2"/><stop offset="0.5176" stop-color="#0000c2"/><stop offset="0.5176" stop-color="#0000e3"/><stop offset="0.5294" stop-color="#0000e3"/><stop offset="0.5294" stop-color="#0000ff"/><stop offset="0.5412" stop-color="#0000ff"/><stop offset="0.5412" stop-color="#0017ff"/><stop offset="0.5529" stop-color="#0017ff"/><stop offset="0.5529" stop-color="#0038ff"/><stop offset="0.5647" stop-color="#0038ff"/><stop offset="0.5647" stop-color="#0059ff"/><stop offset="0.5765" stop-color="#0059ff"/><stop offset="0.5765" stop-color="#0079ff"/><stop offset="0.5882" stop-color="#0079ff"/><stop offset="0.5882" stop-color="#0096ff"/><stop offset="0.6000" stop-color="#0096ff"/><stop offset="0.6000" stop-color="#00aeff"/><stop offset="0.6118" stop-color="#00aeff"/><stop offset="0.6118" stop-color="#00c7ff"/><stop offset="0.6235" stop-color="#00c7ff"/><stop offset="0.6235" stop-color="#00dffc"/><stop offset="0.6353" stop-color="#00dffc"/><stop offset="0.6353" stop-color="#0ff8e8"/><stop offset="0.6471" stop-color="#0ff8e8"/><stop offset="0.6471" stop-color="#20ffd7"/><stop offset="0.6588" stop-color="#20ffd7"/><stop offset="0.6588" stop-color="#2fffc8"/><stop offset="0.6706" stop-color="#2fffc8"/><stop offset="0.6706" stop-color="#3effb9"/><stop offset="0.6824" stop-color="#3effb9"/><stop offset="0.6824" stop-color="#4dffaa"/><stop offset="0.6941" stop-color="#4dffaa"/><stop offset="0.6941" stop-color="#5bff9b"/><stop offset="0.7059" stop-color="#5bff9b"/><stop offset="0.7059" stop-color="#69ff8d"/><stop offset="0.7176" stop-color="#69ff8d"/><stop offset="0.7176" stop-color="#76ff80"/><stop offset="0.7294" stop-color="#76ff80"/><stop offset="0.7294" stop-color="#84ff73"/><stop offset="0.7412" stop-color="#84ff73"/><stop offset="0.7412" stop-color="#91ff66"/><stop offset="0.7529" stop-color="#91ff66"/><stop offset="0.7529" stop-color="#9eff59"/><stop offset="0.7647" stop-color="#9eff59"/><stop offset="0.7647" stop-color="#abff4c"/><stop offset="0.7765" stop-color="#abff4c"/><stop offset="0.7765" stop-color="#b8ff3f"/><stop offset="0.7882" stop-color="#b8ff3f"/><stop offset="0.7882" stop-color="#c5ff31"/><stop offset="0.8000" stop-color="#c5ff31"/><stop offset="0.8000" stop-color="#d3ff24"/><stop offset="0.8118" stop-color="#d3ff24"/><stop offset="0.8118" stop-color="#e0ff17"/><stop offset="0.8235" stop-color="#e0ff17"/><stop offset="0.8235" stop-color="#eaff0d"/><stop offset="0.8353" stop-color="#eaff0d"/><stop offset="0.8353" stop-color="#f1fc05"/><stop offset="0.8471" stop-color="#f1fc05"/><stop offset="0.8471" stop-color="#f9f300"/><stop offset="0.8588" stop-color="#f9f300"/><stop offset="0.8588" stop-color="#ffeb00"/><stop offset="0.8706" stop-color="#ffeb00"/><stop offset="0.8706" stop-color="#ffe200"/><stop offset="0.8824" stop-color="#ffe200"/><stop offset="0.8824" stop-color="#ffdd00"/><stop offset="0.8941" stop-color="#ffdd00"/><stop offset="0.8941" stop-color="#ffda00"/><stop offset="0.9059" stop-color="#ffda00"/><stop offset="0.9059" stop-color="#ffd700"/><stop offset="0.9176" stop-color="#ffd700"/><stop offset="0.9176" stop-color="#ffd400"/><stop offset="0.9294" stop-color="#ffd400"/><stop offset="0.9294" stop-color="#ffd100"/><stop offset="0.9412" stop-color="#ffd100"/><stop offset="0.9412" stop-color="#ffd000"/><stop offset="0.9529" stop-color="#ffd000"/><stop offset="0.9529" stop-color="#ffd100"/><stop offset="0.9647" stop-color="#ffd100"/><stop offset="0.9647" stop-color="#ffd200"/><stop offset="0.9765" stop-color="#ffd200"/><stop offset="0.9765" stop-color="#ffd300"/><stop offset="0.9882" stop-color="#ffd300"/><stop offset="0.9882" stop-color="#ffd400"/><stop offset="1.0000" stop-color="#ffd400"/></radialGradient>
<radialGradient id="g37" gradientUnits="userSpaceOnUse" cx="380.20" cy="332.90" r="266.50"><stop offset="0.4765" stop-color="#000088"/><stop offset="0.4824" stop-color="#000088"/><stop offset="0.4824" stop-color="#0000a1"/><stop offset="0.4941" stop-color="#0000a1"/><stop offset="0.4941" stop-color="#0000c2"/><stop offset="0.5059" stop-color="#0000c2"/><stop offset="0.5059" stop-color="#0000e3"/><stop offset="0.5176" stop-color="#0000e3"/><stop offset="0.5176" stop-color="#0000ff"/><stop offset="0.5294" stop-color="#0000ff"/><stop offset="0.5294" stop-color="#001fff"/><stop offset="0.5412" stop-color="#001fff"/><stop offset="0.5412" stop-color="#0044ff"/><stop offset="0.5529" stop-color="#0044ff"/><stop offset="0.5529" stop-color="#0069ff"/><stop offset="0.5647" stop-color="#0069ff"/><stop offset="0.5647" stop-color="#008fff"/><stop offset="0.5765" stop-color="#008fff"/><stop offset="0.5765" stop-color="#00b4ff"/><stop offset="0.5882" stop-color="#00b4ff"/><stop offset="0.5882" stop-color="#00d0ff"/><stop offset="0.6000" stop-color="#00d0ff"/><stop offset="0.6000" stop-color="#00e2f9"/><stop offset="0.6118" stop-color="#00e2f9"/><stop offset="0.6118" stop-color="#0cf5ea"/><stop offset="0.6235" stop-color="#0cf5ea"/><stop offset="0.6235" stop-color="#1bffdc"/><stop offset="0.6353" stop-color="#1bffdc"/><stop offset="0.6353" stop-color="#2affcd"/><stop offset="0.6471" stop-color="#2affcd"/><stop offset="0.6471" stop-color="#39ffbe"/><stop offset="0.6588" stop-color="#39ffbe"/><stop offset="0.6588" stop-color="#48ffaf"/><stop offset="0.6706" stop-color="#48ffaf"/><stop offset="0.6706" stop-color="#56ffa0"/><stop offset="0.6824" stop-color="#56ffa0"/><stop offset="0.6824" stop-color="#65ff92"/><stop offset="0.6941" stop-color="#65ff92"/><stop offset="0.6941" stop-color="#74ff83"/><stop offset="0.7059" stop-color="#74ff83"/><stop offset="0.7059" stop-color="#84ff72"/><stop offset="0.7176" stop-color="#84ff72"/><stop offset="0.7176" stop-color="#97ff60"/><stop offset="0.7294" stop-color="#97ff60"/><stop offset="0.7294" stop-color="#a9ff4e"/><stop offset="0.7412" stop-color="#a9ff4e"/><stop offset="0.7412" stop-color="#bbff3c"/><stop offset="0.7529" stop-color="#bbff3c"/><stop offset="0.7529" stop-color="#cdff2a"/><stop offset="0.7647" stop-color="#cdff2a"/><stop offset="0.7647" stop-color="#dbff1c"/><stop offset="0.7765" stop-color="#dbff1c"/><stop offset="0.7765" stop-color="#e5ff12"/><stop offset="0.7882" stop-color="#e5ff12"/><stop offset="0.7882" stop-color="#efff08"/><stop offset="0.8000" stop-color="#efff08"/><stop offset="0.8000" stop-color="#f8f400"/><stop offset="0.8118" stop-color="#f8f400"/><stop offset="0.8118" stop-color="#ffe800"/><stop offset="0.8235" stop-color="#ffe800"/><stop offset="0.8235" stop-color="#ffdf00"/><stop offset="0.8353" stop-color="#ffdf00"/><stop offset="0.8353" stop-color="#ffd800"/><stop offset="0.8471" stop-color="#ffd800"/><stop offset="0.8471" stop-color="#ffd100"/><stop offset="0.8588" stop-color="#ffd100"/><stop offset="0.8588" stop-color="#ffca00"/><stop offset="0.8706" stop-color="#ffca00"/><stop offset="0.8706" stop-color="#ffc600"/><stop offset="0.8824" stop-color="#ffc600"/><stop offset="0.8824" stop-color="#ffc400"/><stop offset="0.8941" stop-color="#ffc400"/><stop offset="0.8941" stop-color="#ffc200"/><stop offset="0.9176" stop-color="#ffc200"/><stop offset="0.9176" stop-color="#ffc400"/><stop offset="0.9294" stop-color="#ffc400"/><stop offset="0.9294" stop-color="#ffc600"/><stop offset="0.9412" stop-color="#ffc600"/><stop offset="0.9412" stop-color="#ffc700"/><stop offset="0.9529" stop-color="#ffc700"/><stop offset="0.9529" stop-color="#ffc900"/><stop offset="0.9647" stop-color="#ffc900"/><stop offset="0.9647" stop-color="#ffcb00"/><stop offset="0.9765" stop-color="#ffcb00"/><stop offset="0.9765" stop-color="#ffcd00"/><stop offset="0.9882" stop-color="#ffcd00"/><stop offset="0.9882" stop-color="#ffcf00"/><stop offset="1.0000" stop-color="#ffcf00"/></radialGradient>
<radialGradient id="g38" gradientUnits="userSpaceOnUse" cx="380.20" cy="332.90" r="266.50"><stop offset="0.4647" stop-color="#00008a"/><stop offset="0.4706" stop-color="#00008a"/><stop offset="0.4706" stop-color="#0000a8"/><stop offset="0.4824" stop-color="#0000a8"/><stop offset="0.4824" stop-color="#0000cf"/><stop offset="0.4941" stop-color="#0000cf"/><stop offset="0.4941" stop-color="#0000f3"/><stop offset="0.5059" stop-color="#0000f3"/><stop offset="0.5059" stop-color="#0007ff"/><stop offset="0.5176" stop-color="#0007ff"/><stop offset="0.5176" stop-color="#0028ff"/><stop offset="0.5294" stop-color="#0028ff"/><stop offset="0.5294" stop-color="#0056ff"/><stop offset="0.5412" stop-color="#0056ff"/><stop offset="0.5412" stop-color="#0085ff"/><stop offset="0.5529" stop-color="#0085ff"/><stop offset="0.5529" stop-color="#00adff"/><stop offset="0.5647" stop-color="#00adff"/><stop offset="0.5647" stop-color="#00cbff"/><stop offset="0.5765" stop-color="#00cbff"/><stop offset="0.5765" stop-color="#03eaf3"/><stop offset="0.5882" stop-color="#03eaf3"/><stop offset="0.5882" stop-color="#19ffdd"/><stop offset="0.6000" stop-color="#19ffdd"/><stop offset="0.6000" stop-color="#2cffca"/><stop offset="0.6118" stop-color="#2cffca"/><stop offset="0.6118" stop-color="#40ffb7"/><stop offset="0.6235" stop-color="#40ffb7"/><stop offset="0.6235" stop-color="#52ffa4"/><stop offset="0.6353" stop-color="#52ffa4"/><stop offset="0.6353" stop-color="#64ff92"/><stop offset="0.6471" stop-color="#64ff92"/><stop offset="0.6471" stop-color="#76ff80"/><stop offset="0.6588" stop-color="#76ff80"/><stop offset="0.6588" stop-color="#88ff6f"/><stop offset="0.6706" stop-color="#88ff6f"/><stop offset="0.6706" stop-color="#9dff5a"/><stop offset="0.6824" stop-color="#9dff5a"/><stop offset="0.6824" stop-color="#b1ff45"/><stop offset="0.6941" stop-color="#b1ff45"/><stop offset="0.6941" stop-color="#c8ff2e"/><stop offset="0.7059" stop-color="#c8ff2e"/><stop offset="0.7059" stop-color="#e2ff15"/><stop offset="0.7176" stop-color="#e2ff15"/><stop offset="0.7176" stop-color="#f6f701"/><stop offset="0.7294" stop-color="#f6f701"/><stop offset="0.7294" stop-color="#ffe600"/><stop offset="0.7412" stop-color="#ffe600"/><stop offset="0.7412" stop-color="#ffd700"/><stop offset="0.7529" stop-color="#ffd700"/><stop offset="0.7529" stop-color="#ffca00"/><stop offset="0.7647" stop-color="#ffca00"/><stop offset="0.7647" stop-color="#ffc300"/><stop offset="0.7765" stop-color="#ffc300"/><stop offset="0.7765" stop-color="#ffc200"/><stop offset="0.7882" stop-color="#ffc200"/><stop offset="0.7882" stop-color="#ffc400"/><stop offset="0.8000" stop-color="#ffc400"/><stop offset="0.8000" stop-color="#ffc700"/><stop offset="0.8118" stop-color="#ffc700"/><stop offset="0.8118" stop-color="#ffcb00"/><stop offset="0.8235" stop-color="#ffcb00"/><stop offset="0.8235" stop-color="#ffcd00"/><stop offset="0.8353" stop-color="#ffcd00"/><stop offset="0.8353" stop-color="#ffce00"/><stop offset="0.8588" stop-color="#ffce00"/><stop offset="0.8588" stop-color="#ffcf00"/><stop offset="0.8941" stop-color="#ffcf00"/><stop offset="0.8941" stop-color="#ffce00"/><stop offset="0.9059" stop-color="#ffce00"/><stop offset="0.9059" stop-color="#ffcc00"/><stop offset="0.9176" stop-color="#ffcc00"/><stop offset="0.9176" stop-color="#ffca00"/><stop offset="0.9294" stop-color="#ffca00"/><stop offset="0.9294" stop-color="#ffc900"/><stop offset="0.9529" stop-color="#ffc900"/><stop offset="0.9529" stop-color="#ffcc00"/><stop offset="0.9647" stop-color="#ffcc00"/><stop offset="0.9647" stop-color="#ffcf00"/><stop offset="0.9765" stop-color="#ffcf00"/><stop offset="0.9765" stop-color="#ffd100"/><stop offset="0.9882" stop-color="#ffd100"/><stop offset="0.9882" stop-color="#ffd500"/><stop offset="1.0000" stop-color="#ffd500"/></radialGradient>
<radialGradient id="g39" gradientUnits="userSpaceOnUse" cx="380.20" cy="332.90" r="266.50"><stop offset="0.4541" stop-color="#000089"/><stop offset="0.4588" stop-color="#000089"/><stop offset="0.4588" stop-color="#0000a9"/><stop offset="0.4706" stop-color="#0000a9"/><stop offset="0.4706" stop-color="#0000d5"/><stop offset="0.4824" stop-color="#0000d5"/><stop offset="0.4824" stop-color="#0000fd"/><stop offset="0.4941" stop-color="#0000fd"/><stop offset="0.4941" stop-color="#0015ff"/><stop offset="0.5059" stop-color="#0015ff"/><stop offset="0.5059" stop-color="#0040ff"/><stop offset="0.5176" stop-color="#0040ff"/><stop offset="0.5176" stop-color="#0076ff"/><stop offset="0.5294" stop-color="#0076ff"/><stop offset="0.5294" stop-color="#00a7ff"/><stop offset="0.5412" stop-color="#00a7ff"/><stop offset="0.5412" stop-color="#00c9ff"/><stop offset="0.5529" stop-color="#00c9ff"/><stop offset="0.5529" stop-color="#05ecf2"/><stop offset="0.5647" stop-color="#05ecf2"/><stop offset="0.5647" stop-color="#1dffda"/><stop offset="0.5765" stop-color="#1dffda"/><stop offset="0.5765" stop-color="#33ffc4"/><stop offset="0.5882" stop-color="#33ffc4"/><stop offset="0.5882" stop-color="#49ffae"/><stop offset="0.6000" stop-color="#49ffae"/><stop offset="0.6000" stop-color="#5dff9a"/><stop offset="0.6118" stop-color="#5dff9a"/><stop offset="0.6118" stop-color="#71ff85"/><stop offset="0.6235" stop-color="#71ff85"/><stop offset="0.6235" stop-color="#86ff71"/><stop offset="0.6353" stop-color="#86ff71"/><stop offset="0.6353" stop-color="#9cff5a"/><stop offset="0.6471" stop-color="#9cff5a"/><stop offset="0.6471" stop-color="#b4ff43"/><stop offset="0.6588" stop-color="#b4ff43"/><stop offset="0.6588" stop-color="#cfff28"/><stop offset="0.6706" stop-color="#cfff28"/><stop offset="0.6706" stop-color="#ecff0b"/><stop offset="0.6824" stop-color="#ecff0b"/><stop offset="0.6824" stop-color="#f9f300"/><stop offset="0.6941" stop-color="#f9f300"/><stop offset="0.6941" stop-color="#ffe500"/><stop offset="0.7059" stop-color="#ffe500"/><stop offset="0.7059" stop-color="#ffd900"/><stop offset="0.7176" stop-color="#ffd900"/><stop offset="0.7176" stop-color="#ffcf00"/><stop offset="0.7294" stop-color="#ffcf00"/><stop offset="0.7294" stop-color="#ffc600"/><stop offset="0.7412" stop-color="#ffc600"/><stop offset="0.7412" stop-color="#ffc000"/><stop offset="0.7647" stop-color="#ffc000"/><stop offset="0.7647" stop-color="#ffbf00"/><stop offset="0.7765" stop-color="#ffbf00"/><stop offset="0.7765" stop-color="#ffc200"/><stop offset="0.7882" stop-color="#ffc200"/><stop offset="0.7882" stop-color="#ffc900"/><stop offset="0.8000" stop-color="#ffc900"/><stop offset="0.8000" stop-color="#ffce00"/><stop offset="0.8118" stop-color="#ffce00"/><stop offset="0.8118" stop-color="#ffd000"/><stop offset="0.8353" stop-color="#ffd000"/><stop offset="0.8353" stop-color="#ffcd00"/><stop offset="0.8471" stop-color="#ffcd00"/><stop offset="0.8471" stop-color="#ffca00"/><stop offset="0.8588" stop-color="#ffca00"/><stop offset="0.8588" stop-color="#ffbe00"/><stop offset="0.8706" stop-color="#ffbe00"/><stop offset="0.8706" stop-color="#ffb300"/><stop offset="0.9294" stop-color="#ffb300"/><stop offset="0.9294" stop-color="#ffcb00"/><stop offset="0.9412" stop-color="#ffcb00"/><stop offset="0.9412" stop-color="#ffe500"/><stop offset="0.9529" stop-color="#ffe500"/><stop offset="0.9529" stop-color="#ffeb00"/><stop offset="0.9647" stop-color="#ffeb00"/><stop offset="0.9647" stop-color="#faf200"/><stop offset="0.9765" stop-color="#faf200"/><stop offset="0.9765" stop-color="#f3f903"/><stop offset="0.9882" stop-color="#f3f903"/><stop offset="0.9882" stop-color="#edff09"/><stop offset="1.0000" stop-color="#edff09"/></radialGradient>
<radialGradient id="g40" gradientUnits="userSpaceOnUse" cx="380.20" cy="332.90" r="266.50"><stop offset="0.4471" stop-color="#00009b"/><stop offset="0.4588" stop-color="#00009b"/><stop offset="0.4588" stop-color="#0000d0"/><stop offset="0.4706" stop-color="#0000d0"/><stop offset="0.4706" stop-color="#0000ff"/><stop offset="0.4824" stop-color="#0000ff"/><stop offset="0.4824" stop-color="#001eff"/><stop offset="0.4941" stop-color="#001eff"/><stop offset="0.4941" stop-color="#0058ff"/><stop offset="0.5059" stop-color="#0058ff"/><stop offset="0.5059" stop-color="#0098ff"/><stop offset="0.5176" stop-color="#0098ff"/><stop offset="0.5176" stop-color="#00c3ff"/><stop offset="0.5294" stop-color="#00c3ff"/><stop offset="0.5294" stop-color="#05ecf2"/><stop offset="0.5412" stop-color="#05ecf2"/><stop offset="0.5412" stop-color="#21ffd5"/><stop offset="0.5529" stop-color="#21ffd5"/><stop offset="0.5529" stop-color="#3bffbc"/><stop offset="0.5647" stop-color="#3bffbc"/><stop offset="0.5647" stop-color="#54ffa2"/><stop offset="0.5765" stop-color="#54ffa2"/><stop offset="0.5765" stop-color="#6dff8a"/><stop offset="0.5882" stop-color="#6dff8a"/><stop offset="0.5882" stop-color="#85ff72"/><stop offset="0.6000" stop-color="#85ff72"/><stop offset="0.6000" stop-color="#9fff57"/><stop offset="0.6118" stop-color="#9fff57"/><stop offset="0.6118" stop-color="#bcff3b"/><stop offset="0.6235" stop-color="#bcff3b"/><stop offset="0.6235" stop-color="#ddff19"/><stop offset="0.6353" stop-color="#ddff19"/><stop offset="0.6353" stop-color="#f6f701"/><stop offset="0.6471" stop-color="#f6f701"/><stop offset="0.6471" stop-color="#ffe600"/><stop offset="0.6588" stop-color="#ffe600"/><stop offset="0.6588" stop-color="#ffd900"/><stop offset="0.6706" stop-color="#ffd900"/><stop offset="0.6706" stop-color="#ffcf00"/><stop offset="0.6824" stop-color="#ffcf00"/><stop offset="0.6824" stop-color="#ffc500"/><stop offset="0.6941" stop-color="#ffc500"/><stop offset="0.6941" stop-color="#ffbe00"/><stop offset="0.7059" stop-color="#ffbe00"/><stop offset="0.7059" stop-color="#ffbb00"/><stop offset="0.7176" stop-color="#ffbb00"/><stop offset="0.7176" stop-color="#ffb700"/><stop offset="0.7294" stop-color="#ffb700"/><stop offset="0.7294" stop-color="#ffbf00"/><stop offset="0.7412" stop-color="#ffbf00"/><stop offset="0.7412" stop-color="#ffc700"/><stop offset="0.7529" stop-color="#ffc700"/><stop offset="0.7529" stop-color="#ffcc00"/><stop offset="0.7647" stop-color="#ffcc00"/><stop offset="0.7647" stop-color="#ffcf00"/><stop offset="0.7765" stop-color="#ffcf00"/><stop offset="0.7765" stop-color="#ffcd00"/><stop offset="0.7882" stop-color="#ffcd00"/><stop offset="0.7882" stop-color="#ffc700"/><stop offset="0.8000" stop-color="#ffc700"/><stop offset="0.8000" stop-color="#ffb800"/><stop offset="0.8118" stop-color="#ffb800"/><stop offset="0.8118" stop-color="#ffac00"/><stop offset="0.8824" stop-color="#ffac00"/><stop offset="0.8824" stop-color="#ffb900"/><stop offset="0.8941" stop-color="#ffb900"/><stop offset="0.8941" stop-color="#ffd700"/><stop offset="0.9059" stop-color="#ffd700"/><stop offset="0.9059" stop-color="#ffec00"/><stop offset="0.9176" stop-color="#ffec00"/><stop offset="0.9176" stop-color="#f7f600"/><stop offset="0.9294" stop-color="#f7f600"/><stop offset="0.9294" stop-color="#efff08"/><stop offset="0.9412" stop-color="#efff08"/><stop offset="0.9412" stop-color="#e9ff0d"/><stop offset="0.9529" stop-color="#e9ff0d"/><stop offset="0.9529" stop-color="#e7ff10"/><stop offset="0.9647" stop-color="#e7ff10"/><stop offset="0.9647" stop-color="#e5ff12"/><stop offset="0.9765" stop-color="#e5ff12"/><stop offset="0.9765" stop-color="#e3ff14"/><stop offset="0.9882" stop-color="#e3ff14"/><stop offset="0.9882" stop-color="#e1ff16"/><stop offset="1.0000" stop-color="#e1ff16"/></radialGradient>
<radialGradient id="g41" gradientUnits="userSpaceOnUse" cx="380.20" cy="332.90" r="266.50"><stop offset="0.4400" stop-color="#000091"/><stop offset="0.4471" stop-color="#000091"/><stop offset="0.4471" stop-color="#0000be"/><stop offset="0.4588" stop-color="#0000be"/><stop offset="0.4588" stop-color="#0000f2"/><stop offset="0.4706" stop-color="#0000f2"/><stop offset="0.4706" stop-color="#0014ff"/><stop offset="0.4824" stop-color="#0014ff"/><stop offset="0.4824" stop-color="#004cff"/><stop offset="0.4941" stop-color="#004cff"/><stop offset="0.4941" stop-color="#008fff"/><stop offset="0.5059" stop-color="#008fff"/><stop offset="0.5059" stop-color="#00c0ff"/><stop offset="0.5176" stop-color="#00c0ff"/><stop offset="0.5176" stop-color="#04ebf2"/><stop offset="0.5294" stop-color="#04ebf2"/><stop offset="0.5294" stop-color="#22ffd5"/><stop offset="0.5412" stop-color="#22ffd5"/><stop offset="0.5412" stop-color="#3dffba"/><stop offset="0.5529" stop-color="#3dffba"/><stop offset="0.5529" stop-color="#58ff9f"/><stop offset="0.5647" stop-color="#58ff9f"/><stop offset="0.5647" stop-color="#71ff86"/><stop offset="0.5765" stop-color="#71ff86"/><stop offset="0.5765" stop-color="#8aff6c"/><stop offset="0.5882" stop-color="#8aff6c"/><stop offset="0.5882" stop-color="#a8ff4f"/><stop offset="0.6000" stop-color="#a8ff4f"/><stop offset="0.6000" stop-color="#c7ff30"/><stop offset="0.6118" stop-color="#c7ff30"/><stop offset="0.6118" stop-color="#ebff0c"/><stop offset="0.6235" stop-color="#ebff0c"/><stop offset="0.6235" stop-color="#ffe300"/><stop offset="0.6353" stop-color="#ffe300"/><stop offset="0.6353" stop-color="#ffcc00"/><stop offset="0.6471" stop-color="#ffcc00"/><stop offset="0.6471" stop-color="#ffb800"/><stop offset="0.6588" stop-color="#ffb800"/><stop offset="0.6588" stop-color="#ffb600"/><stop offset="0.6706" stop-color="#ffb600"/><stop offset="0.6706" stop-color="#ffb400"/><stop offset="0.6824" stop-color="#ffb400"/><stop offset="0.6824" stop-color="#ffb900"/><stop offset="0.6941" stop-color="#ffb900"/><stop offset="0.6941" stop-color="#ffc400"/><stop offset="0.7059" stop-color="#ffc400"/><stop offset="0.7059" stop-color="#ffca00"/><stop offset="0.7176" stop-color="#ffca00"/><stop offset="0.7176" stop-color="#ffcc00"/><stop offset="0.7294" stop-color="#ffcc00"/><stop offset="0.7294" stop-color="#ffcd00"/><stop offset="0.7412" stop-color="#ffcd00"/><stop offset="0.7412" stop-color="#ffcb00"/><stop offset="0.7529" stop-color="#ffcb00"/><stop offset="0.7529" stop-color="#ffc700"/><stop offset="0.7647" stop-color="#ffc700"/><stop offset="0.7647" stop-color="#ffc200"/><stop offset="0.7765" stop-color="#ffc200"/><stop offset="0.7765" stop-color="#ffac00"/><stop offset="0.7882" stop-color="#ffac00"/><stop offset="0.7882" stop-color="#ffa100"/><stop offset="0.8471" stop-color="#ffa100"/><stop offset="0.8471" stop-color="#ffc600"/><stop offset="0.8588" stop-color="#ffc600"/><stop offset="0.8588" stop-color="#ffe700"/><stop offset="0.8706" stop-color="#ffe700"/><stop offset="0.8706" stop-color="#fdef00"/><stop offset="0.8824" stop-color="#fdef00"/><stop offset="0.8824" stop-color="#f6f701"/><stop offset="0.8941" stop-color="#f6f701"/><stop offset="0.8941" stop-color="#effe07"/><stop offset="0.9059" stop-color="#effe07"/><stop offset="0.9059" stop-color="#ebff0c"/><stop offset="0.9176" stop-color="#ebff0c"/><stop offset="0.9176" stop-color="#e9ff0d"/><stop offset="0.9294" stop-color="#e9ff0d"/><stop offset="0.9294" stop-color="#e8ff0f"/><stop offset="0.9412" stop-color="#e8ff0f"/><stop offset="0.9412" stop-color="#e6ff11"/><stop offset="0.9529" stop-color="#e6ff11"/><stop offset="0.9529" stop-color="#e4ff13"/><stop offset="0.9647" stop-color="#e4ff13"/><stop offset="0.9647" stop-color="#e2ff14"/><stop offset="0.9765" stop-color="#e2ff14"/><stop offset="0.9765" stop-color="#e1ff16"/><stop offset="0.9882" stop-color="#e1ff16"/><stop offset="0.9882" stop-color="#dfff18"/><stop offset="1.0000" stop-color="#dfff18"/></radialGradient>
<radialGradient id="g42" gradientUnits="userSpaceOnUse" cx="380.20" cy="332.90" r="266.50"><stop offset="0.4353" stop-color="#0000a4"/><stop offset="0.4471" stop-color="#0000a4"/><stop offset="0.4471" stop-color="#0000df"/><stop offset="0.4588" stop-color="#0000df"/><stop offset="0.4588" stop-color="#0005ff"/><stop offset="0.4706" stop-color="#0005ff"/><stop offset="0.4706" stop-color="#003eff"/><stop offset="0.4824" stop-color="#003eff"/><stop offset="0.4824" stop-color="#0086ff"/><stop offset="0.4941" stop-color="#0086ff"/><stop offset="0.4941" stop-color="#00bdff"/><stop offset="0.5059" stop-color="#00bdff"/><stop offset="0.5059" stop-color="#05ecf2"/><stop offset="0.5176" stop-color="#05ecf2"/><stop offset="0.5176" stop-color="#25ffd2"/><stop offset="0.5294" stop-color="#25ffd2"/><stop offset="0.5294" stop-color="#42ffb5"/><stop offset="0.5412" stop-color="#42ffb5"/><stop offset="0.5412" stop-color="#5eff99"/><stop offset="0.5529" stop-color="#5eff99"/><stop offset="0.5529" stop-color="#79ff7e"/><stop offset="0.5647" stop-color="#79ff7e"/><stop offset="0.5647" stop-color="#96ff61"/><stop offset="0.5765" stop-color="#96ff61"/><stop offset="0.5765" stop-color="#b6ff41"/><stop offset="0.5882" stop-color="#b6ff41"/><stop offset="0.5882" stop-color="#dbff1c"/><stop offset="0.6000" stop-color="#dbff1c"/><stop offset="0.6000" stop-color="#ffe700"/><stop offset="0.6118" stop-color="#ffe700"/><stop offset="0.6118" stop-color="#ffc300"/><stop offset="0.6235" stop-color="#ffc300"/><stop offset="0.6235" stop-color="#ffb900"/><stop offset="0.6353" stop-color="#ffb900"/><stop offset="0.6353" stop-color="#ffb300"/><stop offset="0.6471" stop-color="#ffb300"/><stop offset="0.6471" stop-color="#ffb100"/><stop offset="0.6588" stop-color="#ffb100"/><stop offset="0.6588" stop-color="#ffaf00"/><stop offset="0.6706" stop-color="#ffaf00"/><stop offset="0.6706" stop-color="#ffbb00"/><stop offset="0.6824" stop-color="#ffbb00"/><stop offset="0.6824" stop-color="#ffc600"/><stop offset="0.6941" stop-color="#ffc600"/><stop offset="0.6941" stop-color="#ffc800"/><stop offset="0.7059" stop-color="#ffc800"/><stop offset="0.7059" stop-color="#ffca00"/><stop offset="0.7176" stop-color="#ffca00"/><stop offset="0.7176" stop-color="#ffc600"/><stop offset="0.7294" stop-color="#ffc600"/><stop offset="0.7294" stop-color="#ffbb00"/><stop offset="0.7412" stop-color="#ffbb00"/><stop offset="0.7412" stop-color="#ff9900"/><stop offset="0.8000" stop-color="#ff9900"/><stop offset="0.8000" stop-color="#ffc600"/><stop offset="0.8118" stop-color="#ffc600"/><stop offset="0.8118" stop-color="#ffe700"/><stop offset="0.8235" stop-color="#ffe700"/><stop offset="0.8235" stop-color="#fdef00"/><stop offset="0.8353" stop-color="#fdef00"/><stop offset="0.8353" stop-color="#f6f601"/><stop offset="0.8471" stop-color="#f6f601"/><stop offset="0.8471" stop-color="#effe07"/><stop offset="0.8588" stop-color="#effe07"/><stop offset="0.8588" stop-color="#ebff0b"/><stop offset="0.8706" stop-color="#ebff0b"/><stop offset="0.8706" stop-color="#eaff0c"/><stop offset="0.8824" stop-color="#eaff0c"/><stop offset="0.8824" stop-color="#e9ff0e"/><stop offset="0.8941" stop-color="#e9ff0e"/><stop offset="0.8941" stop-color="#e8ff0f"/><stop offset="0.9059" stop-color="#e8ff0f"/><stop offset="0.9059" stop-color="#e7ff10"/><stop offset="0.9176" stop-color="#e7ff10"/><stop offset="0.9176" stop-color="#e6ff11"/><stop offset="0.9294" stop-color="#e6ff11"/><stop offset="0.9294" stop-color="#e5ff12"/><stop offset="0.9412" stop-color="#e5ff12"/><stop offset="0.9412" stop-color="#e3ff13"/><stop offset="0.9529" stop-color="#e3ff13"/><stop offset="0.9529" stop-color="#e2ff15"/><stop offset="0.9647" stop-color="#e2ff15"/><stop offset="0.9647" stop-color="#e1ff16"/><stop offset="0.9765" stop-color="#e1ff16"/><stop offset="0.9765" stop-color="#e0ff17"/><stop offset="0.9882" stop-color="#e0ff17"/><stop offset="0.9882" stop-color="#dfff18"/><stop offset="1.0000" stop-color="#dfff18"/></radialGradient>
<radialGradient id="g43" gradientUnits="userSpaceOnUse" cx="380.20" cy="332.90" r="266.50"><stop offset="0.4318" stop-color="#000089"/><stop offset="0.4353" stop-color="#000089"/><stop offset="0.4353" stop-color="#0000b0"/><stop offset="0.4471" stop-color="#0000b0"/><stop offset="0.4471" stop-color="#0000e9"/><stop offset="0.4588" stop-color="#0000e9"/><stop offset="0.4588" stop-color="#000fff"/><stop offset="0.4706" stop-color="#000fff"/><stop offset="0.4706" stop-color="#004aff"/><stop offset="0.4824" stop-color="#004aff"/><stop offset="0.4824" stop-color="#0092ff"/><stop offset="0.4941" stop-color="#0092ff"/><stop offset="0.4941" stop-color="#00c4ff"/><stop offset="0.5059" stop-color="#00c4ff"/><stop offset="0.5059" stop-color="#0bf3ec"/><stop offset="0.5176" stop-color="#0bf3ec"/><stop offset="0.5176" stop-color="#29ffce"/><stop offset="0.5294" stop-color="#29ffce"/><stop offset="0.5294" stop-color="#46ffb1"/><stop offset="0.5412" stop-color="#46ffb1"/><stop offset="0.5412" stop-color="#61ff95"/><stop offset="0.5529" stop-color="#61ff95"/><stop offset="0.5529" stop-color="#7dff7a"/><stop offset="0.5647" stop-color="#7dff7a"/><stop offset="0.5647" stop-color="#9aff5d"/><stop offset="0.5765" stop-color="#9aff5d"/><stop offset="0.5765" stop-color="#b9ff3d"/><stop offset="0.5882" stop-color="#b9ff3d"/><stop offset="0.5882" stop-color="#dfff18"/><stop offset="0.6000" stop-color="#dfff18"/><stop offset="0.6000" stop-color="#ffe000"/><stop offset="0.6118" stop-color="#ffe000"/><stop offset="0.6118" stop-color="#ffc200"/><stop offset="0.6235" stop-color="#ffc200"/><stop offset="0.6235" stop-color="#ffb700"/><stop offset="0.6353" stop-color="#ffb700"/><stop offset="0.6353" stop-color="#ffb500"/><stop offset="0.6471" stop-color="#ffb500"/><stop offset="0.6471" stop-color="#ffb300"/><stop offset="0.6588" stop-color="#ffb300"/><stop offset="0.6588" stop-color="#ffb200"/><stop offset="0.6706" stop-color="#ffb200"/><stop offset="0.6706" stop-color="#ffbc00"/><stop offset="0.6824" stop-color="#ffbc00"/><stop offset="0.6824" stop-color="#ffc100"/><stop offset="0.6941" stop-color="#ffc100"/><stop offset="0.6941" stop-color="#ffbf00"/><stop offset="0.7059" stop-color="#ffbf00"/><stop offset="0.7059" stop-color="#ffbe00"/><stop offset="0.7176" stop-color="#ffbe00"/><stop offset="0.7176" stop-color="#ff9900"/><stop offset="0.7294" stop-color="#ff9900"/><stop offset="0.7294" stop-color="#ff9200"/><stop offset="0.7529" stop-color="#ff9200"/><stop offset="0.7529" stop-color="#ffa100"/><stop offset="0.7647" stop-color="#ffa100"/><stop offset="0.7647" stop-color="#ffd700"/><stop offset="0.7765" stop-color="#ffd700"/><stop offset="0.7765" stop-color="#ffeb00"/><stop offset="0.7882" stop-color="#ffeb00"/><stop offset="0.7882" stop-color="#faf100"/><stop offset="0.8000" stop-color="#faf100"/><stop offset="0.8000" stop-color="#f5f802"/><stop offset="0.8118" stop-color="#f5f802"/><stop offset="0.8118" stop-color="#efff08"/><stop offset="0.8235" stop-color="#efff08"/><stop offset="0.8235" stop-color="#ebff0c"/><stop offset="0.8353" stop-color="#ebff0c"/><stop offset="0.8353" stop-color="#eaff0d"/><stop offset="0.8471" stop-color="#eaff0d"/><stop offset="0.8471" stop-color="#e8ff0f"/><stop offset="0.8588" stop-color="#e8ff0f"/><stop offset="0.8588" stop-color="#e6ff10"/><stop offset="0.8706" stop-color="#e6ff10"/><stop offset="0.8706" stop-color="#e5ff12"/><stop offset="0.8824" stop-color="#e5ff12"/><stop offset="0.8824" stop-color="#e3ff14"/><stop offset="0.8941" stop-color="#e3ff14"/><stop offset="0.8941" stop-color="#e2ff15"/><stop offset="0.9059" stop-color="#e2ff15"/><stop offset="0.9059" stop-color="#e1ff16"/><stop offset="0.9176" stop-color="#e1ff16"/><stop offset="0.9176" stop-color="#e0ff17"/><stop offset="0.9294" stop-color="#e0ff17"/><stop offset="0.9294" stop-color="#dfff18"/><stop offset="0.9412" stop-color="#dfff18"/><stop offset="0.9412" stop-color="#deff19"/><stop offset="0.9529" stop-color="#deff19"/><stop offset="0.9529" stop-color="#ddff1a"/><stop offset="0.9647" stop-color="#ddff1a"/><stop offset="0.9647" stop-color="#dcff1b"/><stop offset="0.9765" stop-color="#dcff1b"/><stop offset="0.9765" stop-color="#dbff1b"/><stop offset="0.9882" stop-color="#dbff1b"/><stop offset="0.9882" stop-color="#daff1c"/><stop offset="1.0000" stop-color="#daff1c"/></radialGradient>
<radialGradient id="g44" gradientUnits="userSpaceOnUse" cx="380.20" cy="332.90" r="266.50"><stop offset="0.4282" stop-color="#000092"/><stop offset="0.4353" stop-color="#000092"/><stop offset="0.4353" stop-color="#0000c2"/><stop offset="0.4471" stop-color="#0000c2"/><stop offset="0.4471" stop-color="#0000f9"/><stop offset="0.4588" stop-color="#0000f9"/><stop offset="0.4588" stop-color="#001dff"/><stop offset="0.4706" stop-color="#001dff"/><stop offset="0.4706" stop-color="#005eff"/><stop offset="0.4824" stop-color="#005eff"/><stop offset="0.4824" stop-color="#00a2ff"/><stop offset="0.4941" stop-color="#00a2ff"/><stop offset="0.4941" stop-color="#00d0ff"/><stop offset="0.5059" stop-color="#00d0ff"/><stop offset="0.5059" stop-color="#13fde4"/><stop offset="0.5176" stop-color="#13fde4"/><stop offset="0.5176" stop-color="#30ffc7"/><stop offset="0.5294" stop-color="#30ffc7"/><stop offset="0.5294" stop-color="#4dffaa"/><stop offset="0.5412" stop-color="#4dffaa"/><stop offset="0.5412" stop-color="#68ff8f"/><stop offset="0.5529" stop-color="#68ff8f"/><stop offset="0.5529" stop-color="#83ff74"/><stop offset="0.5647" stop-color="#83ff74"/><stop offset="0.5647" stop-color="#a1ff56"/><stop offset="0.5765" stop-color="#a1ff56"/><stop offset="0.5765" stop-color="#c1ff36"/><stop offset="0.5882" stop-color="#c1ff36"/><stop offset="0.5882" stop-color="#e7ff10"/><stop offset="0.6000" stop-color="#e7ff10"/><stop offset="0.6000" stop-color="#ffe000"/><stop offset="0.6118" stop-color="#ffe000"/><stop offset="0.6118" stop-color="#ffcc00"/><stop offset="0.6235" stop-color="#ffcc00"/><stop offset="0.6235" stop-color="#ffc100"/><stop offset="0.6353" stop-color="#ffc100"/><stop offset="0.6353" stop-color="#ffba00"/><stop offset="0.6471" stop-color="#ffba00"/><stop offset="0.6471" stop-color="#ffb800"/><stop offset="0.6588" stop-color="#ffb800"/><stop offset="0.6588" stop-color="#ffb600"/><stop offset="0.6706" stop-color="#ffb600"/><stop offset="0.6706" stop-color="#ffb400"/><stop offset="0.6824" stop-color="#ffb400"/><stop offset="0.6824" stop-color="#ffb300"/><stop offset="0.6941" stop-color="#ffb300"/><stop offset="0.6941" stop-color="#ff8e00"/><stop offset="0.7294" stop-color="#ff8e00"/><stop offset="0.7294" stop-color="#ffb600"/><stop offset="0.7412" stop-color="#ffb600"/><stop offset="0.7412" stop-color="#ffe400"/><stop offset="0.7529" stop-color="#ffe400"/><stop offset="0.7529" stop-color="#feee00"/><stop offset="0.7647" stop-color="#feee00"/><stop offset="0.7647" stop-color="#f8f500"/><stop offset="0.7765" stop-color="#f8f500"/><stop offset="0.7765" stop-color="#f2fc05"/><stop offset="0.7882" stop-color="#f2fc05"/><stop offset="0.7882" stop-color="#eeff09"/><stop offset="0.8000" stop-color="#eeff09"/><stop offset="0.8000" stop-color="#ebff0b"/><stop offset="0.8118" stop-color="#ebff0b"/><stop offset="0.8118" stop-color="#e9ff0d"/><stop offset="0.8235" stop-color="#e9ff0d"/><stop offset="0.8235" stop-color="#e7ff0f"/><stop offset="0.8353" stop-color="#e7ff0f"/><stop offset="0.8353" stop-color="#e5ff11"/><stop offset="0.8471" stop-color="#e5ff11"/><stop offset="0.8471" stop-color="#e3ff14"/><stop offset="0.8588" stop-color="#e3ff14"/><stop offset="0.8588" stop-color="#e2ff15"/><stop offset="0.8706" stop-color="#e2ff15"/><stop offset="0.8706" stop-color="#e1ff16"/><stop offset="0.8824" stop-color="#e1ff16"/><stop offset="0.8824" stop-color="#e0ff16"/><stop offset="0.8941" stop-color="#e0ff16"/><stop offset="0.8941" stop-color="#e0ff17"/><stop offset="0.9059" stop-color="#e0ff17"/><stop offset="0.9059" stop-color="#dfff18"/><stop offset="0.9176" stop-color="#dfff18"/><stop offset="0.9176" stop-color="#deff18"/><stop offset="0.9294" stop-color="#deff18"/><stop offset="0.9294" stop-color="#deff19"/><stop offset="0.9412" stop-color="#deff19"/><stop offset="0.9412" stop-color="#ddff1a"/><stop offset="0.9529" stop-color="#ddff1a"/><stop offset="0.9529" stop-color="#dcff1a"/><stop offset="0.9647" stop-color="#dcff1a"/><stop offset="0.9647" stop-color="#dcff1b"/><stop offset="0.9765" stop-color="#dcff1b"/><stop offset="0.9765" stop-color="#dbff1c"/><stop offset="0.9882" stop-color="#dbff1c"/><stop offset="0.9882" stop-color="#daff1c"/><stop offset="1.0000" stop-color="#daff1c"/></radialGradient>
<radialGradient id="g45" gradientUnits="userSpaceOnUse" cx="380.20" cy="332.90" r="266.50"><stop offset="0.4259" stop-color="#000098"/><stop offset="0.4353" stop-color="#000098"/><stop offset="0.4353" stop-color="#0000ce"/><stop offset="0.4471" stop-color="#0000ce"/><stop offset="0.4471" stop-color="#0000ff"/><stop offset="0.4588" stop-color="#0000ff"/><stop offset="0.4588" stop-color="#0028ff"/><stop offset="0.4706" stop-color="#0028ff"/><stop offset="0.4706" stop-color="#006eff"/><stop offset="0.4824" stop-color="#006eff"/><stop offset="0.4824" stop-color="#00adff"/><stop offset="0.4941" stop-color="#00adff"/><stop offset="0.4941" stop-color="#00dcff"/><stop offset="0.5059" stop-color="#00dcff"/><stop offset="0.5059" stop-color="#1affdc"/><stop offset="0.5176" stop-color="#1affdc"/><stop offset="0.5176" stop-color="#37ffbf"/><stop offset="0.5294" stop-color="#37ffbf"/><stop offset="0.5294" stop-color="#54ffa3"/><stop offset="0.5412" stop-color="#54ffa3"/><stop offset="0.5412" stop-color="#6fff88"/><stop offset="0.5529" stop-color="#6fff88"/><stop offset="0.5529" stop-color="#8aff6d"/><stop offset="0.5647" stop-color="#8aff6d"/><stop offset="0.5647" stop-color="#aaff4d"/><stop offset="0.5765" stop-color="#aaff4d"/><stop offset="0.5765" stop-color="#ccff2b"/><stop offset="0.5882" stop-color="#ccff2b"/><stop offset="0.5882" stop-color="#f1fc05"/><stop offset="0.6000" stop-color="#f1fc05"/><stop offset="0.6000" stop-color="#ffdc00"/><stop offset="0.6118" stop-color="#ffdc00"/><stop offset="0.6118" stop-color="#ffce00"/><stop offset="0.6235" stop-color="#ffce00"/><stop offset="0.6235" stop-color="#ffc400"/><stop offset="0.6353" stop-color="#ffc400"/><stop offset="0.6353" stop-color="#ffbe00"/><stop offset="0.6471" stop-color="#ffbe00"/><stop offset="0.6471" stop-color="#ffb800"/><stop offset="0.6588" stop-color="#ffb800"/><stop offset="0.6588" stop-color="#ffac00"/><stop offset="0.6706" stop-color="#ffac00"/><stop offset="0.6706" stop-color="#ff8e00"/><stop offset="0.7059" stop-color="#ff8e00"/><stop offset="0.7059" stop-color="#ffa500"/><stop offset="0.7176" stop-color="#ffa500"/><stop offset="0.7176" stop-color="#ffd200"/><stop offset="0.7294" stop-color="#ffd200"/><stop offset="0.7294" stop-color="#ffea00"/><stop offset="0.7412" stop-color="#ffea00"/><stop offset="0.7412" stop-color="#faf200"/><stop offset="0.7529" stop-color="#faf200"/><stop offset="0.7529" stop-color="#f2fb05"/><stop offset="0.7647" stop-color="#f2fb05"/><stop offset="0.7647" stop-color="#edff09"/><stop offset="0.7765" stop-color="#edff09"/><stop offset="0.7765" stop-color="#ebff0c"/><stop offset="0.7882" stop-color="#ebff0c"/><stop offset="0.7882" stop-color="#e8ff0e"/><stop offset="0.8000" stop-color="#e8ff0e"/><stop offset="0.8000" stop-color="#e6ff11"/><stop offset="0.8118" stop-color="#e6ff11"/><stop offset="0.8118" stop-color="#e3ff13"/><stop offset="0.8235" stop-color="#e3ff13"/><stop offset="0.8235" stop-color="#e2ff15"/><stop offset="0.8353" stop-color="#e2ff15"/><stop offset="0.8353" stop-color="#e1ff15"/><stop offset="0.8471" stop-color="#e1ff15"/><stop offset="0.8471" stop-color="#e1ff16"/><stop offset="0.8588" stop-color="#e1ff16"/><stop offset="0.8588" stop-color="#e0ff16"/><stop offset="0.8706" stop-color="#e0ff16"/><stop offset="0.8706" stop-color="#e0ff17"/><stop offset="0.8824" stop-color="#e0ff17"/><stop offset="0.8824" stop-color="#dfff18"/><stop offset="0.9059" stop-color="#dfff18"/><stop offset="0.9059" stop-color="#deff19"/><stop offset="0.9294" stop-color="#deff19"/><stop offset="0.9294" stop-color="#ddff1a"/><stop offset="0.9412" stop-color="#ddff1a"/><stop offset="0.9412" stop-color="#dcff1a"/><stop offset="0.9529" stop-color="#dcff1a"/><stop offset="0.9529" stop-color="#dcff1b"/><stop offset="0.9647" stop-color="#dcff1b"/><stop offset="0.9647" stop-color="#dbff1b"/><stop offset="0.9765" stop-color="#dbff1b"/><stop offset="0.9765" stop-color="#dbff1c"/><stop offset="0.9882" stop-color="#dbff1c"/><stop offset="0.9882" stop-color="#daff1d"/><stop offset="1.0000" stop-color="#daff1d"/></radialGradient>
<radialGradient id="g46" gradientUnits="userSpaceOnUse" cx="380.20" cy="332.90" r="266.50"><stop offset="0.4165" stop-color="#000097"/><stop offset="0.4235" stop-color="#000097"/><stop offset="0.4235" stop-color="#0000d7"/><stop offset="0.4353" stop-color="#0000d7"/><stop offset="0.4353" stop-color="#000cff"/><stop offset="0.4471" stop-color="#000cff"/><stop offset="0.4471" stop-color="#0040ff"/><stop offset="0.4588" stop-color="#0040ff"/><stop offset="0.4588" stop-color="#0071ff"/><stop offset="0.4706" stop-color="#0071ff"/><stop offset="0.4706" stop-color="#00a2ff"/><stop offset="0.4824" stop-color="#00a2ff"/><stop offset="0.4824" stop-color="#00cbff"/><stop offset="0.4941" stop-color="#00cbff"/><stop offset="0.4941" stop-color="#0bf3ec"/><stop offset="0.5059" stop-color="#0bf3ec"/><stop offset="0.5059" stop-color="#2bffcc"/><stop offset="0.5176" stop-color="#2bffcc"/><stop offset="0.5176" stop-color="#4bffac"/><stop offset="0.5294" stop-color="#4bffac"/><stop offset="0.5294" stop-color="#6aff8d"/><stop offset="0.5412" stop-color="#6aff8d"/><stop offset="0.5412" stop-color="#86ff71"/><stop offset="0.5529" stop-color="#86ff71"/><stop offset="0.5529" stop-color="#a5ff52"/><stop offset="0.5647" stop-color="#a5ff52"/><stop offset="0.5647" stop-color="#c6ff31"/><stop offset="0.5765" stop-color="#c6ff31"/><stop offset="0.5765" stop-color="#e9ff0e"/><stop offset="0.5882" stop-color="#e9ff0e"/><stop offset="0.5882" stop-color="#fcef00"/><stop offset="0.6000" stop-color="#fcef00"/><stop offset="0.6000" stop-color="#ffe500"/><stop offset="0.6118" stop-color="#ffe500"/><stop offset="0.6118" stop-color="#ffd900"/><stop offset="0.6235" stop-color="#ffd900"/><stop offset="0.6235" stop-color="#ffcb00"/><stop offset="0.6353" stop-color="#ffcb00"/><stop offset="0.6353" stop-color="#ffbc00"/><stop offset="0.6471" stop-color="#ffbc00"/><stop offset="0.6471" stop-color="#ffa100"/><stop offset="0.6588" stop-color="#ffa100"/><stop offset="0.6588" stop-color="#ff8e00"/><stop offset="0.6824" stop-color="#ff8e00"/><stop offset="0.6824" stop-color="#ffd000"/><stop offset="0.6941" stop-color="#ffd000"/><stop offset="0.6941" stop-color="#fdef00"/><stop offset="0.7059" stop-color="#fdef00"/><stop offset="0.7059" stop-color="#f7f600"/><stop offset="0.7176" stop-color="#f7f600"/><stop offset="0.7176" stop-color="#f1fd06"/><stop offset="0.7294" stop-color="#f1fd06"/><stop offset="0.7294" stop-color="#ebff0c"/><stop offset="0.7412" stop-color="#ebff0c"/><stop offset="0.7412" stop-color="#e9ff0e"/><stop offset="0.7529" stop-color="#e9ff0e"/><stop offset="0.7529" stop-color="#e7ff10"/><stop offset="0.7647" stop-color="#e7ff10"/><stop offset="0.7647" stop-color="#e5ff11"/><stop offset="0.7765" stop-color="#e5ff11"/><stop offset="0.7765" stop-color="#e3ff13"/><stop offset="0.7882" stop-color="#e3ff13"/><stop offset="0.7882" stop-color="#e2ff15"/><stop offset="0.8000" stop-color="#e2ff15"/><stop offset="0.8000" stop-color="#e0ff17"/><stop offset="0.8118" stop-color="#e0ff17"/><stop offset="0.8118" stop-color="#deff18"/><stop offset="0.8235" stop-color="#deff18"/><stop offset="0.8235" stop-color="#deff19"/><stop offset="0.8353" stop-color="#deff19"/><stop offset="0.8353" stop-color="#ddff1a"/><stop offset="0.8471" stop-color="#ddff1a"/><stop offset="0.8471" stop-color="#dcff1a"/><stop offset="0.8588" stop-color="#dcff1a"/><stop offset="0.8588" stop-color="#dcff1b"/><stop offset="0.8824" stop-color="#dcff1b"/><stop offset="0.8824" stop-color="#dbff1b"/><stop offset="0.8941" stop-color="#dbff1b"/><stop offset="0.8941" stop-color="#dbff1c"/><stop offset="0.9176" stop-color="#dbff1c"/><stop offset="0.9176" stop-color="#daff1c"/><stop offset="0.9294" stop-color="#daff1c"/><stop offset="0.9294" stop-color="#daff1d"/><stop offset="0.9529" stop-color="#daff1d"/><stop offset="0.9529" stop-color="#d9ff1e"/><stop offset="0.9765" stop-color="#d9ff1e"/><stop offset="0.9765" stop-color="#d8ff1f"/><stop offset="1.0000" stop-color="#d8ff1f"/></radialGradient>
<radialGradient id="g47" gradientUnits="userSpaceOnUse" cx="380.20" cy="332.90" r="266.50"><stop offset="0.4059" stop-color="#000096"/><stop offset="0.4118" stop-color="#000096"/><stop offset="0.4118" stop-color="#0000d9"/><stop offset="0.4235" stop-color="#0000d9"/><stop offset="0.4235" stop-color="#0014ff"/><stop offset="0.4353" stop-color="#0014ff"/><stop offset="0.4353" stop-color="#004cff"/><stop offset="0.4471" stop-color="#004cff"/><stop offset="0.4471" stop-color="#0083ff"/><stop offset="0.4588" stop-color="#0083ff"/><stop offset="0.4588" stop-color="#00b6ff"/><stop offset="0.4706" stop-color="#00b6ff"/><stop offset="0.4706" stop-color="#00e3f9"/><stop offset="0.4824" stop-color="#00e3f9"/><stop offset="0.4824" stop-color="#21ffd5"/><stop offset="0.4941" stop-color="#21ffd5"/><stop offset="0.4941" stop-color="#46ffb1"/><stop offset="0.5059" stop-color="#46ffb1"/><stop offset="0.5059" stop-color="#68ff8f"/><stop offset="0.5176" stop-color="#68ff8f"/><stop offset="0.5176" stop-color="#87ff6f"/><stop offset="0.5294" stop-color="#87ff6f"/><stop offset="0.5294" stop-color="#aaff4d"/><stop offset="0.5412" stop-color="#aaff4d"/><stop offset="0.5412" stop-color="#cfff28"/><stop offset="0.5529" stop-color="#cfff28"/><stop offset="0.5529" stop-color="#f7f600"/><stop offset="0.5647" stop-color="#f7f600"/><stop offset="0.5647" stop-color="#fdee00"/><stop offset="0.5765" stop-color="#fdee00"/><stop offset="0.5765" stop-color="#ffe700"/><stop offset="0.5882" stop-color="#ffe700"/><stop offset="0.5882" stop-color="#ffde00"/><stop offset="0.6000" stop-color="#ffde00"/><stop offset="0.6000" stop-color="#ffd300"/><stop offset="0.6118" stop-color="#ffd300"/><stop offset="0.6118" stop-color="#ffc700"/><stop offset="0.6235" stop-color="#ffc700"/><stop offset="0.6235" stop-color="#ffb700"/><stop offset="0.6353" stop-color="#ffb700"/><stop offset="0.6353" stop-color="#ff8e00"/><stop offset="0.6588" stop-color="#ff8e00"/><stop offset="0.6588" stop-color="#ffb600"/><stop offset="0.6706" stop-color="#ffb600"/><stop offset="0.6706" stop-color="#ffec00"/><stop offset="0.6824" stop-color="#ffec00"/><stop offset="0.6824" stop-color="#f9f300"/><stop offset="0.6941" stop-color="#f9f300"/><stop offset="0.6941" stop-color="#f3fa04"/><stop offset="0.7059" stop-color="#f3fa04"/><stop offset="0.7059" stop-color="#edff0a"/><stop offset="0.7176" stop-color="#edff0a"/><stop offset="0.7176" stop-color="#eaff0d"/><stop offset="0.7294" stop-color="#eaff0d"/><stop offset="0.7294" stop-color="#e8ff0f"/><stop offset="0.7412" stop-color="#e8ff0f"/><stop offset="0.7412" stop-color="#e6ff11"/><stop offset="0.7529" stop-color="#e6ff11"/><stop offset="0.7529" stop-color="#e4ff13"/><stop offset="0.7647" stop-color="#e4ff13"/><stop offset="0.7647" stop-color="#e2ff14"/><stop offset="0.7765" stop-color="#e2ff14"/><stop offset="0.7765" stop-color="#e0ff16"/><stop offset="0.7882" stop-color="#e0ff16"/><stop offset="0.7882" stop-color="#dfff18"/><stop offset="0.8000" stop-color="#dfff18"/><stop offset="0.8000" stop-color="#deff18"/><stop offset="0.8118" stop-color="#deff18"/><stop offset="0.8118" stop-color="#deff19"/><stop offset="0.8235" stop-color="#deff19"/><stop offset="0.8235" stop-color="#ddff1a"/><stop offset="0.8471" stop-color="#ddff1a"/><stop offset="0.8471" stop-color="#dcff1a"/><stop offset="0.8588" stop-color="#dcff1a"/><stop offset="0.8588" stop-color="#dcff1b"/><stop offset="0.8824" stop-color="#dcff1b"/><stop offset="0.8824" stop-color="#dbff1b"/><stop offset="0.8941" stop-color="#dbff1b"/><stop offset="0.8941" stop-color="#dbff1c"/><stop offset="0.9176" stop-color="#dbff1c"/><stop offset="0.9176" stop-color="#daff1c"/><stop offset="0.9294" stop-color="#daff1c"/><stop offset="0.9294" stop-color="#daff1d"/><stop offset="0.9529" stop-color="#daff1d"/><stop offset="0.9529" stop-color="#d9ff1e"/><stop offset="0.9765" stop-color="#d9ff1e"/><stop offset="0.9765" stop-color="#d8ff1f"/><stop offset="1.0000" stop-color="#d8ff1f"/></radialGradient>
<radialGradient id="g48" gradientUnits="userSpaceOnUse" cx="380.20" cy="332.90" r="266.50"><stop offset="0.4000" stop-color="#0000b9"/><stop offset="0.4118" stop-color="#0000b9"/><stop offset="0.4118" stop-color="#0000ff"/><stop offset="0.4235" stop-color="#0000ff"/><stop offset="0.4235" stop-color="#003fff"/><stop offset="0.4353" stop-color="#003fff"/><stop offset="0.4353" stop-color="#007aff"/><stop offset="0.4471" stop-color="#007aff"/><stop offset="0.4471" stop-color="#00b2ff"/><stop offset="0.4588" stop-color="#00b2ff"/><stop offset="0.4588" stop-color="#00e1fa"/><stop offset="0.4706" stop-color="#00e1fa"/><stop offset="0.4706" stop-color="#23ffd4"/><stop offset="0.4824" stop-color="#23ffd4"/><stop offset="0.4824" stop-color="#49ffae"/><stop offset="0.4941" stop-color="#49ffae"/><stop offset="0.4941" stop-color="#6dff8a"/><stop offset="0.5059" stop-color="#6dff8a"/><stop offset="0.5059" stop-color="#8fff68"/><stop offset="0.5176" stop-color="#8fff68"/><stop offset="0.5176" stop-color="#b5ff42"/><stop offset="0.5294" stop-color="#b5ff42"/><stop offset="0.5294" stop-color="#ddff19"/><stop offset="0.5412" stop-color="#ddff19"/><stop offset="0.5412" stop-color="#f9f300"/><stop offset="0.5529" stop-color="#f9f300"/><stop offset="0.5529" stop-color="#feed00"/><stop offset="0.5647" stop-color="#feed00"/><stop offset="0.5647" stop-color="#ffe800"/><stop offset="0.5765" stop-color="#ffe800"/><stop offset="0.5765" stop-color="#ffdc00"/><stop offset="0.5882" stop-color="#ffdc00"/><stop offset="0.5882" stop-color="#ffd000"/><stop offset="0.6000" stop-color="#ffd000"/><stop offset="0.6000" stop-color="#ffc100"/><stop offset="0.6118" stop-color="#ffc100"/><stop offset="0.6118" stop-color="#ff9000"/><stop offset="0.6353" stop-color="#ff9000"/><stop offset="0.6353" stop-color="#ff9700"/><stop offset="0.6471" stop-color="#ff9700"/><stop offset="0.6471" stop-color="#ffd900"/><stop offset="0.6588" stop-color="#ffd900"/><stop offset="0.6588" stop-color="#fbf000"/><stop offset="0.6706" stop-color="#fbf000"/><stop offset="0.6706" stop-color="#f5f701"/><stop offset="0.6824" stop-color="#f5f701"/><stop offset="0.6824" stop-color="#effe07"/><stop offset="0.6941" stop-color="#effe07"/><stop offset="0.6941" stop-color="#ebff0c"/><stop offset="0.7059" stop-color="#ebff0c"/><stop offset="0.7059" stop-color="#e9ff0e"/><stop offset="0.7176" stop-color="#e9ff0e"/><stop offset="0.7176" stop-color="#e7ff10"/><stop offset="0.7294" stop-color="#e7ff10"/><stop offset="0.7294" stop-color="#e5ff12"/><stop offset="0.7412" stop-color="#e5ff12"/><stop offset="0.7412" stop-color="#e3ff14"/><stop offset="0.7529" stop-color="#e3ff14"/><stop offset="0.7529" stop-color="#e1ff16"/><stop offset="0.7647" stop-color="#e1ff16"/><stop offset="0.7647" stop-color="#dfff17"/><stop offset="0.7765" stop-color="#dfff17"/><stop offset="0.7765" stop-color="#dfff18"/><stop offset="0.7882" stop-color="#dfff18"/><stop offset="0.7882" stop-color="#deff19"/><stop offset="0.8118" stop-color="#deff19"/><stop offset="0.8118" stop-color="#ddff19"/><stop offset="0.8235" stop-color="#ddff19"/><stop offset="0.8235" stop-color="#ddff1a"/><stop offset="0.8471" stop-color="#ddff1a"/><stop offset="0.8471" stop-color="#dcff1a"/><stop offset="0.8588" stop-color="#dcff1a"/><stop offset="0.8588" stop-color="#dcff1b"/><stop offset="0.8824" stop-color="#dcff1b"/><stop offset="0.8824" stop-color="#dbff1b"/><stop offset="0.8941" stop-color="#dbff1b"/><stop offset="0.8941" stop-color="#dbff1c"/><stop offset="0.9176" stop-color="#dbff1c"/><stop offset="0.9176" stop-color="#daff1c"/><stop offset="0.9294" stop-color="#daff1c"/><stop offset="0.9294" stop-color="#daff1d"/><stop offset="0.9529" stop-color="#daff1d"/><stop offset="0.9529" stop-color="#d9ff1e"/><stop offset="0.9765" stop-color="#d9ff1e"/><stop offset="0.9765" stop-color="#d8ff1f"/><stop offset="1.0000" stop-color="#d8ff1f"/></radialGradient>
<radialGradient id="g49" gradientUnits="userSpaceOnUse" cx="380.20" cy="332.90" r="266.50"><stop offset="0.3918" stop-color="#0000a2"/><stop offset="0.4000" stop-color="#0000a2"/><stop offset="0.4000" stop-color="#0000f3"/><stop offset="0.4118" stop-color="#0000f3"/><stop offset="0.4118" stop-color="#002eff"/><stop offset="0.4235" stop-color="#002eff"/><stop offset="0.4235" stop-color="#006bff"/><stop offset="0.4353" stop-color="#006bff"/><stop offset="0.4353" stop-color="#00a8ff"/><stop offset="0.4471" stop-color="#00a8ff"/><stop offset="0.4471" stop-color="#00d9ff"/><stop offset="0.4588" stop-color="#00d9ff"/><stop offset="0.4588" stop-color="#1dffd9"/><stop offset="0.4706" stop-color="#1dffd9"/><stop offset="0.4706" stop-color="#46ffb1"/><stop offset="0.4824" stop-color="#46ffb1"/><stop offset="0.4824" stop-color="#6bff8b"/><stop offset="0.4941" stop-color="#6bff8b"/><stop offset="0.4941" stop-color="#8eff68"/><stop offset="0.5059" stop-color="#8eff68"/><stop offset="0.5059" stop-color="#b7ff40"/><stop offset="0.5176" stop-color="#b7ff40"/><stop offset="0.5176" stop-color="#e1ff16"/><stop offset="0.5294" stop-color="#e1ff16"/><stop offset="0.5294" stop-color="#f9f300"/><stop offset="0.5412" stop-color="#f9f300"/><stop offset="0.5412" stop-color="#fdee00"/><stop offset="0.5529" stop-color="#fdee00"/><stop offset="0.5529" stop-color="#ffe900"/><stop offset="0.5647" stop-color="#ffe900"/><stop offset="0.5647" stop-color="#ffde00"/><stop offset="0.5765" stop-color="#ffde00"/><stop offset="0.5765" stop-color="#ffd200"/><stop offset="0.5882" stop-color="#ffd200"/><stop offset="0.5882" stop-color="#ffc200"/><stop offset="0.6000" stop-color="#ffc200"/><stop offset="0.6000" stop-color="#ff9000"/><stop offset="0.6235" stop-color="#ff9000"/><stop offset="0.6235" stop-color="#ff9100"/><stop offset="0.6353" stop-color="#ff9100"/><stop offset="0.6353" stop-color="#ffd500"/><stop offset="0.6471" stop-color="#ffd500"/><stop offset="0.6471" stop-color="#fcf000"/><stop offset="0.6588" stop-color="#fcf000"/><stop offset="0.6588" stop-color="#f6f601"/><stop offset="0.6706" stop-color="#f6f601"/><stop offset="0.6706" stop-color="#f0fd07"/><stop offset="0.6824" stop-color="#f0fd07"/><stop offset="0.6824" stop-color="#ebff0c"/><stop offset="0.6941" stop-color="#ebff0c"/><stop offset="0.6941" stop-color="#e9ff0e"/><stop offset="0.7059" stop-color="#e9ff0e"/><stop offset="0.7059" stop-color="#e7ff10"/><stop offset="0.7176" stop-color="#e7ff10"/><stop offset="0.7176" stop-color="#e5ff12"/><stop offset="0.7294" stop-color="#e5ff12"/><stop offset="0.7294" stop-color="#e3ff13"/><stop offset="0.7412" stop-color="#e3ff13"/><stop offset="0.7412" stop-color="#e1ff15"/><stop offset="0.7529" stop-color="#e1ff15"/><stop offset="0.7529" stop-color="#dfff17"/><stop offset="0.7647" stop-color="#dfff17"/><stop offset="0.7647" stop-color="#dfff18"/><stop offset="0.7765" stop-color="#dfff18"/><stop offset="0.7765" stop-color="#deff18"/><stop offset="0.7882" stop-color="#deff18"/><stop offset="0.7882" stop-color="#deff19"/><stop offset="0.8118" stop-color="#deff19"/><stop offset="0.8118" stop-color="#ddff19"/><stop offset="0.8235" stop-color="#ddff19"/><stop offset="0.8235" stop-color="#ddff1a"/><stop offset="0.8471" stop-color="#ddff1a"/><stop offset="0.8471" stop-color="#dcff1a"/><stop offset="0.8588" stop-color="#dcff1a"/><stop offset="0.8588" stop-color="#dcff1b"/><stop offset="0.8824" stop-color="#dcff1b"/><stop offset="0.8824" stop-color="#dbff1b"/><stop offset="0.8941" stop-color="#dbff1b"/><stop offset="0.8941" stop-color="#dbff1c"/><stop offset="0.9176" stop-color="#dbff1c"/><stop offset="0.9176" stop-color="#daff1c"/><stop offset="0.9294" stop-color="#daff1c"/><stop offset="0.9294" stop-color="#daff1d"/><stop offset="0.9529" stop-color="#daff1d"/><stop offset="0.9529" stop-color="#d9ff1e"/><stop offset="0.9765" stop-color="#d9ff1e"/><stop offset="0.9765" stop-color="#d8ff1f"/><stop offset="1.0000" stop-color="#d8ff1f"/></radialGradient>
<radialGradient id="g50" gradientUnits="userSpaceOnUse" cx="380.20" cy="332.90" r="266.50"><stop offset="0.3835" stop-color="#000094"/><stop offset="0.3882" stop-color="#000094"/><stop offset="0.3882" stop-color="#0000dd"/><stop offset="0.4000" stop-color="#0000dd"/><stop offset="0.4000" stop-color="#0020ff"/><stop offset="0.4118" stop-color="#0020ff"/><stop offset="0.4118" stop-color="#0060ff"/><stop offset="0.4235" stop-color="#0060ff"/><stop offset="0.4235" stop-color="#00a0ff"/><stop offset="0.4353" stop-color="#00a0ff"/><stop offset="0.4353" stop-color="#00d5ff"/><stop offset="0.4471" stop-color="#00d5ff"/><stop offset="0.4471" stop-color="#1cffdb"/><stop offset="0.4588" stop-color="#1cffdb"/><stop offset="0.4588" stop-color="#46ffb1"/><stop offset="0.4706" stop-color="#46ffb1"/><stop offset="0.4706" stop-color="#6dff8a"/><stop offset="0.4824" stop-color="#6dff8a"/><stop offset="0.4824" stop-color="#92ff65"/><stop offset="0.4941" stop-color="#92ff65"/><stop offset="0.4941" stop-color="#bcff3a"/><stop offset="0.5059" stop-color="#bcff3a"/><stop offset="0.5059" stop-color="#e9ff0e"/><stop offset="0.5176" stop-color="#e9ff0e"/><stop offset="0.5176" stop-color="#f9f300"/><stop offset="0.5294" stop-color="#f9f300"/><stop offset="0.5294" stop-color="#fcef00"/><stop offset="0.5412" stop-color="#fcef00"/><stop offset="0.5412" stop-color="#ffeb00"/><stop offset="0.5529" stop-color="#ffeb00"/><stop offset="0.5529" stop-color="#ffe100"/><stop offset="0.5647" stop-color="#ffe100"/><stop offset="0.5647" stop-color="#ffd800"/><stop offset="0.5765" stop-color="#ffd800"/><stop offset="0.5765" stop-color="#ffcb00"/><stop offset="0.5882" stop-color="#ffcb00"/><stop offset="0.5882" stop-color="#ffb300"/><stop offset="0.6000" stop-color="#ffb300"/><stop offset="0.6000" stop-color="#ff9000"/><stop offset="0.6235" stop-color="#ff9000"/><stop offset="0.6235" stop-color="#ffcb00"/><stop offset="0.6353" stop-color="#ffcb00"/><stop offset="0.6353" stop-color="#fdee00"/><stop offset="0.6471" stop-color="#fdee00"/><stop offset="0.6471" stop-color="#f7f500"/><stop offset="0.6588" stop-color="#f7f500"/><stop offset="0.6588" stop-color="#f1fc06"/><stop offset="0.6706" stop-color="#f1fc06"/><stop offset="0.6706" stop-color="#ebff0c"/><stop offset="0.6824" stop-color="#ebff0c"/><stop offset="0.6824" stop-color="#e9ff0d"/><stop offset="0.6941" stop-color="#e9ff0d"/><stop offset="0.6941" stop-color="#e7ff0f"/><stop offset="0.7059" stop-color="#e7ff0f"/><stop offset="0.7059" stop-color="#e6ff11"/><stop offset="0.7176" stop-color="#e6ff11"/><stop offset="0.7176" stop-color="#e4ff13"/><stop offset="0.7294" stop-color="#e4ff13"/><stop offset="0.7294" stop-color="#e2ff15"/><stop offset="0.7412" stop-color="#e2ff15"/><stop offset="0.7412" stop-color="#e0ff17"/><stop offset="0.7529" stop-color="#e0ff17"/><stop offset="0.7529" stop-color="#dfff18"/><stop offset="0.7647" stop-color="#dfff18"/><stop offset="0.7647" stop-color="#deff18"/><stop offset="0.7765" stop-color="#deff18"/><stop offset="0.7765" stop-color="#deff19"/><stop offset="0.8118" stop-color="#deff19"/><stop offset="0.8118" stop-color="#ddff1a"/><stop offset="0.8471" stop-color="#ddff1a"/><stop offset="0.8471" stop-color="#dcff1a"/><stop offset="0.8588" stop-color="#dcff1a"/><stop offset="0.8588" stop-color="#dcff1b"/><stop offset="0.8824" stop-color="#dcff1b"/><stop offset="0.8824" stop-color="#dbff1b"/><stop offset="0.8941" stop-color="#dbff1b"/><stop offset="0.8941" stop-color="#dbff1c"/><stop offset="0.9176" stop-color="#dbff1c"/><stop offset="0.9176" stop-color="#daff1c"/><stop offset="0.9294" stop-color="#daff1c"/><stop offset="0.9294" stop-color="#daff1d"/><stop offset="0.9412" stop-color="#daff1d"/><stop offset="0.9412" stop-color="#d9ff1e"/><stop offset="0.9529" stop-color="#d9ff1e"/><stop offset="0.9529" stop-color="#d8ff1f"/><stop offset="0.9647" stop-color="#d8ff1f"/><stop offset="0.9647" stop-color="#d6ff21"/><stop offset="0.9765" stop-color="#d6ff21"/><stop offset="0.9765" stop-color="#d4ff23"/><stop offset="0.9882" stop-color="#d4ff23"/><stop offset="0.9882" stop-color="#d3ff24"/><stop offset="1.0000" stop-color="#d3ff24"/></radialGradient>
<radialGradient id="g51" gradientUnits="userSpaceOnUse" cx="380.20" cy="332.90" r="266.50"><stop offset="0.3788" stop-color="#0000aa"/><stop offset="0.3882" stop-color="#0000aa"/><stop offset="0.3882" stop-color="#0000ff"/><stop offset="0.4000" stop-color="#0000ff"/><stop offset="0.4000" stop-color="#003dff"/><stop offset="0.4118" stop-color="#003dff"/><stop offset="0.4118" stop-color="#007dff"/><stop offset="0.4235" stop-color="#007dff"/><stop offset="0.4235" stop-color="#00baff"/><stop offset="0.4353" stop-color="#00baff"/><stop offset="0.4353" stop-color="#07eef0"/><stop offset="0.4471" stop-color="#07eef0"/><stop offset="0.4471" stop-color="#31ffc5"/><stop offset="0.4588" stop-color="#31ffc5"/><stop offset="0.4588" stop-color="#5cff9b"/><stop offset="0.4706" stop-color="#5cff9b"/><stop offset="0.4706" stop-color="#81ff75"/><stop offset="0.4824" stop-color="#81ff75"/><stop offset="0.4824" stop-color="#aaff4d"/><stop offset="0.4941" stop-color="#aaff4d"/><stop offset="0.4941" stop-color="#d6ff21"/><stop offset="0.5059" stop-color="#d6ff21"/><stop offset="0.5059" stop-color="#f8f400"/><stop offset="0.5176" stop-color="#f8f400"/><stop offset="0.5176" stop-color="#fbf100"/><stop offset="0.5294" stop-color="#fbf100"/><stop offset="0.5294" stop-color="#feed00"/><stop offset="0.5412" stop-color="#feed00"/><stop offset="0.5412" stop-color="#ffe500"/><stop offset="0.5529" stop-color="#ffe500"/><stop offset="0.5529" stop-color="#ffdb00"/><stop offset="0.5647" stop-color="#ffdb00"/><stop offset="0.5647" stop-color="#ffcf00"/><stop offset="0.5765" stop-color="#ffcf00"/><stop offset="0.5765" stop-color="#ffbf00"/><stop offset="0.5882" stop-color="#ffbf00"/><stop offset="0.5882" stop-color="#ff9000"/><stop offset="0.6118" stop-color="#ff9000"/><stop offset="0.6118" stop-color="#ffaf00"/><stop offset="0.6235" stop-color="#ffaf00"/><stop offset="0.6235" stop-color="#ffe700"/><stop offset="0.6353" stop-color="#ffe700"/><stop offset="0.6353" stop-color="#faf200"/><stop offset="0.6471" stop-color="#faf200"/><stop offset="0.6471" stop-color="#f4f903"/><stop offset="0.6588" stop-color="#f4f903"/><stop offset="0.6588" stop-color="#eeff09"/><stop offset="0.6706" stop-color="#eeff09"/><stop offset="0.6706" stop-color="#eaff0d"/><stop offset="0.6824" stop-color="#eaff0d"/><stop offset="0.6824" stop-color="#e8ff0f"/><stop offset="0.6941" stop-color="#e8ff0f"/><stop offset="0.6941" stop-color="#e6ff10"/><stop offset="0.7059" stop-color="#e6ff10"/><stop offset="0.7059" stop-color="#e4ff12"/><stop offset="0.7176" stop-color="#e4ff12"/><stop offset="0.7176" stop-color="#e3ff14"/><stop offset="0.7294" stop-color="#e3ff14"/><stop offset="0.7294" stop-color="#e1ff16"/><stop offset="0.7412" stop-color="#e1ff16"/><stop offset="0.7412" stop-color="#dfff18"/><stop offset="0.7647" stop-color="#dfff18"/><stop offset="0.7647" stop-color="#deff18"/><stop offset="0.7765" stop-color="#deff18"/><stop offset="0.7765" stop-color="#deff19"/><stop offset="0.8000" stop-color="#deff19"/><stop offset="0.8000" stop-color="#ddff19"/><stop offset="0.8118" stop-color="#ddff19"/><stop offset="0.8118" stop-color="#ddff1a"/><stop offset="0.8471" stop-color="#ddff1a"/><stop offset="0.8471" stop-color="#dcff1a"/><stop offset="0.8588" stop-color="#dcff1a"/><stop offset="0.8588" stop-color="#dcff1b"/><stop offset="0.8824" stop-color="#dcff1b"/><stop offset="0.8824" stop-color="#dbff1b"/><stop offset="0.8941" stop-color="#dbff1b"/><stop offset="0.8941" stop-color="#dbff1c"/><stop offset="0.9176" stop-color="#dbff1c"/><stop offset="0.9176" stop-color="#daff1c"/><stop offset="0.9294" stop-color="#daff1c"/><stop offset="0.9294" stop-color="#daff1d"/><stop offset="0.9412" stop-color="#daff1d"/><stop offset="0.9412" stop-color="#d9ff1e"/><stop offset="0.9529" stop-color="#d9ff1e"/><stop offset="0.9529" stop-color="#d6ff20"/><stop offset="0.9647" stop-color="#d6ff20"/><stop offset="0.9647" stop-color="#d4ff23"/><stop offset="0.9765" stop-color="#d4ff23"/><stop offset="0.9765" stop-color="#d1ff25"/><stop offset="0.9882" stop-color="#d1ff25"/><stop offset="0.9882" stop-color="#cfff28"/><stop offset="1.0000" stop-color="#cfff28"/></radialGradient>
<radialGradient id="g52" gradientUnits="userSpaceOnUse" cx="380.20" cy="332.90" r="266.50"><stop offset="0.3694" stop-color="#00009f"/><stop offset="0.3765" stop-color="#00009f"/><stop offset="0.3765" stop-color="#0000f1"/><stop offset="0.3882" stop-color="#0000f1"/><stop offset="0.3882" stop-color="#0030ff"/><stop offset="0.4000" stop-color="#0030ff"/><stop offset="0.4000" stop-color="#0070ff"/><stop offset="0.4118" stop-color="#0070ff"/><stop offset="0.4118" stop-color="#00b0ff"/><stop offset="0.4235" stop-color="#00b0ff"/><stop offset="0.4235" stop-color="#00e4f8"/><stop offset="0.4353" stop-color="#00e4f8"/><stop offset="0.4353" stop-color="#29ffce"/><stop offset="0.4471" stop-color="#29ffce"/><stop offset="0.4471" stop-color="#54ffa3"/><stop offset="0.4588" stop-color="#54ffa3"/><stop offset="0.4588" stop-color="#7aff7d"/><stop offset="0.4706" stop-color="#7aff7d"/><stop offset="0.4706" stop-color="#a1ff56"/><stop offset="0.4824" stop-color="#a1ff56"/><stop offset="0.4824" stop-color="#cdff2a"/><stop offset="0.4941" stop-color="#cdff2a"/><stop offset="0.4941" stop-color="#f7f500"/><stop offset="0.5059" stop-color="#f7f500"/><stop offset="0.5059" stop-color="#faf100"/><stop offset="0.5176" stop-color="#faf100"/><stop offset="0.5176" stop-color="#feee00"/><stop offset="0.5294" stop-color="#feee00"/><stop offset="0.5294" stop-color="#ffe600"/><stop offset="0.5412" stop-color="#ffe600"/><stop offset="0.5412" stop-color="#ffdb00"/><stop offset="0.5529" stop-color="#ffdb00"/><stop offset="0.5529" stop-color="#ffcf00"/><stop offset="0.5647" stop-color="#ffcf00"/><stop offset="0.5647" stop-color="#ffbf00"/><stop offset="0.5765" stop-color="#ffbf00"/><stop offset="0.5765" stop-color="#ff9000"/><stop offset="0.6000" stop-color="#ff9000"/><stop offset="0.6000" stop-color="#ffcb00"/><stop offset="0.6118" stop-color="#ffcb00"/><stop offset="0.6118" stop-color="#fdee00"/><stop offset="0.6235" stop-color="#fdee00"/><stop offset="0.6235" stop-color="#f7f500"/><stop offset="0.6353" stop-color="#f7f500"/><stop offset="0.6353" stop-color="#f1fc06"/><stop offset="0.6471" stop-color="#f1fc06"/><stop offset="0.6471" stop-color="#ebff0c"/><stop offset="0.6588" stop-color="#ebff0c"/><stop offset="0.6588" stop-color="#e9ff0d"/><stop offset="0.6706" stop-color="#e9ff0d"/><stop offset="0.6706" stop-color="#e7ff0f"/><stop offset="0.6824" stop-color="#e7ff0f"/><stop offset="0.6824" stop-color="#e6ff11"/><stop offset="0.6941" stop-color="#e6ff11"/><stop offset="0.6941" stop-color="#e4ff13"/><stop offset="0.7059" stop-color="#e4ff13"/><stop offset="0.7059" stop-color="#e2ff15"/><stop offset="0.7176" stop-color="#e2ff15"/><stop offset="0.7176" stop-color="#e0ff17"/><stop offset="0.7294" stop-color="#e0ff17"/><stop offset="0.7294" stop-color="#dfff18"/><stop offset="0.7529" stop-color="#dfff18"/><stop offset="0.7529" stop-color="#deff18"/><stop offset="0.7647" stop-color="#deff18"/><stop offset="0.7647" stop-color="#deff19"/><stop offset="0.8000" stop-color="#deff19"/><stop offset="0.8000" stop-color="#ddff19"/><stop offset="0.8118" stop-color="#ddff19"/><stop offset="0.8118" stop-color="#ddff1a"/><stop offset="0.8471" stop-color="#ddff1a"/><stop offset="0.8471" stop-color="#dcff1a"/><stop offset="0.8588" stop-color="#dcff1a"/><stop offset="0.8588" stop-color="#dcff1b"/><stop offset="0.8824" stop-color="#dcff1b"/><stop offset="0.8824" stop-color="#dbff1b"/><stop offset="0.8941" stop-color="#dbff1b"/><stop offset="0.8941" stop-color="#dbff1c"/><stop offset="0.9176" stop-color="#dbff1c"/><stop offset="0.9176" stop-color="#daff1c"/><stop offset="0.9294" stop-color="#daff1c"/><stop offset="0.9294" stop-color="#daff1d"/><stop offset="0.9412" stop-color="#daff1d"/><stop offset="0.9412" stop-color="#d8ff1e"/><stop offset="0.9529" stop-color="#d8ff1e"/><stop offset="0.9529" stop-color="#d5ff22"/><stop offset="0.9647" stop-color="#d5ff22"/><stop offset="0.9647" stop-color="#d2ff25"/><stop offset="0.9765" stop-color="#d2ff25"/><stop offset="0.9765" stop-color="#ceff28"/><stop offset="0.9882" stop-color="#ceff28"/><stop offset="0.9882" stop-color="#cbff2c"/><stop offset="1.0000" stop-color="#cbff2c"/></radialGradient>
<radialGradient id="g53" gradientUnits="userSpaceOnUse" cx="380.20" cy="332.90" r="266.50"><stop offset="0.3506" stop-color="#00008a"/><stop offset="0.3529" stop-color="#00008a"/><stop offset="0.3529" stop-color="#0000c8"/><stop offset="0.3647" stop-color="#0000c8"/><stop offset="0.3647" stop-color="#0012ff"/><stop offset="0.3765" stop-color="#0012ff"/><stop offset="0.3765" stop-color="#0053ff"/><stop offset="0.3882" stop-color="#0053ff"/><stop offset="0.3882" stop-color="#0093ff"/><stop offset="0.4000" stop-color="#0093ff"/><stop offset="0.4000" stop-color="#00cbff"/><stop offset="0.4118" stop-color="#00cbff"/><stop offset="0.4118" stop-color="#14fee3"/><stop offset="0.4235" stop-color="#14fee3"/><stop offset="0.4235" stop-color="#3dffb9"/><stop offset="0.4353" stop-color="#3dffb9"/><stop offset="0.4353" stop-color="#66ff91"/><stop offset="0.4471" stop-color="#66ff91"/><stop offset="0.4471" stop-color="#8bff6c"/><stop offset="0.4588" stop-color="#8bff6c"/><stop offset="0.4588" stop-color="#b4ff43"/><stop offset="0.4706" stop-color="#b4ff43"/><stop offset="0.4706" stop-color="#e0ff17"/><stop offset="0.4824" stop-color="#e0ff17"/><stop offset="0.4824" stop-color="#f8f400"/><stop offset="0.4941" stop-color="#f8f400"/><stop offset="0.4941" stop-color="#fcf000"/><stop offset="0.5059" stop-color="#fcf000"/><stop offset="0.5059" stop-color="#ffec00"/><stop offset="0.5176" stop-color="#ffec00"/><stop offset="0.5176" stop-color="#ffe000"/><stop offset="0.5294" stop-color="#ffe000"/><stop offset="0.5294" stop-color="#ffd500"/><stop offset="0.5412" stop-color="#ffd500"/><stop offset="0.5412" stop-color="#ffc500"/><stop offset="0.5529" stop-color="#ffc500"/><stop offset="0.5529" stop-color="#ff9000"/><stop offset="0.5765" stop-color="#ff9000"/><stop offset="0.5765" stop-color="#ffaf00"/><stop offset="0.5882" stop-color="#ffaf00"/><stop offset="0.5882" stop-color="#ffe700"/><stop offset="0.6000" stop-color="#ffe700"/><stop offset="0.6000" stop-color="#faf200"/><stop offset="0.6118" stop-color="#faf200"/><stop offset="0.6118" stop-color="#f4f903"/><stop offset="0.6235" stop-color="#f4f903"/><stop offset="0.6235" stop-color="#eeff09"/><stop offset="0.6353" stop-color="#eeff09"/><stop offset="0.6353" stop-color="#eaff0d"/><stop offset="0.6471" stop-color="#eaff0d"/><stop offset="0.6471" stop-color="#e8ff0f"/><stop offset="0.6588" stop-color="#e8ff0f"/><stop offset="0.6588" stop-color="#e6ff10"/><stop offset="0.6706" stop-color="#e6ff10"/><stop offset="0.6706" stop-color="#e4ff12"/><stop offset="0.6824" stop-color="#e4ff12"/><stop offset="0.6824" stop-color="#e3ff14"/><stop offset="0.6941" stop-color="#e3ff14"/><stop offset="0.6941" stop-color="#e1ff16"/><stop offset="0.7059" stop-color="#e1ff16"/><stop offset="0.7059" stop-color="#dfff18"/><stop offset="0.7294" stop-color="#dfff18"/><stop offset="0.7294" stop-color="#deff18"/><stop offset="0.7412" stop-color="#deff18"/><stop offset="0.7412" stop-color="#deff19"/><stop offset="0.7882" stop-color="#deff19"/><stop offset="0.7882" stop-color="#ddff19"/><stop offset="0.8000" stop-color="#ddff19"/><stop offset="0.8000" stop-color="#ddff1a"/><stop offset="0.8471" stop-color="#ddff1a"/><stop offset="0.8471" stop-color="#dcff1b"/><stop offset="0.8588" stop-color="#dcff1b"/><stop offset="0.8588" stop-color="#dbff1c"/><stop offset="0.8706" stop-color="#dbff1c"/><stop offset="0.8706" stop-color="#daff1d"/><stop offset="0.8824" stop-color="#daff1d"/><stop offset="0.8824" stop-color="#d9ff1e"/><stop offset="0.8941" stop-color="#d9ff1e"/><stop offset="0.8941" stop-color="#d8ff1e"/><stop offset="0.9059" stop-color="#d8ff1e"/><stop offset="0.9059" stop-color="#d7ff1f"/><stop offset="0.9176" stop-color="#d7ff1f"/><stop offset="0.9176" stop-color="#d6ff20"/><stop offset="0.9294" stop-color="#d6ff20"/><stop offset="0.9294" stop-color="#d6ff21"/><stop offset="0.9412" stop-color="#d6ff21"/><stop offset="0.9412" stop-color="#d3ff24"/><stop offset="0.9529" stop-color="#d3ff24"/><stop offset="0.9529" stop-color="#d0ff27"/><stop offset="0.9647" stop-color="#d0ff27"/><stop offset="0.9647" stop-color="#ccff2b"/><stop offset="0.9765" stop-color="#ccff2b"/><stop offset="0.9765" stop-color="#c8ff2e"/><stop offset="0.9882" stop-color="#c8ff2e"/><stop offset="0.9882" stop-color="#c5ff32"/><stop offset="1.0000" stop-color="#c5ff32"/></radialGradient>
<radialGradient id="g54" gradientUnits="userSpaceOnUse" cx="380.20" cy="332.90" r="266.50"><stop offset="0.3376" stop-color="#00008f"/><stop offset="0.3412" stop-color="#00008f"/><stop offset="0.3412" stop-color="#0000d4"/><stop offset="0.3529" stop-color="#0000d4"/><stop offset="0.3529" stop-color="#001cff"/><stop offset="0.3647" stop-color="#001cff"/><stop offset="0.3647" stop-color="#005dff"/><stop offset="0.3765" stop-color="#005dff"/><stop offset="0.3765" stop-color="#009eff"/><stop offset="0.3882" stop-color="#009eff"/><stop offset="0.3882" stop-color="#00d4ff"/><stop offset="0.4000" stop-color="#00d4ff"/><stop offset="0.4000" stop-color="#1cffdb"/><stop offset="0.4118" stop-color="#1cffdb"/><stop offset="0.4118" stop-color="#47ffb0"/><stop offset="0.4235" stop-color="#47ffb0"/><stop offset="0.4235" stop-color="#6fff88"/><stop offset="0.4353" stop-color="#6fff88"/><stop offset="0.4353" stop-color="#94ff63"/><stop offset="0.4471" stop-color="#94ff63"/><stop offset="0.4471" stop-color="#c0ff37"/><stop offset="0.4588" stop-color="#c0ff37"/><stop offset="0.4588" stop-color="#edff09"/><stop offset="0.4706" stop-color="#edff09"/><stop offset="0.4706" stop-color="#faf200"/><stop offset="0.4824" stop-color="#faf200"/><stop offset="0.4824" stop-color="#fdee00"/><stop offset="0.4941" stop-color="#fdee00"/><stop offset="0.4941" stop-color="#ffe900"/><stop offset="0.5059" stop-color="#ffe900"/><stop offset="0.5059" stop-color="#ffe000"/><stop offset="0.5176" stop-color="#ffe000"/><stop offset="0.5176" stop-color="#ffd600"/><stop offset="0.5294" stop-color="#ffd600"/><stop offset="0.5294" stop-color="#ffc800"/><stop offset="0.5412" stop-color="#ffc800"/><stop offset="0.5412" stop-color="#ffaa00"/><stop offset="0.5529" stop-color="#ffaa00"/><stop offset="0.5529" stop-color="#ff9000"/><stop offset="0.5647" stop-color="#ff9000"/><stop offset="0.5647" stop-color="#ff9700"/><stop offset="0.5765" stop-color="#ff9700"/><stop offset="0.5765" stop-color="#ffd900"/><stop offset="0.5882" stop-color="#ffd900"/><stop offset="0.5882" stop-color="#fbf000"/><stop offset="0.6000" stop-color="#fbf000"/><stop offset="0.6000" stop-color="#f5f701"/><stop offset="0.6118" stop-color="#f5f701"/><stop offset="0.6118" stop-color="#effe07"/><stop offset="0.6235" stop-color="#effe07"/><stop offset="0.6235" stop-color="#ebff0c"/><stop offset="0.6353" stop-color="#ebff0c"/><stop offset="0.6353" stop-color="#e9ff0e"/><stop offset="0.6471" stop-color="#e9ff0e"/><stop offset="0.6471" stop-color="#e7ff10"/><stop offset="0.6588" stop-color="#e7ff10"/><stop offset="0.6588" stop-color="#e5ff12"/><stop offset="0.6706" stop-color="#e5ff12"/><stop offset="0.6706" stop-color="#e3ff14"/><stop offset="0.6824" stop-color="#e3ff14"/><stop offset="0.6824" stop-color="#e1ff16"/><stop offset="0.6941" stop-color="#e1ff16"/><stop offset="0.6941" stop-color="#dfff17"/><stop offset="0.7059" stop-color="#dfff17"/><stop offset="0.7059" stop-color="#dfff18"/><stop offset="0.7294" stop-color="#dfff18"/><stop offset="0.7294" stop-color="#deff18"/><stop offset="0.7412" stop-color="#deff18"/><stop offset="0.7412" stop-color="#deff19"/><stop offset="0.7882" stop-color="#deff19"/><stop offset="0.7882" stop-color="#ddff19"/><stop offset="0.8000" stop-color="#ddff19"/><stop offset="0.8000" stop-color="#ddff1a"/><stop offset="0.8471" stop-color="#ddff1a"/><stop offset="0.8471" stop-color="#dcff1b"/><stop offset="0.8588" stop-color="#dcff1b"/><stop offset="0.8588" stop-color="#daff1d"/><stop offset="0.8706" stop-color="#daff1d"/><stop offset="0.8706" stop-color="#d8ff1f"/><stop offset="0.8824" stop-color="#d8ff1f"/><stop offset="0.8824" stop-color="#d6ff21"/><stop offset="0.8941" stop-color="#d6ff21"/><stop offset="0.8941" stop-color="#d4ff23"/><stop offset="0.9059" stop-color="#d4ff23"/><stop offset="0.9059" stop-color="#d2ff25"/><stop offset="0.9176" stop-color="#d2ff25"/><stop offset="0.9176" stop-color="#d0ff26"/><stop offset="0.9294" stop-color="#d0ff26"/><stop offset="0.9294" stop-color="#cfff28"/><stop offset="0.9412" stop-color="#cfff28"/><stop offset="0.9412" stop-color="#ccff2b"/><stop offset="0.9529" stop-color="#ccff2b"/><stop offset="0.9529" stop-color="#c8ff2f"/><stop offset="0.9647" stop-color="#c8ff2f"/><stop offset="0.9647" stop-color="#c5ff32"/><stop offset="0.9765" stop-color="#c5ff32"/><stop offset="0.9765" stop-color="#c1ff36"/><stop offset="0.9882" stop-color="#c1ff36"/><stop offset="0.9882" stop-color="#bdff39"/><stop offset="1.0000" stop-color="#bdff39"/></radialGradient>
<radialGradient id="g55" gradientUnits="userSpaceOnUse" cx="380.20" cy="332.90" r="266.50"><stop offset="0.3259" stop-color="#000090"/><stop offset="0.3294" stop-color="#000090"/><stop offset="0.3294" stop-color="#0000d6"/><stop offset="0.3412" stop-color="#0000d6"/><stop offset="0.3412" stop-color="#001fff"/><stop offset="0.3529" stop-color="#001fff"/><stop offset="0.3529" stop-color="#0062ff"/><stop offset="0.3647" stop-color="#0062ff"/><stop offset="0.3647" stop-color="#00a5ff"/><stop offset="0.3765" stop-color="#00a5ff"/><stop offset="0.3765" stop-color="#00dbff"/><stop offset="0.3882" stop-color="#00dbff"/><stop offset="0.3882" stop-color="#23ffd4"/><stop offset="0.4000" stop-color="#23ffd4"/><stop offset="0.4000" stop-color="#4fffa8"/><stop offset="0.4118" stop-color="#4fffa8"/><stop offset="0.4118" stop-color="#77ff80"/><stop offset="0.4235" stop-color="#77ff80"/><stop offset="0.4235" stop-color="#9fff58"/><stop offset="0.4353" stop-color="#9fff58"/><stop offset="0.4353" stop-color="#ccff2b"/><stop offset="0.4471" stop-color="#ccff2b"/><stop offset="0.4471" stop-color="#f7f500"/><stop offset="0.4588" stop-color="#f7f500"/><stop offset="0.4588" stop-color="#fbf000"/><stop offset="0.4706" stop-color="#fbf000"/><stop offset="0.4706" stop-color="#ffec00"/><stop offset="0.4824" stop-color="#ffec00"/><stop offset="0.4824" stop-color="#ffe600"/><stop offset="0.4941" stop-color="#ffe600"/><stop offset="0.4941" stop-color="#ffde00"/><stop offset="0.5059" stop-color="#ffde00"/><stop offset="0.5059" stop-color="#ffd500"/><stop offset="0.5176" stop-color="#ffd500"/><stop offset="0.5176" stop-color="#ffcb00"/><stop offset="0.5294" stop-color="#ffcb00"/><stop offset="0.5294" stop-color="#ffba00"/><stop offset="0.5412" stop-color="#ffba00"/><stop offset="0.5412" stop-color="#ff8e00"/><stop offset="0.5647" stop-color="#ff8e00"/><stop offset="0.5647" stop-color="#ffcb00"/><stop offset="0.5765" stop-color="#ffcb00"/><stop offset="0.5765" stop-color="#fdee00"/><stop offset="0.5882" stop-color="#fdee00"/><stop offset="0.5882" stop-color="#f7f500"/><stop offset="0.6000" stop-color="#f7f500"/><stop offset="0.6000" stop-color="#f1fc06"/><stop offset="0.6118" stop-color="#f1fc06"/><stop offset="0.6118" stop-color="#ebff0c"/><stop offset="0.6235" stop-color="#ebff0c"/><stop offset="0.6235" stop-color="#e9ff0d"/><stop offset="0.6353" stop-color="#e9ff0d"/><stop offset="0.6353" stop-color="#e7ff0f"/><stop offset="0.6471" stop-color="#e7ff0f"/><stop offset="0.6471" stop-color="#e6ff11"/><stop offset="0.6588" stop-color="#e6ff11"/><stop offset="0.6588" stop-color="#e4ff13"/><stop offset="0.6706" stop-color="#e4ff13"/><stop offset="0.6706" stop-color="#e2ff15"/><stop offset="0.6824" stop-color="#e2ff15"/><stop offset="0.6824" stop-color="#e0ff17"/><stop offset="0.6941" stop-color="#e0ff17"/><stop offset="0.6941" stop-color="#dfff18"/><stop offset="0.7176" stop-color="#dfff18"/><stop offset="0.7176" stop-color="#deff18"/><stop offset="0.7294" stop-color="#deff18"/><stop offset="0.7294" stop-color="#deff19"/><stop offset="0.7765" stop-color="#deff19"/><stop offset="0.7765" stop-color="#ddff19"/><stop offset="0.8000" stop-color="#ddff19"/><stop offset="0.8000" stop-color="#ddff1a"/><stop offset="0.8471" stop-color="#ddff1a"/><stop offset="0.8471" stop-color="#dbff1c"/><stop offset="0.8588" stop-color="#dbff1c"/><stop offset="0.8588" stop-color="#d8ff1e"/><stop offset="0.8706" stop-color="#d8ff1e"/><stop offset="0.8706" stop-color="#d6ff21"/><stop offset="0.8824" stop-color="#d6ff21"/><stop offset="0.8824" stop-color="#d3ff24"/><stop offset="0.8941" stop-color="#d3ff24"/><stop offset="0.8941" stop-color="#d0ff26"/><stop offset="0.9059" stop-color="#d0ff26"/><stop offset="0.9059" stop-color="#ceff29"/><stop offset="0.9176" stop-color="#ceff29"/><stop offset="0.9176" stop-color="#cbff2c"/><stop offset="0.9294" stop-color="#cbff2c"/><stop offset="0.9294" stop-color="#c8ff2e"/><stop offset="0.9412" stop-color="#c8ff2e"/><stop offset="0.9412" stop-color="#c5ff32"/><stop offset="0.9529" stop-color="#c5ff32"/><stop offset="0.9529" stop-color="#c2ff35"/><stop offset="0.9647" stop-color="#c2ff35"/><stop offset="0.9647" stop-color="#beff39"/><stop offset="0.9765" stop-color="#beff39"/><stop offset="0.9765" stop-color="#baff3c"/><stop offset="0.9882" stop-color="#baff3c"/><stop offset="0.9882" stop-color="#b7ff40"/><stop offset="1.0000" stop-color="#b7ff40"/></radialGradient>
<radialGradient id="g56" gradientUnits="userSpaceOnUse" cx="380.20" cy="332.90" r="266.50"><stop offset="0.3188" stop-color="#0000b2"/><stop offset="0.3294" stop-color="#0000b2"/><stop offset="0.3294" stop-color="#0004ff"/><stop offset="0.3412" stop-color="#0004ff"/><stop offset="0.3412" stop-color="#004eff"/><stop offset="0.3529" stop-color="#004eff"/><stop offset="0.3529" stop-color="#0093ff"/><stop offset="0.3647" stop-color="#0093ff"/><stop offset="0.3647" stop-color="#00cfff"/><stop offset="0.3765" stop-color="#00cfff"/><stop offset="0.3765" stop-color="#1bffdc"/><stop offset="0.3882" stop-color="#1bffdc"/><stop offset="0.3882" stop-color="#48ffae"/><stop offset="0.4000" stop-color="#48ffae"/><stop offset="0.4000" stop-color="#73ff84"/><stop offset="0.4118" stop-color="#73ff84"/><stop offset="0.4118" stop-color="#9cff5b"/><stop offset="0.4235" stop-color="#9cff5b"/><stop offset="0.4235" stop-color="#caff2d"/><stop offset="0.4353" stop-color="#caff2d"/><stop offset="0.4353" stop-color="#f7f500"/><stop offset="0.4471" stop-color="#f7f500"/><stop offset="0.4471" stop-color="#feee00"/><stop offset="0.4588" stop-color="#feee00"/><stop offset="0.4588" stop-color="#ffe600"/><stop offset="0.4706" stop-color="#ffe600"/><stop offset="0.4706" stop-color="#ffdf00"/><stop offset="0.4824" stop-color="#ffdf00"/><stop offset="0.4824" stop-color="#ffd700"/><stop offset="0.4941" stop-color="#ffd700"/><stop offset="0.4941" stop-color="#ffd000"/><stop offset="0.5059" stop-color="#ffd000"/><stop offset="0.5059" stop-color="#ffc800"/><stop offset="0.5176" stop-color="#ffc800"/><stop offset="0.5176" stop-color="#ffbc00"/><stop offset="0.5294" stop-color="#ffbc00"/><stop offset="0.5294" stop-color="#ffa100"/><stop offset="0.5412" stop-color="#ffa100"/><stop offset="0.5412" stop-color="#ff8c00"/><stop offset="0.5529" stop-color="#ff8c00"/><stop offset="0.5529" stop-color="#ff9400"/><stop offset="0.5647" stop-color="#ff9400"/><stop offset="0.5647" stop-color="#ffd900"/><stop offset="0.5765" stop-color="#ffd900"/><stop offset="0.5765" stop-color="#fbf000"/><stop offset="0.5882" stop-color="#fbf000"/><stop offset="0.5882" stop-color="#f5f701"/><stop offset="0.6000" stop-color="#f5f701"/><stop offset="0.6000" stop-color="#effe07"/><stop offset="0.6118" stop-color="#effe07"/><stop offset="0.6118" stop-color="#ebff0c"/><stop offset="0.6235" stop-color="#ebff0c"/><stop offset="0.6235" stop-color="#e9ff0e"/><stop offset="0.6353" stop-color="#e9ff0e"/><stop offset="0.6353" stop-color="#e7ff10"/><stop offset="0.6471" stop-color="#e7ff10"/><stop offset="0.6471" stop-color="#e5ff12"/><stop offset="0.6588" stop-color="#e5ff12"/><stop offset="0.6588" stop-color="#e3ff14"/><stop offset="0.6706" stop-color="#e3ff14"/><stop offset="0.6706" stop-color="#e1ff16"/><stop offset="0.6824" stop-color="#e1ff16"/><stop offset="0.6824" stop-color="#dfff17"/><stop offset="0.6941" stop-color="#dfff17"/><stop offset="0.6941" stop-color="#deff18"/><stop offset="0.7059" stop-color="#deff18"/><stop offset="0.7059" stop-color="#deff19"/><stop offset="0.7176" stop-color="#deff19"/><stop offset="0.7176" stop-color="#ddff1a"/><stop offset="0.7412" stop-color="#ddff1a"/><stop offset="0.7412" stop-color="#dcff1b"/><stop offset="0.7529" stop-color="#dcff1b"/><stop offset="0.7529" stop-color="#dbff1b"/><stop offset="0.7647" stop-color="#dbff1b"/><stop offset="0.7647" stop-color="#dbff1c"/><stop offset="0.7765" stop-color="#dbff1c"/><stop offset="0.7765" stop-color="#daff1d"/><stop offset="0.7882" stop-color="#daff1d"/><stop offset="0.7882" stop-color="#d9ff1d"/><stop offset="0.8000" stop-color="#d9ff1d"/><stop offset="0.8000" stop-color="#d9ff1e"/><stop offset="0.8118" stop-color="#d9ff1e"/><stop offset="0.8118" stop-color="#d8ff1f"/><stop offset="0.8353" stop-color="#d8ff1f"/><stop offset="0.8353" stop-color="#d7ff20"/><stop offset="0.8471" stop-color="#d7ff20"/><stop offset="0.8471" stop-color="#d5ff21"/><stop offset="0.8588" stop-color="#d5ff21"/><stop offset="0.8588" stop-color="#d3ff24"/><stop offset="0.8706" stop-color="#d3ff24"/><stop offset="0.8706" stop-color="#d0ff27"/><stop offset="0.8824" stop-color="#d0ff27"/><stop offset="0.8824" stop-color="#cdff29"/><stop offset="0.8941" stop-color="#cdff29"/><stop offset="0.8941" stop-color="#cbff2c"/><stop offset="0.9059" stop-color="#cbff2c"/><stop offset="0.9059" stop-color="#c8ff2f"/><stop offset="0.9176" stop-color="#c8ff2f"/><stop offset="0.9176" stop-color="#c5ff31"/><stop offset="0.9294" stop-color="#c5ff31"/><stop offset="0.9294" stop-color="#c3ff34"/><stop offset="0.9412" stop-color="#c3ff34"/><stop offset="0.9412" stop-color="#bfff37"/><stop offset="0.9529" stop-color="#bfff37"/><stop offset="0.9529" stop-color="#bcff3b"/><stop offset="0.9647" stop-color="#bcff3b"/><stop offset="0.9647" stop-color="#b8ff3f"/><stop offset="0.9765" stop-color="#b8ff3f"/><stop offset="0.9765" stop-color="#b5ff42"/><stop offset="0.9882" stop-color="#b5ff42"/><stop offset="0.9882" stop-color="#b1ff46"/><stop offset="1.0000" stop-color="#b1ff46"/></radialGradient>
<radialGradient id="g57" gradientUnits="userSpaceOnUse" cx="380.20" cy="332.90" r="266.50"><stop offset="0.3071" stop-color="#0000b4"/><stop offset="0.3176" stop-color="#0000b4"/><stop offset="0.3176" stop-color="#0008ff"/><stop offset="0.3294" stop-color="#0008ff"/><stop offset="0.3294" stop-color="#0053ff"/><stop offset="0.3412" stop-color="#0053ff"/><stop offset="0.3412" stop-color="#009aff"/><stop offset="0.3529" stop-color="#009aff"/><stop offset="0.3529" stop-color="#00d6ff"/><stop offset="0.3647" stop-color="#00d6ff"/><stop offset="0.3647" stop-color="#22ffd5"/><stop offset="0.3765" stop-color="#22ffd5"/><stop offset="0.3765" stop-color="#51ffa6"/><stop offset="0.3882" stop-color="#51ffa6"/><stop offset="0.3882" stop-color="#7bff7b"/><stop offset="0.4000" stop-color="#7bff7b"/><stop offset="0.4000" stop-color="#a7ff50"/><stop offset="0.4118" stop-color="#a7ff50"/><stop offset="0.4118" stop-color="#d8ff1f"/><stop offset="0.4235" stop-color="#d8ff1f"/><stop offset="0.4235" stop-color="#faf100"/><stop offset="0.4353" stop-color="#faf100"/><stop offset="0.4353" stop-color="#ffe700"/><stop offset="0.4471" stop-color="#ffe700"/><stop offset="0.4471" stop-color="#ffdc00"/><stop offset="0.4588" stop-color="#ffdc00"/><stop offset="0.4588" stop-color="#ffd100"/><stop offset="0.4706" stop-color="#ffd100"/><stop offset="0.4706" stop-color="#ffca00"/><stop offset="0.4824" stop-color="#ffca00"/><stop offset="0.4824" stop-color="#ffc400"/><stop offset="0.4941" stop-color="#ffc400"/><stop offset="0.4941" stop-color="#ffbd00"/><stop offset="0.5059" stop-color="#ffbd00"/><stop offset="0.5059" stop-color="#ffb600"/><stop offset="0.5176" stop-color="#ffb600"/><stop offset="0.5176" stop-color="#ffa600"/><stop offset="0.5294" stop-color="#ffa600"/><stop offset="0.5294" stop-color="#ff8600"/><stop offset="0.5529" stop-color="#ff8600"/><stop offset="0.5529" stop-color="#ffd000"/><stop offset="0.5647" stop-color="#ffd000"/><stop offset="0.5647" stop-color="#fdef00"/><stop offset="0.5765" stop-color="#fdef00"/><stop offset="0.5765" stop-color="#f7f600"/><stop offset="0.5882" stop-color="#f7f600"/><stop offset="0.5882" stop-color="#f1fd06"/><stop offset="0.6000" stop-color="#f1fd06"/><stop offset="0.6000" stop-color="#ebff0c"/><stop offset="0.6118" stop-color="#ebff0c"/><stop offset="0.6118" stop-color="#e9ff0e"/><stop offset="0.6235" stop-color="#e9ff0e"/><stop offset="0.6235" stop-color="#e7ff10"/><stop offset="0.6353" stop-color="#e7ff10"/><stop offset="0.6353" stop-color="#e5ff11"/><stop offset="0.6471" stop-color="#e5ff11"/><stop offset="0.6471" stop-color="#e3ff13"/><stop offset="0.6588" stop-color="#e3ff13"/><stop offset="0.6588" stop-color="#e2ff15"/><stop offset="0.6706" stop-color="#e2ff15"/><stop offset="0.6706" stop-color="#e0ff17"/><stop offset="0.6824" stop-color="#e0ff17"/><stop offset="0.6824" stop-color="#deff18"/><stop offset="0.6941" stop-color="#deff18"/><stop offset="0.6941" stop-color="#deff19"/><stop offset="0.7059" stop-color="#deff19"/><stop offset="0.7059" stop-color="#ddff1a"/><stop offset="0.7176" stop-color="#ddff1a"/><stop offset="0.7176" stop-color="#dcff1b"/><stop offset="0.7294" stop-color="#dcff1b"/><stop offset="0.7294" stop-color="#dbff1c"/><stop offset="0.7412" stop-color="#dbff1c"/><stop offset="0.7412" stop-color="#daff1d"/><stop offset="0.7529" stop-color="#daff1d"/><stop offset="0.7529" stop-color="#d9ff1e"/><stop offset="0.7647" stop-color="#d9ff1e"/><stop offset="0.7647" stop-color="#d8ff1f"/><stop offset="0.7765" stop-color="#d8ff1f"/><stop offset="0.7765" stop-color="#d7ff1f"/><stop offset="0.7882" stop-color="#d7ff1f"/><stop offset="0.7882" stop-color="#d7ff20"/><stop offset="0.8000" stop-color="#d7ff20"/><stop offset="0.8000" stop-color="#d6ff21"/><stop offset="0.8118" stop-color="#d6ff21"/><stop offset="0.8118" stop-color="#d5ff22"/><stop offset="0.8235" stop-color="#d5ff22"/><stop offset="0.8235" stop-color="#d4ff23"/><stop offset="0.8353" stop-color="#d4ff23"/><stop offset="0.8353" stop-color="#d3ff24"/><stop offset="0.8471" stop-color="#d3ff24"/><stop offset="0.8471" stop-color="#d1ff26"/><stop offset="0.8588" stop-color="#d1ff26"/><stop offset="0.8588" stop-color="#cfff28"/><stop offset="0.8706" stop-color="#cfff28"/><stop offset="0.8706" stop-color="#ccff2b"/><stop offset="0.8824" stop-color="#ccff2b"/><stop offset="0.8824" stop-color="#c9ff2e"/><stop offset="0.8941" stop-color="#c9ff2e"/><stop offset="0.8941" stop-color="#c7ff30"/><stop offset="0.9059" stop-color="#c7ff30"/><stop offset="0.9059" stop-color="#c4ff33"/><stop offset="0.9176" stop-color="#c4ff33"/><stop offset="0.9176" stop-color="#c1ff36"/><stop offset="0.9294" stop-color="#c1ff36"/><stop offset="0.9294" stop-color="#bfff38"/><stop offset="0.9412" stop-color="#bfff38"/><stop offset="0.9412" stop-color="#bbff3b"/><stop offset="0.9529" stop-color="#bbff3b"/><stop offset="0.9529" stop-color="#b8ff3f"/><stop offset="0.9647" stop-color="#b8ff3f"/><stop offset="0.9647" stop-color="#b4ff43"/><stop offset="0.9765" stop-color="#b4ff43"/><stop offset="0.9765" stop-color="#b1ff46"/><stop offset="0.9882" stop-color="#b1ff46"/><stop offset="0.9882" stop-color="#adff4a"/><stop offset="1.0000" stop-color="#adff4a"/></radialGradient>
<radialGradient id="g58" gradientUnits="userSpaceOnUse" cx="380.20" cy="332.90" r="266.50"><stop offset="0.2965" stop-color="#0000b0"/><stop offset="0.3059" stop-color="#0000b0"/><stop offset="0.3059" stop-color="#0005ff"/><stop offset="0.3176" stop-color="#0005ff"/><stop offset="0.3176" stop-color="#0054ff"/><stop offset="0.3294" stop-color="#0054ff"/><stop offset="0.3294" stop-color="#009fff"/><stop offset="0.3412" stop-color="#009fff"/><stop offset="0.3412" stop-color="#00ddfd"/><stop offset="0.3529" stop-color="#00ddfd"/><stop offset="0.3529" stop-color="#2affcc"/><stop offset="0.3647" stop-color="#2affcc"/><stop offset="0.3647" stop-color="#5cff9b"/><stop offset="0.3765" stop-color="#5cff9b"/><stop offset="0.3765" stop-color="#87ff70"/><stop offset="0.3882" stop-color="#87ff70"/><stop offset="0.3882" stop-color="#b7ff3f"/><stop offset="0.4000" stop-color="#b7ff3f"/><stop offset="0.4000" stop-color="#ecff0b"/><stop offset="0.4118" stop-color="#ecff0b"/><stop offset="0.4118" stop-color="#fcef00"/><stop offset="0.4235" stop-color="#fcef00"/><stop offset="0.4235" stop-color="#ffe700"/><stop offset="0.4353" stop-color="#ffe700"/><stop offset="0.4353" stop-color="#ffdf00"/><stop offset="0.4471" stop-color="#ffdf00"/><stop offset="0.4471" stop-color="#ffd700"/><stop offset="0.4588" stop-color="#ffd700"/><stop offset="0.4588" stop-color="#ffd100"/><stop offset="0.4706" stop-color="#ffd100"/><stop offset="0.4706" stop-color="#ffcb00"/><stop offset="0.4824" stop-color="#ffcb00"/><stop offset="0.4824" stop-color="#ffc600"/><stop offset="0.4941" stop-color="#ffc600"/><stop offset="0.4941" stop-color="#ffc000"/><stop offset="0.5059" stop-color="#ffc000"/><stop offset="0.5059" stop-color="#ffbb00"/><stop offset="0.5176" stop-color="#ffbb00"/><stop offset="0.5176" stop-color="#ffaa00"/><stop offset="0.5294" stop-color="#ffaa00"/><stop offset="0.5294" stop-color="#ff8200"/><stop offset="0.5529" stop-color="#ff8200"/><stop offset="0.5529" stop-color="#ffd000"/><stop offset="0.5647" stop-color="#ffd000"/><stop offset="0.5647" stop-color="#fdef00"/><stop offset="0.5765" stop-color="#fdef00"/><stop offset="0.5765" stop-color="#f7f600"/><stop offset="0.5882" stop-color="#f7f600"/><stop offset="0.5882" stop-color="#f1fd06"/><stop offset="0.6000" stop-color="#f1fd06"/><stop offset="0.6000" stop-color="#ebff0c"/><stop offset="0.6118" stop-color="#ebff0c"/><stop offset="0.6118" stop-color="#e9ff0e"/><stop offset="0.6235" stop-color="#e9ff0e"/><stop offset="0.6235" stop-color="#e7ff10"/><stop offset="0.6353" stop-color="#e7ff10"/><stop offset="0.6353" stop-color="#e5ff11"/><stop offset="0.6471" stop-color="#e5ff11"/><stop offset="0.6471" stop-color="#e3ff13"/><stop offset="0.6588" stop-color="#e3ff13"/><stop offset="0.6588" stop-color="#e2ff15"/><stop offset="0.6706" stop-color="#e2ff15"/><stop offset="0.6706" stop-color="#e0ff17"/><stop offset="0.6824" stop-color="#e0ff17"/><stop offset="0.6824" stop-color="#deff18"/><stop offset="0.6941" stop-color="#deff18"/><stop offset="0.6941" stop-color="#ddff1a"/><stop offset="0.7059" stop-color="#ddff1a"/><stop offset="0.7059" stop-color="#dcff1b"/><stop offset="0.7176" stop-color="#dcff1b"/><stop offset="0.7176" stop-color="#dbff1c"/><stop offset="0.7294" stop-color="#dbff1c"/><stop offset="0.7294" stop-color="#daff1d"/><stop offset="0.7412" stop-color="#daff1d"/><stop offset="0.7412" stop-color="#d9ff1e"/><stop offset="0.7529" stop-color="#d9ff1e"/><stop offset="0.7529" stop-color="#d8ff1f"/><stop offset="0.7647" stop-color="#d8ff1f"/><stop offset="0.7647" stop-color="#d7ff20"/><stop offset="0.7765" stop-color="#d7ff20"/><stop offset="0.7765" stop-color="#d6ff21"/><stop offset="0.7882" stop-color="#d6ff21"/><stop offset="0.7882" stop-color="#d5ff22"/><stop offset="0.8000" stop-color="#d5ff22"/><stop offset="0.8000" stop-color="#d4ff23"/><stop offset="0.8118" stop-color="#d4ff23"/><stop offset="0.8118" stop-color="#d3ff24"/><stop offset="0.8235" stop-color="#d3ff24"/><stop offset="0.8235" stop-color="#d2ff25"/><stop offset="0.8353" stop-color="#d2ff25"/><stop offset="0.8353" stop-color="#d1ff26"/><stop offset="0.8471" stop-color="#d1ff26"/><stop offset="0.8471" stop-color="#cfff28"/><stop offset="0.8588" stop-color="#cfff28"/><stop offset="0.8588" stop-color="#ccff2b"/><stop offset="0.8706" stop-color="#ccff2b"/><stop offset="0.8706" stop-color="#c9ff2d"/><stop offset="0.8824" stop-color="#c9ff2d"/><stop offset="0.8824" stop-color="#c7ff30"/><stop offset="0.8941" stop-color="#c7ff30"/><stop offset="0.8941" stop-color="#c4ff33"/><stop offset="0.9059" stop-color="#c4ff33"/><stop offset="0.9059" stop-color="#c1ff35"/><stop offset="0.9176" stop-color="#c1ff35"/><stop offset="0.9176" stop-color="#bfff38"/><stop offset="0.9294" stop-color="#bfff38"/><stop offset="0.9294" stop-color="#bcff3b"/><stop offset="0.9412" stop-color="#bcff3b"/><stop offset="0.9412" stop-color="#b9ff3e"/><stop offset="0.9529" stop-color="#b9ff3e"/><stop offset="0.9529" stop-color="#b5ff41"/><stop offset="0.9647" stop-color="#b5ff41"/><stop offset="0.9647" stop-color="#b2ff45"/><stop offset="0.9765" stop-color="#b2ff45"/><stop offset="0.9765" stop-color="#aeff49"/><stop offset="0.9882" stop-color="#aeff49"/><stop offset="0.9882" stop-color="#aaff4c"/><stop offset="1.0000" stop-color="#aaff4c"/></radialGradient>
<radialGradient id="g59" gradientUnits="userSpaceOnUse" cx="380.20" cy="332.90" r="266.50"><stop offset="0.2882" stop-color="#0000a4"/><stop offset="0.2941" stop-color="#0000a4"/><stop offset="0.2941" stop-color="#0000ff"/><stop offset="0.3059" stop-color="#0000ff"/><stop offset="0.3059" stop-color="#005aff"/><stop offset="0.3176" stop-color="#005aff"/><stop offset="0.3176" stop-color="#00b1ff"/><stop offset="0.3294" stop-color="#00b1ff"/><stop offset="0.3294" stop-color="#0ff9e7"/><stop offset="0.3412" stop-color="#0ff9e7"/><stop offset="0.3412" stop-color="#4affad"/><stop offset="0.3529" stop-color="#4affad"/><stop offset="0.3529" stop-color="#7fff77"/><stop offset="0.3647" stop-color="#7fff77"/><stop offset="0.3647" stop-color="#b8ff3f"/><stop offset="0.3765" stop-color="#b8ff3f"/><stop offset="0.3765" stop-color="#f7f600"/><stop offset="0.3882" stop-color="#f7f600"/><stop offset="0.3882" stop-color="#ffeb00"/><stop offset="0.4000" stop-color="#ffeb00"/><stop offset="0.4000" stop-color="#ffe100"/><stop offset="0.4118" stop-color="#ffe100"/><stop offset="0.4118" stop-color="#ffd700"/><stop offset="0.4235" stop-color="#ffd700"/><stop offset="0.4235" stop-color="#ffcd00"/><stop offset="0.4353" stop-color="#ffcd00"/><stop offset="0.4353" stop-color="#ffc200"/><stop offset="0.4471" stop-color="#ffc200"/><stop offset="0.4471" stop-color="#ffbe00"/><stop offset="0.4588" stop-color="#ffbe00"/><stop offset="0.4588" stop-color="#ffba00"/><stop offset="0.4706" stop-color="#ffba00"/><stop offset="0.4706" stop-color="#ffb500"/><stop offset="0.4824" stop-color="#ffb500"/><stop offset="0.4824" stop-color="#ffb100"/><stop offset="0.4941" stop-color="#ffb100"/><stop offset="0.4941" stop-color="#ffad00"/><stop offset="0.5059" stop-color="#ffad00"/><stop offset="0.5059" stop-color="#ffa900"/><stop offset="0.5176" stop-color="#ffa900"/><stop offset="0.5176" stop-color="#ff9b00"/><stop offset="0.5294" stop-color="#ff9b00"/><stop offset="0.5294" stop-color="#ff8000"/><stop offset="0.5529" stop-color="#ff8000"/><stop offset="0.5529" stop-color="#ffc600"/><stop offset="0.5647" stop-color="#ffc600"/><stop offset="0.5647" stop-color="#feed00"/><stop offset="0.5765" stop-color="#feed00"/><stop offset="0.5765" stop-color="#f8f400"/><stop offset="0.5882" stop-color="#f8f400"/><stop offset="0.5882" stop-color="#f2fb05"/><stop offset="0.6000" stop-color="#f2fb05"/><stop offset="0.6000" stop-color="#ecff0b"/><stop offset="0.6118" stop-color="#ecff0b"/><stop offset="0.6118" stop-color="#eaff0d"/><stop offset="0.6235" stop-color="#eaff0d"/><stop offset="0.6235" stop-color="#e8ff0f"/><stop offset="0.6353" stop-color="#e8ff0f"/><stop offset="0.6353" stop-color="#e6ff11"/><stop offset="0.6471" stop-color="#e6ff11"/><stop offset="0.6471" stop-color="#e4ff13"/><stop offset="0.6588" stop-color="#e4ff13"/><stop offset="0.6588" stop-color="#e2ff15"/><stop offset="0.6706" stop-color="#e2ff15"/><stop offset="0.6706" stop-color="#e0ff17"/><stop offset="0.6824" stop-color="#e0ff17"/><stop offset="0.6824" stop-color="#deff18"/><stop offset="0.6941" stop-color="#deff18"/><stop offset="0.6941" stop-color="#ddff1a"/><stop offset="0.7059" stop-color="#ddff1a"/><stop offset="0.7059" stop-color="#dcff1b"/><stop offset="0.7176" stop-color="#dcff1b"/><stop offset="0.7176" stop-color="#dbff1c"/><stop offset="0.7294" stop-color="#dbff1c"/><stop offset="0.7294" stop-color="#daff1d"/><stop offset="0.7412" stop-color="#daff1d"/><stop offset="0.7412" stop-color="#d9ff1e"/><stop offset="0.7529" stop-color="#d9ff1e"/><stop offset="0.7529" stop-color="#d7ff1f"/><stop offset="0.7647" stop-color="#d7ff1f"/><stop offset="0.7647" stop-color="#d6ff21"/><stop offset="0.7765" stop-color="#d6ff21"/><stop offset="0.7765" stop-color="#d5ff22"/><stop offset="0.7882" stop-color="#d5ff22"/><stop offset="0.7882" stop-color="#d4ff23"/><stop offset="0.8000" stop-color="#d4ff23"/><stop offset="0.8000" stop-color="#d3ff24"/><stop offset="0.8118" stop-color="#d3ff24"/><stop offset="0.8118" stop-color="#d1ff25"/><stop offset="0.8235" stop-color="#d1ff25"/><stop offset="0.8235" stop-color="#d0ff27"/><stop offset="0.8353" stop-color="#d0ff27"/><stop offset="0.8353" stop-color="#cfff28"/><stop offset="0.8471" stop-color="#cfff28"/><stop offset="0.8471" stop-color="#cdff2a"/><stop offset="0.8588" stop-color="#cdff2a"/><stop offset="0.8588" stop-color="#caff2c"/><stop offset="0.8706" stop-color="#caff2c"/><stop offset="0.8706" stop-color="#c8ff2f"/><stop offset="0.8824" stop-color="#c8ff2f"/><stop offset="0.8824" stop-color="#c5ff32"/><stop offset="0.8941" stop-color="#c5ff32"/><stop offset="0.8941" stop-color="#c2ff34"/><stop offset="0.9059" stop-color="#c2ff34"/><stop offset="0.9059" stop-color="#c0ff37"/><stop offset="0.9176" stop-color="#c0ff37"/><stop offset="0.9176" stop-color="#bdff3a"/><stop offset="0.9294" stop-color="#bdff3a"/><stop offset="0.9294" stop-color="#baff3c"/><stop offset="0.9412" stop-color="#baff3c"/><stop offset="0.9412" stop-color="#b7ff40"/><stop offset="0.9529" stop-color="#b7ff40"/><stop offset="0.9529" stop-color="#b4ff43"/><stop offset="0.9647" stop-color="#b4ff43"/><stop offset="0.9647" stop-color="#b0ff47"/><stop offset="0.9765" stop-color="#b0ff47"/><stop offset="0.9765" stop-color="#acff4a"/><stop offset="0.9882" stop-color="#acff4a"/><stop offset="0.9882" stop-color="#a9ff4e"/><stop offset="1.0000" stop-color="#a9ff4e"/></radialGradient><linearGradient id="cb" x1="0" y1="0" x2="0" y2="1"><stop offset="0.0000" stop-color="#800000"/><stop offset="0.0156" stop-color="#920000"/><stop offset="0.0312" stop-color="#a40000"/><stop offset="0.0469" stop-color="#b60000"/><stop offset="0.0625" stop-color="#c80000"/><stop offset="0.0781" stop-color="#da0000"/><stop offset="0.0938" stop-color="#ec0400"/><stop offset="0.1094" stop-color="#fe1200"/><stop offset="0.1250" stop-color="#ff2100"/><stop offset="0.1406" stop-color="#ff3000"/><stop offset="0.1562" stop-color="#ff3f00"/><stop offset="0.1719" stop-color="#ff4d00"/><stop offset="0.1875" stop-color="#ff5c00"/><stop offset="0.2031" stop-color="#ff6b00"/><stop offset="0.2188" stop-color="#ff7a00"/><stop offset="0.2344" stop-color="#ff8800"/><stop offset="0.2500" stop-color="#ff9700"/><stop offset="0.2656" stop-color="#ffa600"/><stop offset="0.2812" stop-color="#ffb500"/><stop offset="0.2969" stop-color="#ffc300"/><stop offset="0.3125" stop-color="#ffd200"/><stop offset="0.3281" stop-color="#ffe100"/><stop offset="0.3438" stop-color="#fcf000"/><stop offset="0.3594" stop-color="#effe08"/><stop offset="0.3750" stop-color="#e2ff15"/><stop offset="0.3906" stop-color="#d5ff21"/><stop offset="0.4062" stop-color="#c9ff2e"/><stop offset="0.4219" stop-color="#bcff3b"/><stop offset="0.4375" stop-color="#afff48"/><stop offset="0.4531" stop-color="#a2ff55"/><stop offset="0.4688" stop-color="#95ff62"/><stop offset="0.4844" stop-color="#88ff6f"/><stop offset="0.5000" stop-color="#7bff7b"/><stop offset="0.5156" stop-color="#6fff88"/><stop offset="0.5312" stop-color="#62ff95"/><stop offset="0.5469" stop-color="#55ffa2"/><stop offset="0.5625" stop-color="#48ffaf"/><stop offset="0.5781" stop-color="#3bffbc"/><stop offset="0.5938" stop-color="#2effc9"/><stop offset="0.6094" stop-color="#21ffd5"/><stop offset="0.6250" stop-color="#15ffe2"/><stop offset="0.6406" stop-color="#08efef"/><stop offset="0.6562" stop-color="#00dffc"/><stop offset="0.6719" stop-color="#00cfff"/><stop offset="0.6875" stop-color="#00bfff"/><stop offset="0.7031" stop-color="#00afff"/><stop offset="0.7188" stop-color="#009fff"/><stop offset="0.7344" stop-color="#008fff"/><stop offset="0.7500" stop-color="#0080ff"/><stop offset="0.7656" stop-color="#0070ff"/><stop offset="0.7812" stop-color="#0060ff"/><stop offset="0.7969" stop-color="#0050ff"/><stop offset="0.8125" stop-color="#0040ff"/><stop offset="0.8281" stop-color="#0030ff"/><stop offset="0.8438" stop-color="#0020ff"/><stop offset="0.8594" stop-color="#0010ff"/><stop offset="0.8750" stop-color="#0000ff"/><stop offset="0.8906" stop-color="#0000fe"/><stop offset="0.9062" stop-color="#0000ec"/><stop offset="0.9219" stop-color="#0000da"/><stop offset="0.9375" stop-color="#0000c8"/><stop offset="0.9531" stop-color="#0000b6"/><stop offset="0.9688" stop-color="#0000a4"/><stop offset="0.9844" stop-color="#000092"/><stop offset="1.0000" stop-color="#000080"/></linearGradient>
<filter id="tx" x="0" y="0" width="800" height="666" filterUnits="userSpaceOnUse" color-interpolation-filters="sRGB"><feOffset dx="0" dy="0"/></filter><clipPath id="cp"><circle cx="380.20" cy="332.90" r="266.50"/></clipPath></defs>
<g clip-path="url(#cp)" shape-rendering="crispEdges">
<path d="M454.09 336.85L646.32 347.13A266.50 266.50 0 0 0 646.32 318.67L454.09 328.95A73.99 73.99 0 0 1 454.09 336.85Z" fill="url(#g0)"/>
<path d="M454.10 329.10L646.35 319.23A266.50 266.50 0 0 0 643.38 290.93L453.27 321.25A73.99 73.99 0 0 1 454.10 329.10Z" fill="url(#g1)"/>
<path d="M448.96 322.08L643.46 291.49A266.50 266.50 0 0 0 637.55 263.66L447.41 314.81A69.60 69.60 0 0 1 448.96 322.08Z" fill="url(#g2)"/>
<path d="M450.78 314.07L637.69 264.19A266.50 266.50 0 0 0 628.90 237.13L448.37 306.65A73.05 73.05 0 0 1 450.78 314.07Z" fill="url(#g3)"/>
<path d="M458.09 303.09L629.10 237.66A266.50 266.50 0 0 0 617.53 211.66L454.47 294.96A83.40 83.40 0 0 1 458.09 303.09Z" fill="url(#g4)"/>
<path d="M453.99 295.40L617.78 212.16A266.50 266.50 0 0 0 603.55 187.52L449.57 287.75A82.77 82.77 0 0 1 453.99 295.40Z" fill="url(#g5)"/>
<path d="M449.14 288.23L603.86 187.99A266.50 266.50 0 0 0 587.13 164.97L443.98 281.14A82.14 82.14 0 0 1 449.14 288.23Z" fill="url(#g6)"/>
<path d="M443.60 281.67L587.48 165.40A266.50 266.50 0 0 0 568.45 144.26L437.78 275.20A81.52 81.52 0 0 1 443.60 281.67Z" fill="url(#g7)"/>
<path d="M437.24 275.98L568.84 144.65A266.50 266.50 0 0 0 547.70 125.62L430.84 270.23A80.58 80.58 0 0 1 437.24 275.98Z" fill="url(#g8)"/>
<path d="M429.79 271.79L548.13 125.97A266.50 266.50 0 0 0 525.11 109.24L422.99 266.86A78.70 78.70 0 0 1 429.79 271.79Z" fill="url(#g9)"/>
<path d="M422.27 268.26L525.58 109.55A266.50 266.50 0 0 0 500.94 95.32L415.14 264.14A77.13 77.13 0 0 1 422.27 268.26Z" fill="url(#g10)"/>
<path d="M414.43 265.89L501.44 95.57A266.50 266.50 0 0 0 475.44 84.00L407.09 262.62A75.25 75.25 0 0 1 414.43 265.89Z" fill="url(#g11)"/>
<path d="M406.90 263.56L475.97 84.20A266.50 266.50 0 0 0 448.91 75.41L399.36 261.11A74.31 74.31 0 0 1 406.90 263.56Z" fill="url(#g12)"/>
<path d="M399.26 262.05L449.44 75.55A266.50 266.50 0 0 0 421.61 69.64L391.60 260.43A73.37 73.37 0 0 1 399.26 262.05Z" fill="url(#g13)"/>
<path d="M391.75 260.45L422.17 69.72A266.50 266.50 0 0 0 393.87 66.75L383.96 259.63A73.37 73.37 0 0 1 391.75 260.45Z" fill="url(#g14)"/>
<path d="M384.13 259.33L394.43 66.78A266.50 266.50 0 0 0 365.97 66.78L376.27 259.33A73.68 73.68 0 0 1 384.13 259.33Z" fill="url(#g15)"/>
<path d="M376.42 259.32L366.53 66.75A266.50 266.50 0 0 0 338.23 69.72L368.60 260.14A73.68 73.68 0 0 1 376.42 259.32Z" fill="url(#g16)"/>
<path d="M368.60 259.19L338.79 69.64A266.50 266.50 0 0 0 310.96 75.55L360.81 260.84A74.62 74.62 0 0 1 368.60 259.19Z" fill="url(#g17)"/>
<path d="M360.80 260.20L311.49 75.41A266.50 266.50 0 0 0 284.43 84.20L353.16 262.68A75.25 75.25 0 0 1 360.80 260.20Z" fill="url(#g18)"/>
<path d="M352.86 261.45L284.96 84.00A266.50 266.50 0 0 0 258.96 95.57L345.40 264.77A76.50 76.50 0 0 1 352.86 261.45Z" fill="url(#g19)"/>
<path d="M343.98 261.63L259.46 95.32A266.50 266.50 0 0 0 234.82 109.55L336.59 265.89A79.95 79.95 0 0 1 343.98 261.63Z" fill="url(#g20)"/>
<path d="M334.68 262.65L235.29 109.24A266.50 266.50 0 0 0 212.27 125.97L327.45 267.90A83.71 83.71 0 0 1 334.68 262.65Z" fill="url(#g21)"/>
<path d="M324.04 263.40L212.70 125.62A266.50 266.50 0 0 0 191.56 144.65L316.95 269.78A89.36 89.36 0 0 1 324.04 263.40Z" fill="url(#g22)"/>
<path d="M310.44 262.99L191.95 144.26A266.50 266.50 0 0 0 172.92 165.40L303.38 270.83A98.76 98.76 0 0 1 310.44 262.99Z" fill="url(#g23)"/>
<path d="M298.16 266.32L173.27 164.97A266.50 266.50 0 0 0 156.54 187.99L291.53 275.45A105.66 105.66 0 0 1 298.16 266.32Z" fill="url(#g24)"/>
<path d="M284.81 270.81L156.85 187.52A266.50 266.50 0 0 0 142.62 212.16L278.74 281.34A113.81 113.81 0 0 1 284.81 270.81Z" fill="url(#g25)"/>
<path d="M271.87 277.56L142.87 211.66A266.50 266.50 0 0 0 131.30 237.66L266.58 289.42A121.65 121.65 0 0 1 271.87 277.56Z" fill="url(#g26)"/>
<path d="M256.44 285.24L131.50 237.13A266.50 266.50 0 0 0 122.71 264.19L252.06 298.71A132.62 132.62 0 0 1 256.44 285.24Z" fill="url(#g27)"/>
<path d="M239.42 295.02L122.85 263.66A266.50 266.50 0 0 0 116.94 291.49L236.18 310.24A145.79 145.79 0 0 1 239.42 295.02Z" fill="url(#g28)"/>
<path d="M236.54 309.99L117.02 290.93A266.50 266.50 0 0 0 114.05 319.23L234.91 325.44A145.48 145.48 0 0 1 236.54 309.99Z" fill="url(#g29)"/>
<path d="M233.68 325.07L114.08 318.67A266.50 266.50 0 0 0 114.08 347.13L233.68 340.73A146.73 146.73 0 0 1 233.68 325.07Z" fill="url(#g30)"/>
<path d="M236.79 340.27L114.05 346.57A266.50 266.50 0 0 0 117.02 374.87L238.40 355.51A143.60 143.60 0 0 1 236.79 340.27Z" fill="url(#g31)"/>
<path d="M242.06 354.63L116.94 374.31A266.50 266.50 0 0 0 122.85 402.14L245.17 369.23A139.83 139.83 0 0 1 242.06 354.63Z" fill="url(#g32)"/>
<path d="M248.12 368.14L122.71 401.61A266.50 266.50 0 0 0 131.50 428.67L252.63 382.02A136.70 136.70 0 0 1 248.12 368.14Z" fill="url(#g33)"/>
<path d="M255.46 380.63L131.30 428.14A266.50 266.50 0 0 0 142.87 454.14L261.26 393.66A133.56 133.56 0 0 1 255.46 380.63Z" fill="url(#g34)"/>
<path d="M261.97 392.99L142.62 453.64A266.50 266.50 0 0 0 156.85 478.28L269.05 405.25A132.62 132.62 0 0 1 261.97 392.99Z" fill="url(#g35)"/>
<path d="M271.00 403.65L156.54 477.81A266.50 266.50 0 0 0 173.27 500.83L279.17 414.89A130.11 130.11 0 0 1 271.00 403.65Z" fill="url(#g36)"/>
<path d="M281.43 412.71L172.92 500.40A266.50 266.50 0 0 0 191.95 521.54L290.51 422.78A126.98 126.98 0 0 1 281.43 412.71Z" fill="url(#g37)"/>
<path d="M292.54 420.38L191.56 521.15A266.50 266.50 0 0 0 212.70 540.18L302.36 429.23A123.84 123.84 0 0 1 292.54 420.38Z" fill="url(#g38)"/>
<path d="M303.94 426.87L212.27 539.83A266.50 266.50 0 0 0 235.29 556.56L314.39 434.47A121.02 121.02 0 0 1 303.94 426.87Z" fill="url(#g39)"/>
<path d="M315.21 432.75L234.82 556.25A266.50 266.50 0 0 0 259.46 570.48L326.22 439.11A119.14 119.14 0 0 1 315.21 432.75Z" fill="url(#g40)"/>
<path d="M326.86 437.32L258.96 570.23A266.50 266.50 0 0 0 284.96 581.80L338.29 442.42A117.26 117.26 0 0 1 326.86 437.32Z" fill="url(#g41)"/>
<path d="M338.51 441.16L284.43 581.60A266.50 266.50 0 0 0 311.49 590.39L350.29 444.98A116.01 116.01 0 0 1 338.51 441.16Z" fill="url(#g42)"/>
<path d="M350.30 444.01L310.96 590.25A266.50 266.50 0 0 0 338.79 596.16L362.32 446.57A115.07 115.07 0 0 1 350.30 444.01Z" fill="url(#g43)"/>
<path d="M362.23 445.60L338.23 596.08A266.50 266.50 0 0 0 366.53 599.05L374.35 446.87A114.12 114.12 0 0 1 362.23 445.60Z" fill="url(#g44)"/>
<path d="M374.14 446.24L365.97 599.02A266.50 266.50 0 0 0 394.43 599.02L386.26 446.24A113.50 113.50 0 0 1 374.14 446.24Z" fill="url(#g45)"/>
<path d="M385.89 443.74L393.87 599.05A266.50 266.50 0 0 0 422.17 596.08L397.68 442.50A110.99 110.99 0 0 1 385.89 443.74Z" fill="url(#g46)"/>
<path d="M397.01 439.75L421.61 596.16A266.50 266.50 0 0 0 449.44 590.25L408.31 437.35A108.17 108.17 0 0 1 397.01 439.75Z" fill="url(#g47)"/>
<path d="M407.68 435.90L448.91 590.39A266.50 266.50 0 0 0 475.97 581.60L418.51 432.38A106.60 106.60 0 0 1 407.68 435.90Z" fill="url(#g48)"/>
<path d="M417.51 430.41L475.44 581.80A266.50 266.50 0 0 0 501.44 570.23L427.70 425.88A104.41 104.41 0 0 1 417.51 430.41Z" fill="url(#g49)"/>
<path d="M426.51 424.02L500.94 570.48A266.50 266.50 0 0 0 525.58 556.25L435.96 418.56A102.21 102.21 0 0 1 426.51 424.02Z" fill="url(#g50)"/>
<path d="M435.10 417.63L525.11 556.56A266.50 266.50 0 0 0 548.13 539.83L443.82 411.29A100.96 100.96 0 0 1 435.10 417.63Z" fill="url(#g51)"/>
<path d="M442.08 409.47L547.70 540.18A266.50 266.50 0 0 0 568.84 521.15L449.89 402.44A98.45 98.45 0 0 1 442.08 409.47Z" fill="url(#g52)"/>
<path d="M446.20 399.04L568.45 521.54A266.50 266.50 0 0 0 587.48 500.40L452.87 391.62A93.43 93.43 0 0 1 446.20 399.04Z" fill="url(#g53)"/>
<path d="M450.07 389.60L587.13 500.83A266.50 266.50 0 0 0 603.86 477.81L455.72 381.83A89.98 89.98 0 0 1 450.07 389.60Z" fill="url(#g54)"/>
<path d="M452.99 380.28L603.55 478.28A266.50 266.50 0 0 0 617.78 453.64L457.62 372.25A86.85 86.85 0 0 1 452.99 380.28Z" fill="url(#g55)"/>
<path d="M455.87 371.55L617.53 454.14A266.50 266.50 0 0 0 629.10 428.14L459.55 363.27A84.97 84.97 0 0 1 455.87 371.55Z" fill="url(#g56)"/>
<path d="M456.57 362.31L628.90 428.67A266.50 266.50 0 0 0 637.69 401.61L459.26 354.00A81.83 81.83 0 0 1 456.57 362.31Z" fill="url(#g57)"/>
<path d="M456.50 353.43L637.55 402.14A266.50 266.50 0 0 0 643.46 374.31L458.25 345.18A79.01 79.01 0 0 1 456.50 353.43Z" fill="url(#g58)"/>
<path d="M456.06 345.00L643.38 374.87A266.50 266.50 0 0 0 646.35 346.57L456.91 336.84A76.81 76.81 0 0 1 456.06 345.00Z" fill="url(#g59)"/>
</g>
<path d="M380.20 301.55A31.35 31.35 0 0 0 380.20 364.25Z" fill="#eeeeff"/>
<path d="M380.20 302.50A30.40 30.40 0 0 1 380.20 363.30Z" fill="#333333"/>
<g fill="none" stroke="#b0b0b0" stroke-width="1.11"><circle cx="380.20" cy="332.90" r="31.35"/><circle cx="380.20" cy="332.90" r="62.71"/><circle cx="380.20" cy="332.90" r="94.06"/><circle cx="380.20" cy="332.90" r="125.41"/><circle cx="380.20" cy="332.90" r="156.76"/><circle cx="380.20" cy="332.90" r="188.12"/><circle cx="380.20" cy="332.90" r="219.47"/><circle cx="380.20" cy="332.90" r="250.82"/><path d="M380.20 332.90L568.64 144.46"/><path d="M380.20 332.90L191.76 144.46"/><path d="M380.20 332.90L191.76 521.34"/><path d="M380.20 332.90L568.64 521.34"/><path d="M113.70 333.5H646.70" stroke-width="1"/><path d="M380.5 66.40V599.40" stroke-width="1"/></g>
<circle cx="380.20" cy="332.90" r="266.50" fill="none" stroke="#000" stroke-width="1.11"/>
<g filter="url(#tx)">
<g font-size="13.89" text-anchor="middle">
<text x="662.4" y="337.0">0</text>
<text x="380.4" y="56.4">6</text>
<text x="98.4" y="337.0">12</text>
<text x="380.6" y="619.2">18</text>
<text x="355.63" y="342.25">1</text>
<text x="326.67" y="354.25">2</text>
<text x="297.70" y="366.24">3</text>
<text x="268.73" y="378.24">4</text>
<text x="239.77" y="390.24">5</text>
<text x="210.80" y="402.24">6</text>
<text x="181.84" y="414.24">7</text>
<text x="152.87" y="426.24">8</text>
</g>
<text x="113.1" y="64" font-size="13.89" textLength="106.5" lengthAdjust="spacing">He1 50-100keV</text>
<text x="438.8" y="64" font-size="13.89" textLength="208" lengthAdjust="spacing">IMPTAM 2025-12-21T06:00:00</text>
</g>
<rect x="720.30" y="133.20" width="8.30" height="400.00" fill="url(#cb)"/>
<rect x="720.30" y="133.20" width="8.30" height="400.00" fill="none" stroke="#000" stroke-width="1.11"/>
<g stroke="#000" fill="none"><path d="M728.60 533.20h4.86" stroke-width="1.11"/><path d="M728.60 503.10h2.78" stroke-width="0.83"/><path d="M728.60 485.49h2.78" stroke-width="0.83"/><path d="M728.60 472.99h2.78" stroke-width="0.83"/><path d="M728.60 463.30h2.78" stroke-width="0.83"/><path d="M728.60 455.38h2.78" stroke-width="0.83"/><path d="M728.60 448.69h2.78" stroke-width="0.83"/><path d="M728.60 442.89h2.78" stroke-width="0.83"/><path d="M728.60 437.78h2.78" stroke-width="0.83"/><path d="M728.60 433.20h4.86" stroke-width="1.11"/><path d="M728.60 403.10h2.78" stroke-width="0.83"/><path d="M728.60 385.49h2.78" stroke-width="0.83"/><path d="M728.60 372.99h2.78" stroke-width="0.83"/><path d="M728.60 363.30h2.78" stroke-width="0.83"/><path d="M728.60 355.38h2.78" stroke-width="0.83"/><path d="M728.60 348.69h2.78" stroke-width="0.83"/><path d="M728.60 342.89h2.78" stroke-width="0.83"/><path d="M728.60 337.78h2.78" stroke-width="0.83"/><path d="M728.60 333.20h4.86" stroke-width="1.11"/><path d="M728.60 303.10h2.78" stroke-width="0.83"/><path d="M728.60 285.49h2.78" stroke-width="0.83"/><path d="M728.60 272.99h2.78" stroke-width="0.83"/><path d="M728.60 263.30h2.78" stroke-width="0.83"/><path d="M728.60 255.38h2.78" stroke-width="0.83"/><path d="M728.60 248.69h2.78" stroke-width="0.83"/><path d="M728.60 242.89h2.78" stroke-width="0.83"/><path d="M728.60 237.78h2.78" stroke-width="0.83"/><path d="M728.60 233.20h4.86" stroke-width="1.11"/><path d="M728.60 203.10h2.78" stroke-width="0.83"/><path d="M728.60 185.49h2.78" stroke-width="0.83"/><path d="M728.60 172.99h2.78" stroke-width="0.83"/><path d="M728.60 163.30h2.78" stroke-width="0.83"/><path d="M728.60 155.38h2.78" stroke-width="0.83"/><path d="M728.60 148.69h2.78" stroke-width="0.83"/><path d="M728.60 142.89h2.78" stroke-width="0.83"/><path d="M728.60 137.78h2.78" stroke-width="0.83"/><path d="M728.60 133.20h4.86" stroke-width="1.11"/></g>
<g filter="url(#tx)">
<text x="739.2" y="539.40" font-size="13.89">10<tspan dy="-4.1" font-size="9.72" letter-spacing="-0.6">−1</tspan></text>
<text x="739.2" y="439.40" font-size="13.89">10<tspan dy="-4.1" font-size="9.72">0</tspan></text>
<text x="739.2" y="339.40" font-size="13.89">10<tspan dy="-4.1" font-size="9.72">1</tspan></text>
<text x="739.2" y="239.40" font-size="13.89">10<tspan dy="-4.1" font-size="9.72">2</tspan></text>
<text x="739.2" y="139.40" font-size="13.89">10<tspan dy="-4.1" font-size="9.72">3</tspan></text>
<text transform="translate(786.0 335.0) rotate(-90)" font-size="13.89" text-anchor="middle">flux, 1/cm^2*sec*keV*sr</text>
</g>
</svg></body></html>
